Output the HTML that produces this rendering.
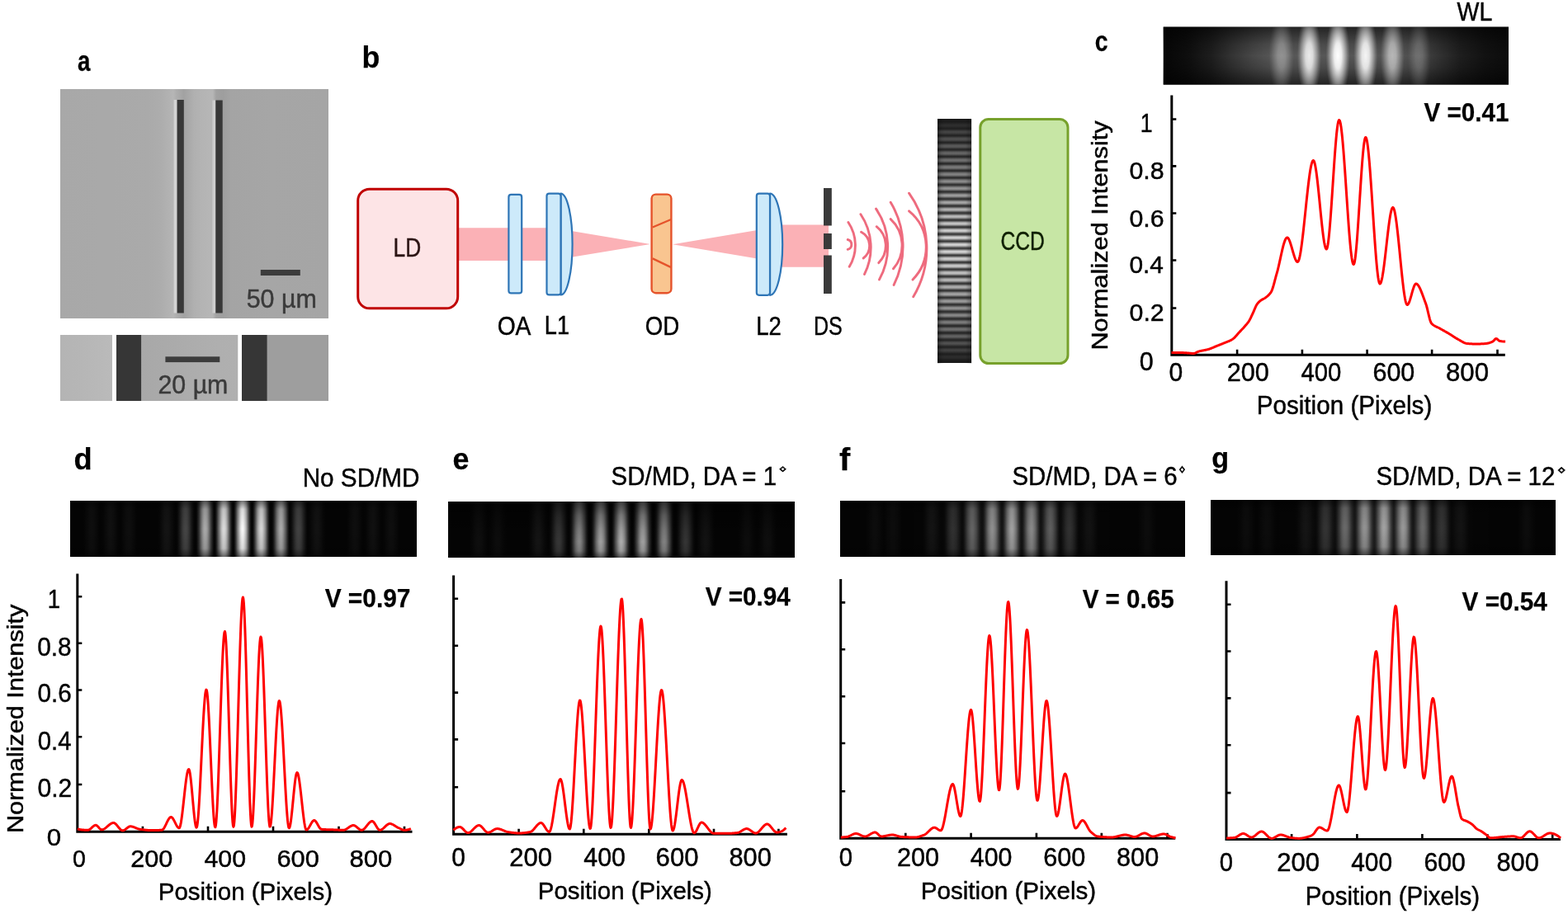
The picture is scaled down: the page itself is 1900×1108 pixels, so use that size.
<!DOCTYPE html><html><head><meta charset="utf-8"><title>Figure</title><style>html,body{margin:0;padding:0;background:#fff;overflow:hidden}svg{display:block}</style></head><body><svg width="1900" height="1108" viewBox="0 0 1900 1108" font-family="&quot;Liberation Sans&quot;, &quot;DejaVu Sans&quot;, sans-serif"><defs><linearGradient id="sg1_0" gradientUnits="userSpaceOnUse" x1="73" y1="0" x2="137" y2="0"><stop offset="0" stop-color="#a8a8a8"/><stop offset="0.73" stop-color="#a9a9a9"/><stop offset="1" stop-color="#a9a9a9"/></linearGradient><linearGradient id="sg1_1" gradientUnits="userSpaceOnUse" x1="137" y1="0" x2="201" y2="0"><stop offset="0" stop-color="#a9a9a9"/><stop offset="0.67" stop-color="#aaaaaa"/><stop offset="0.91" stop-color="#adadad"/><stop offset="1" stop-color="#b0b0b0"/></linearGradient><linearGradient id="sg1_2" gradientUnits="userSpaceOnUse" x1="201" y1="0" x2="265" y2="0"><stop offset="0" stop-color="#b0b0b0"/><stop offset="0.06" stop-color="#b2b2b2"/><stop offset="0.14" stop-color="#b6b6b6"/><stop offset="0.2" stop-color="#aeaeae"/><stop offset="0.34" stop-color="#a2a2a2"/><stop offset="0.42" stop-color="#a8a8a8"/><stop offset="0.53" stop-color="#b0b0b0"/><stop offset="0.69" stop-color="#b4b4b4"/><stop offset="0.84" stop-color="#b6b6b6"/><stop offset="0.89" stop-color="#b6b6b6"/><stop offset="0.95" stop-color="#a2a2a2"/><stop offset="1" stop-color="#a0a0a0"/></linearGradient><linearGradient id="sg1_3" gradientUnits="userSpaceOnUse" x1="265" y1="0" x2="329" y2="0"><stop offset="0" stop-color="#a0a0a0"/><stop offset="0.08" stop-color="#9e9e9e"/><stop offset="0.23" stop-color="#a4a4a4"/><stop offset="1" stop-color="#a6a6a6"/></linearGradient><linearGradient id="sg1_4" gradientUnits="userSpaceOnUse" x1="329" y1="0" x2="393" y2="0"><stop offset="0" stop-color="#a6a6a6"/><stop offset="0.02" stop-color="#a6a6a6"/><stop offset="1" stop-color="#a5a5a5"/></linearGradient><linearGradient id="sg1_5" gradientUnits="userSpaceOnUse" x1="393" y1="0" x2="398" y2="0"><stop offset="0" stop-color="#a5a5a5"/><stop offset="0.9" stop-color="#a5a5a5"/><stop offset="1" stop-color="#a5a5a5"/></linearGradient><linearGradient id="sg2_0" gradientUnits="userSpaceOnUse" x1="73" y1="0" x2="137" y2="0"><stop offset="0" stop-color="#b4b4b4"/><stop offset="0.42" stop-color="#b6b6b6"/><stop offset="0.98" stop-color="#bababa"/><stop offset="0.99" stop-color="#ffffff"/><stop offset="1" stop-color="#ffffff"/></linearGradient><linearGradient id="sg2_1" gradientUnits="userSpaceOnUse" x1="137" y1="0" x2="201" y2="0"><stop offset="0" stop-color="#ffffff"/><stop offset="0.06" stop-color="#ffffff"/><stop offset="0.07" stop-color="#363636"/><stop offset="0.53" stop-color="#363636"/><stop offset="0.54" stop-color="#a8a8a8"/><stop offset="0.98" stop-color="#aaaaaa"/><stop offset="1" stop-color="#aaaaaa"/></linearGradient><linearGradient id="sg2_2" gradientUnits="userSpaceOnUse" x1="201" y1="0" x2="265" y2="0"><stop offset="0" stop-color="#aaaaaa"/><stop offset="0.77" stop-color="#aeaeae"/><stop offset="1" stop-color="#afafaf"/></linearGradient><linearGradient id="sg2_3" gradientUnits="userSpaceOnUse" x1="265" y1="0" x2="329" y2="0"><stop offset="0" stop-color="#afafaf"/><stop offset="0.36" stop-color="#b0b0b0"/><stop offset="0.37" stop-color="#ffffff"/><stop offset="0.43" stop-color="#ffffff"/><stop offset="0.44" stop-color="#363636"/><stop offset="0.91" stop-color="#363636"/><stop offset="0.92" stop-color="#9e9e9e"/><stop offset="1" stop-color="#9e9e9e"/></linearGradient><linearGradient id="sg2_4" gradientUnits="userSpaceOnUse" x1="329" y1="0" x2="393" y2="0"><stop offset="0" stop-color="#9e9e9e"/><stop offset="1" stop-color="#9e9e9e"/></linearGradient><linearGradient id="sg2_5" gradientUnits="userSpaceOnUse" x1="393" y1="0" x2="398" y2="0"><stop offset="0" stop-color="#9e9e9e"/><stop offset="0.9" stop-color="#9e9e9e"/><stop offset="1" stop-color="#9e9e9e"/></linearGradient><linearGradient id="sg3_0" gradientUnits="userSpaceOnUse" x1="0" y1="144" x2="0" y2="176"><stop offset="0" stop-color="#1a1a1a"/><stop offset="0.01" stop-color="#1a1a1a"/><stop offset="0.03" stop-color="#1b1b1b"/><stop offset="0.04" stop-color="#1b1b1b"/><stop offset="0.06" stop-color="#1c1c1c"/><stop offset="0.08" stop-color="#1c1c1c"/><stop offset="0.09" stop-color="#1b1b1b"/><stop offset="0.11" stop-color="#1c1c1c"/><stop offset="0.12" stop-color="#1d1d1d"/><stop offset="0.14" stop-color="#1f1f1f"/><stop offset="0.15" stop-color="#212121"/><stop offset="0.17" stop-color="#242424"/><stop offset="0.18" stop-color="#262626"/><stop offset="0.2" stop-color="#292929"/><stop offset="0.22" stop-color="#2b2b2b"/><stop offset="0.23" stop-color="#2d2d2d"/><stop offset="0.25" stop-color="#2e2e2e"/><stop offset="0.26" stop-color="#2e2e2e"/><stop offset="0.28" stop-color="#2d2d2d"/><stop offset="0.29" stop-color="#2b2b2b"/><stop offset="0.31" stop-color="#282828"/><stop offset="0.33" stop-color="#252525"/><stop offset="0.34" stop-color="#222222"/><stop offset="0.36" stop-color="#202020"/><stop offset="0.37" stop-color="#202020"/><stop offset="0.39" stop-color="#232323"/><stop offset="0.4" stop-color="#282828"/><stop offset="0.42" stop-color="#2d2d2d"/><stop offset="0.43" stop-color="#333333"/><stop offset="0.45" stop-color="#393939"/><stop offset="0.47" stop-color="#3e3e3e"/><stop offset="0.48" stop-color="#424242"/><stop offset="0.5" stop-color="#454545"/><stop offset="0.51" stop-color="#444444"/><stop offset="0.53" stop-color="#424242"/><stop offset="0.54" stop-color="#3e3e3e"/><stop offset="0.56" stop-color="#393939"/><stop offset="0.58" stop-color="#333333"/><stop offset="0.59" stop-color="#2d2d2d"/><stop offset="0.61" stop-color="#272727"/><stop offset="0.62" stop-color="#232323"/><stop offset="0.64" stop-color="#232323"/><stop offset="0.65" stop-color="#272727"/><stop offset="0.67" stop-color="#2d2d2d"/><stop offset="0.68" stop-color="#343434"/><stop offset="0.7" stop-color="#3c3c3c"/><stop offset="0.72" stop-color="#434343"/><stop offset="0.73" stop-color="#494949"/><stop offset="0.75" stop-color="#4d4d4d"/><stop offset="0.76" stop-color="#4f4f4f"/><stop offset="0.78" stop-color="#4f4f4f"/><stop offset="0.79" stop-color="#4c4c4c"/><stop offset="0.81" stop-color="#474747"/><stop offset="0.83" stop-color="#414141"/><stop offset="0.84" stop-color="#393939"/><stop offset="0.86" stop-color="#323232"/><stop offset="0.87" stop-color="#2b2b2b"/><stop offset="0.89" stop-color="#252525"/><stop offset="0.9" stop-color="#242424"/><stop offset="0.92" stop-color="#292929"/><stop offset="0.93" stop-color="#303030"/><stop offset="0.95" stop-color="#393939"/><stop offset="0.97" stop-color="#424242"/><stop offset="0.98" stop-color="#4b4b4b"/><stop offset="1" stop-color="#525252"/><stop offset="1" stop-color="#535353"/></linearGradient><linearGradient id="sg3_1" gradientUnits="userSpaceOnUse" x1="0" y1="176" x2="0" y2="208"><stop offset="0" stop-color="#535353"/><stop offset="0.01" stop-color="#575757"/><stop offset="0.03" stop-color="#5a5a5a"/><stop offset="0.04" stop-color="#595959"/><stop offset="0.06" stop-color="#565656"/><stop offset="0.08" stop-color="#515151"/><stop offset="0.09" stop-color="#494949"/><stop offset="0.11" stop-color="#404040"/><stop offset="0.12" stop-color="#373737"/><stop offset="0.14" stop-color="#2e2e2e"/><stop offset="0.15" stop-color="#282828"/><stop offset="0.17" stop-color="#262626"/><stop offset="0.18" stop-color="#2b2b2b"/><stop offset="0.2" stop-color="#333333"/><stop offset="0.22" stop-color="#3d3d3d"/><stop offset="0.23" stop-color="#484848"/><stop offset="0.25" stop-color="#525252"/><stop offset="0.26" stop-color="#5b5b5b"/><stop offset="0.28" stop-color="#616161"/><stop offset="0.29" stop-color="#646464"/><stop offset="0.31" stop-color="#646464"/><stop offset="0.33" stop-color="#616161"/><stop offset="0.34" stop-color="#5a5a5a"/><stop offset="0.36" stop-color="#515151"/><stop offset="0.37" stop-color="#474747"/><stop offset="0.39" stop-color="#3c3c3c"/><stop offset="0.4" stop-color="#323232"/><stop offset="0.42" stop-color="#2a2a2a"/><stop offset="0.43" stop-color="#272727"/><stop offset="0.45" stop-color="#2d2d2d"/><stop offset="0.47" stop-color="#363636"/><stop offset="0.48" stop-color="#414141"/><stop offset="0.5" stop-color="#4e4e4e"/><stop offset="0.51" stop-color="#595959"/><stop offset="0.53" stop-color="#636363"/><stop offset="0.54" stop-color="#6a6a6a"/><stop offset="0.56" stop-color="#6e6e6e"/><stop offset="0.58" stop-color="#6f6f6f"/><stop offset="0.59" stop-color="#6b6b6b"/><stop offset="0.61" stop-color="#646464"/><stop offset="0.62" stop-color="#5a5a5a"/><stop offset="0.64" stop-color="#4f4f4f"/><stop offset="0.65" stop-color="#424242"/><stop offset="0.67" stop-color="#373737"/><stop offset="0.68" stop-color="#2d2d2d"/><stop offset="0.7" stop-color="#292929"/><stop offset="0.72" stop-color="#2e2e2e"/><stop offset="0.73" stop-color="#393939"/><stop offset="0.75" stop-color="#454545"/><stop offset="0.76" stop-color="#535353"/><stop offset="0.78" stop-color="#606060"/><stop offset="0.79" stop-color="#6b6b6b"/><stop offset="0.81" stop-color="#747474"/><stop offset="0.83" stop-color="#787878"/><stop offset="0.84" stop-color="#797979"/><stop offset="0.86" stop-color="#757575"/><stop offset="0.87" stop-color="#6e6e6e"/><stop offset="0.89" stop-color="#636363"/><stop offset="0.9" stop-color="#565656"/><stop offset="0.92" stop-color="#484848"/><stop offset="0.93" stop-color="#3b3b3b"/><stop offset="0.95" stop-color="#303030"/><stop offset="0.97" stop-color="#2b2b2b"/><stop offset="0.98" stop-color="#303030"/><stop offset="1" stop-color="#3a3a3a"/><stop offset="1" stop-color="#3d3d3d"/></linearGradient><linearGradient id="sg3_2" gradientUnits="userSpaceOnUse" x1="0" y1="208" x2="0" y2="240"><stop offset="0" stop-color="#3d3d3d"/><stop offset="0.01" stop-color="#484848"/><stop offset="0.03" stop-color="#575757"/><stop offset="0.04" stop-color="#656565"/><stop offset="0.06" stop-color="#727272"/><stop offset="0.08" stop-color="#7c7c7c"/><stop offset="0.09" stop-color="#818181"/><stop offset="0.11" stop-color="#828282"/><stop offset="0.12" stop-color="#7e7e7e"/><stop offset="0.14" stop-color="#767676"/><stop offset="0.15" stop-color="#6b6b6b"/><stop offset="0.17" stop-color="#5d5d5d"/><stop offset="0.18" stop-color="#4e4e4e"/><stop offset="0.2" stop-color="#3f3f3f"/><stop offset="0.22" stop-color="#333333"/><stop offset="0.23" stop-color="#2c2c2c"/><stop offset="0.25" stop-color="#313131"/><stop offset="0.26" stop-color="#3c3c3c"/><stop offset="0.28" stop-color="#4b4b4b"/><stop offset="0.29" stop-color="#5b5b5b"/><stop offset="0.31" stop-color="#6b6b6b"/><stop offset="0.33" stop-color="#797979"/><stop offset="0.34" stop-color="#838383"/><stop offset="0.36" stop-color="#8a8a8a"/><stop offset="0.37" stop-color="#8b8b8b"/><stop offset="0.39" stop-color="#888888"/><stop offset="0.4" stop-color="#808080"/><stop offset="0.42" stop-color="#737373"/><stop offset="0.43" stop-color="#646464"/><stop offset="0.45" stop-color="#545454"/><stop offset="0.47" stop-color="#444444"/><stop offset="0.48" stop-color="#373737"/><stop offset="0.5" stop-color="#2e2e2e"/><stop offset="0.51" stop-color="#323232"/><stop offset="0.53" stop-color="#3d3d3d"/><stop offset="0.54" stop-color="#4d4d4d"/><stop offset="0.56" stop-color="#5e5e5e"/><stop offset="0.58" stop-color="#707070"/><stop offset="0.59" stop-color="#7f7f7f"/><stop offset="0.61" stop-color="#8b8b8b"/><stop offset="0.62" stop-color="#929292"/><stop offset="0.64" stop-color="#959595"/><stop offset="0.65" stop-color="#919191"/><stop offset="0.67" stop-color="#898989"/><stop offset="0.68" stop-color="#7c7c7c"/><stop offset="0.7" stop-color="#6c6c6c"/><stop offset="0.72" stop-color="#5a5a5a"/><stop offset="0.73" stop-color="#494949"/><stop offset="0.75" stop-color="#3a3a3a"/><stop offset="0.76" stop-color="#303030"/><stop offset="0.78" stop-color="#333333"/><stop offset="0.79" stop-color="#3f3f3f"/><stop offset="0.81" stop-color="#4f4f4f"/><stop offset="0.83" stop-color="#626262"/><stop offset="0.84" stop-color="#747474"/><stop offset="0.86" stop-color="#858585"/><stop offset="0.87" stop-color="#929292"/><stop offset="0.89" stop-color="#9b9b9b"/><stop offset="0.9" stop-color="#9e9e9e"/><stop offset="0.92" stop-color="#9b9b9b"/><stop offset="0.93" stop-color="#929292"/><stop offset="0.95" stop-color="#858585"/><stop offset="0.97" stop-color="#747474"/><stop offset="0.98" stop-color="#616161"/><stop offset="1" stop-color="#4e4e4e"/><stop offset="1" stop-color="#4b4b4b"/></linearGradient><linearGradient id="sg3_3" gradientUnits="userSpaceOnUse" x1="0" y1="240" x2="0" y2="272"><stop offset="0" stop-color="#4b4b4b"/><stop offset="0.01" stop-color="#3e3e3e"/><stop offset="0.03" stop-color="#333333"/><stop offset="0.04" stop-color="#333333"/><stop offset="0.06" stop-color="#404040"/><stop offset="0.08" stop-color="#515151"/><stop offset="0.09" stop-color="#656565"/><stop offset="0.11" stop-color="#797979"/><stop offset="0.12" stop-color="#8b8b8b"/><stop offset="0.14" stop-color="#9a9a9a"/><stop offset="0.15" stop-color="#a4a4a4"/><stop offset="0.17" stop-color="#a8a8a8"/><stop offset="0.18" stop-color="#a5a5a5"/><stop offset="0.2" stop-color="#9c9c9c"/><stop offset="0.22" stop-color="#8e8e8e"/><stop offset="0.23" stop-color="#7c7c7c"/><stop offset="0.25" stop-color="#686868"/><stop offset="0.26" stop-color="#545454"/><stop offset="0.28" stop-color="#424242"/><stop offset="0.29" stop-color="#353535"/><stop offset="0.31" stop-color="#343434"/><stop offset="0.33" stop-color="#414141"/><stop offset="0.34" stop-color="#535353"/><stop offset="0.36" stop-color="#686868"/><stop offset="0.37" stop-color="#7e7e7e"/><stop offset="0.39" stop-color="#929292"/><stop offset="0.4" stop-color="#a2a2a2"/><stop offset="0.42" stop-color="#adadad"/><stop offset="0.43" stop-color="#b2b2b2"/><stop offset="0.45" stop-color="#b0b0b0"/><stop offset="0.47" stop-color="#a7a7a7"/><stop offset="0.48" stop-color="#989898"/><stop offset="0.5" stop-color="#858585"/><stop offset="0.51" stop-color="#707070"/><stop offset="0.53" stop-color="#5a5a5a"/><stop offset="0.54" stop-color="#464646"/><stop offset="0.56" stop-color="#383838"/><stop offset="0.57" stop-color="#353535"/><stop offset="0.59" stop-color="#424242"/><stop offset="0.61" stop-color="#555555"/><stop offset="0.62" stop-color="#6b6b6b"/><stop offset="0.64" stop-color="#828282"/><stop offset="0.65" stop-color="#989898"/><stop offset="0.67" stop-color="#aaaaaa"/><stop offset="0.68" stop-color="#b6b6b6"/><stop offset="0.7" stop-color="#bcbcbc"/><stop offset="0.72" stop-color="#bababa"/><stop offset="0.73" stop-color="#b1b1b1"/><stop offset="0.75" stop-color="#a2a2a2"/><stop offset="0.76" stop-color="#8e8e8e"/><stop offset="0.78" stop-color="#787878"/><stop offset="0.79" stop-color="#606060"/><stop offset="0.81" stop-color="#4b4b4b"/><stop offset="0.82" stop-color="#3b3b3b"/><stop offset="0.84" stop-color="#363636"/><stop offset="0.86" stop-color="#434343"/><stop offset="0.87" stop-color="#565656"/><stop offset="0.89" stop-color="#6e6e6e"/><stop offset="0.9" stop-color="#878787"/><stop offset="0.92" stop-color="#9e9e9e"/><stop offset="0.93" stop-color="#b1b1b1"/><stop offset="0.95" stop-color="#bfbfbf"/><stop offset="0.97" stop-color="#c5c5c5"/><stop offset="0.98" stop-color="#c4c4c4"/><stop offset="1" stop-color="#bcbcbc"/><stop offset="1" stop-color="#b9b9b9"/></linearGradient><linearGradient id="sg3_4" gradientUnits="userSpaceOnUse" x1="0" y1="272" x2="0" y2="304"><stop offset="0" stop-color="#b9b9b9"/><stop offset="0.01" stop-color="#adadad"/><stop offset="0.03" stop-color="#989898"/><stop offset="0.04" stop-color="#808080"/><stop offset="0.06" stop-color="#676767"/><stop offset="0.07" stop-color="#505050"/><stop offset="0.09" stop-color="#3e3e3e"/><stop offset="0.11" stop-color="#383838"/><stop offset="0.12" stop-color="#434343"/><stop offset="0.14" stop-color="#585858"/><stop offset="0.15" stop-color="#707070"/><stop offset="0.17" stop-color="#8a8a8a"/><stop offset="0.18" stop-color="#a3a3a3"/><stop offset="0.2" stop-color="#b8b8b8"/><stop offset="0.22" stop-color="#c7c7c7"/><stop offset="0.23" stop-color="#cfcfcf"/><stop offset="0.25" stop-color="#cfcfcf"/><stop offset="0.26" stop-color="#c6c6c6"/><stop offset="0.28" stop-color="#b6b6b6"/><stop offset="0.29" stop-color="#a1a1a1"/><stop offset="0.31" stop-color="#888888"/><stop offset="0.32" stop-color="#6d6d6d"/><stop offset="0.34" stop-color="#555555"/><stop offset="0.36" stop-color="#414141"/><stop offset="0.37" stop-color="#383838"/><stop offset="0.39" stop-color="#434343"/><stop offset="0.4" stop-color="#575757"/><stop offset="0.42" stop-color="#707070"/><stop offset="0.43" stop-color="#8b8b8b"/><stop offset="0.45" stop-color="#a4a4a4"/><stop offset="0.47" stop-color="#bababa"/><stop offset="0.48" stop-color="#cacaca"/><stop offset="0.5" stop-color="#d2d2d2"/><stop offset="0.51" stop-color="#d2d2d2"/><stop offset="0.53" stop-color="#cacaca"/><stop offset="0.54" stop-color="#bbbbbb"/><stop offset="0.56" stop-color="#a5a5a5"/><stop offset="0.57" stop-color="#8c8c8c"/><stop offset="0.59" stop-color="#717171"/><stop offset="0.61" stop-color="#585858"/><stop offset="0.62" stop-color="#444444"/><stop offset="0.64" stop-color="#393939"/><stop offset="0.65" stop-color="#424242"/><stop offset="0.67" stop-color="#565656"/><stop offset="0.68" stop-color="#6f6f6f"/><stop offset="0.7" stop-color="#8a8a8a"/><stop offset="0.72" stop-color="#a4a4a4"/><stop offset="0.73" stop-color="#bababa"/><stop offset="0.75" stop-color="#cbcbcb"/><stop offset="0.76" stop-color="#d4d4d4"/><stop offset="0.78" stop-color="#d5d5d5"/><stop offset="0.79" stop-color="#cecece"/><stop offset="0.81" stop-color="#bfbfbf"/><stop offset="0.82" stop-color="#aaaaaa"/><stop offset="0.84" stop-color="#909090"/><stop offset="0.86" stop-color="#757575"/><stop offset="0.87" stop-color="#5b5b5b"/><stop offset="0.89" stop-color="#464646"/><stop offset="0.9" stop-color="#393939"/><stop offset="0.92" stop-color="#414141"/><stop offset="0.93" stop-color="#545454"/><stop offset="0.95" stop-color="#6d6d6d"/><stop offset="0.97" stop-color="#878787"/><stop offset="0.98" stop-color="#a1a1a1"/><stop offset="1" stop-color="#b8b8b8"/><stop offset="1" stop-color="#bbbbbb"/></linearGradient><linearGradient id="sg3_5" gradientUnits="userSpaceOnUse" x1="0" y1="304" x2="0" y2="336"><stop offset="0" stop-color="#bbbbbb"/><stop offset="0.01" stop-color="#c9c9c9"/><stop offset="0.03" stop-color="#d2d2d2"/><stop offset="0.04" stop-color="#d4d4d4"/><stop offset="0.06" stop-color="#cdcdcd"/><stop offset="0.07" stop-color="#bebebe"/><stop offset="0.09" stop-color="#aaaaaa"/><stop offset="0.11" stop-color="#919191"/><stop offset="0.12" stop-color="#767676"/><stop offset="0.14" stop-color="#5c5c5c"/><stop offset="0.15" stop-color="#474747"/><stop offset="0.17" stop-color="#393939"/><stop offset="0.18" stop-color="#3f3f3f"/><stop offset="0.2" stop-color="#505050"/><stop offset="0.22" stop-color="#686868"/><stop offset="0.23" stop-color="#828282"/><stop offset="0.25" stop-color="#9c9c9c"/><stop offset="0.26" stop-color="#b2b2b2"/><stop offset="0.28" stop-color="#c3c3c3"/><stop offset="0.29" stop-color="#cdcdcd"/><stop offset="0.31" stop-color="#cfcfcf"/><stop offset="0.32" stop-color="#c9c9c9"/><stop offset="0.34" stop-color="#bcbcbc"/><stop offset="0.36" stop-color="#a8a8a8"/><stop offset="0.37" stop-color="#909090"/><stop offset="0.39" stop-color="#767676"/><stop offset="0.4" stop-color="#5d5d5d"/><stop offset="0.42" stop-color="#474747"/><stop offset="0.43" stop-color="#393939"/><stop offset="0.45" stop-color="#3c3c3c"/><stop offset="0.47" stop-color="#4d4d4d"/><stop offset="0.48" stop-color="#646464"/><stop offset="0.5" stop-color="#7d7d7d"/><stop offset="0.51" stop-color="#969696"/><stop offset="0.53" stop-color="#acacac"/><stop offset="0.54" stop-color="#bdbdbd"/><stop offset="0.56" stop-color="#c7c7c7"/><stop offset="0.57" stop-color="#cacaca"/><stop offset="0.59" stop-color="#c4c4c4"/><stop offset="0.61" stop-color="#b8b8b8"/><stop offset="0.62" stop-color="#a5a5a5"/><stop offset="0.64" stop-color="#8e8e8e"/><stop offset="0.65" stop-color="#757575"/><stop offset="0.67" stop-color="#5c5c5c"/><stop offset="0.68" stop-color="#474747"/><stop offset="0.7" stop-color="#393939"/><stop offset="0.72" stop-color="#3a3a3a"/><stop offset="0.73" stop-color="#494949"/><stop offset="0.75" stop-color="#5e5e5e"/><stop offset="0.76" stop-color="#757575"/><stop offset="0.78" stop-color="#8d8d8d"/><stop offset="0.79" stop-color="#a2a2a2"/><stop offset="0.81" stop-color="#b3b3b3"/><stop offset="0.82" stop-color="#bdbdbd"/><stop offset="0.84" stop-color="#c1c1c1"/><stop offset="0.86" stop-color="#bcbcbc"/><stop offset="0.87" stop-color="#b1b1b1"/><stop offset="0.89" stop-color="#a0a0a0"/><stop offset="0.9" stop-color="#8a8a8a"/><stop offset="0.92" stop-color="#737373"/><stop offset="0.93" stop-color="#5b5b5b"/><stop offset="0.95" stop-color="#474747"/><stop offset="0.97" stop-color="#383838"/><stop offset="0.98" stop-color="#373737"/><stop offset="1" stop-color="#444444"/><stop offset="1" stop-color="#484848"/></linearGradient><linearGradient id="sg3_6" gradientUnits="userSpaceOnUse" x1="0" y1="336" x2="0" y2="368"><stop offset="0" stop-color="#484848"/><stop offset="0.01" stop-color="#585858"/><stop offset="0.03" stop-color="#6e6e6e"/><stop offset="0.04" stop-color="#858585"/><stop offset="0.06" stop-color="#999999"/><stop offset="0.07" stop-color="#a9a9a9"/><stop offset="0.09" stop-color="#b4b4b4"/><stop offset="0.11" stop-color="#b7b7b7"/><stop offset="0.12" stop-color="#b4b4b4"/><stop offset="0.14" stop-color="#aaaaaa"/><stop offset="0.15" stop-color="#9a9a9a"/><stop offset="0.17" stop-color="#868686"/><stop offset="0.18" stop-color="#707070"/><stop offset="0.2" stop-color="#5a5a5a"/><stop offset="0.22" stop-color="#464646"/><stop offset="0.23" stop-color="#373737"/><stop offset="0.25" stop-color="#353535"/><stop offset="0.26" stop-color="#404040"/><stop offset="0.28" stop-color="#525252"/><stop offset="0.29" stop-color="#676767"/><stop offset="0.31" stop-color="#7c7c7c"/><stop offset="0.32" stop-color="#909090"/><stop offset="0.34" stop-color="#a0a0a0"/><stop offset="0.36" stop-color="#aaaaaa"/><stop offset="0.37" stop-color="#aeaeae"/><stop offset="0.39" stop-color="#acacac"/><stop offset="0.4" stop-color="#a3a3a3"/><stop offset="0.42" stop-color="#949494"/><stop offset="0.43" stop-color="#828282"/><stop offset="0.45" stop-color="#6d6d6d"/><stop offset="0.47" stop-color="#585858"/><stop offset="0.48" stop-color="#454545"/><stop offset="0.5" stop-color="#373737"/><stop offset="0.51" stop-color="#323232"/><stop offset="0.53" stop-color="#3d3d3d"/><stop offset="0.54" stop-color="#4d4d4d"/><stop offset="0.56" stop-color="#606060"/><stop offset="0.57" stop-color="#757575"/><stop offset="0.59" stop-color="#878787"/><stop offset="0.61" stop-color="#969696"/><stop offset="0.62" stop-color="#a0a0a0"/><stop offset="0.64" stop-color="#a5a5a5"/><stop offset="0.65" stop-color="#a3a3a3"/><stop offset="0.67" stop-color="#9b9b9b"/><stop offset="0.68" stop-color="#8e8e8e"/><stop offset="0.7" stop-color="#7d7d7d"/><stop offset="0.72" stop-color="#6a6a6a"/><stop offset="0.73" stop-color="#565656"/><stop offset="0.75" stop-color="#444444"/><stop offset="0.76" stop-color="#363636"/><stop offset="0.78" stop-color="#303030"/><stop offset="0.79" stop-color="#393939"/><stop offset="0.81" stop-color="#484848"/><stop offset="0.82" stop-color="#5a5a5a"/><stop offset="0.84" stop-color="#6d6d6d"/><stop offset="0.86" stop-color="#7e7e7e"/><stop offset="0.87" stop-color="#8d8d8d"/><stop offset="0.89" stop-color="#979797"/><stop offset="0.9" stop-color="#9c9c9c"/><stop offset="0.92" stop-color="#9a9a9a"/><stop offset="0.93" stop-color="#949494"/><stop offset="0.95" stop-color="#888888"/><stop offset="0.97" stop-color="#787878"/><stop offset="0.98" stop-color="#666666"/><stop offset="1" stop-color="#545454"/><stop offset="1" stop-color="#505050"/></linearGradient><linearGradient id="sg3_7" gradientUnits="userSpaceOnUse" x1="0" y1="368" x2="0" y2="400"><stop offset="0" stop-color="#505050"/><stop offset="0.01" stop-color="#424242"/><stop offset="0.03" stop-color="#353535"/><stop offset="0.04" stop-color="#2f2f2f"/><stop offset="0.06" stop-color="#363636"/><stop offset="0.07" stop-color="#434343"/><stop offset="0.09" stop-color="#545454"/><stop offset="0.11" stop-color="#656565"/><stop offset="0.12" stop-color="#767676"/><stop offset="0.14" stop-color="#848484"/><stop offset="0.15" stop-color="#8d8d8d"/><stop offset="0.17" stop-color="#929292"/><stop offset="0.18" stop-color="#929292"/><stop offset="0.2" stop-color="#8c8c8c"/><stop offset="0.22" stop-color="#818181"/><stop offset="0.23" stop-color="#737373"/><stop offset="0.25" stop-color="#626262"/><stop offset="0.26" stop-color="#515151"/><stop offset="0.28" stop-color="#414141"/><stop offset="0.29" stop-color="#343434"/><stop offset="0.31" stop-color="#2d2d2d"/><stop offset="0.32" stop-color="#333333"/><stop offset="0.34" stop-color="#3f3f3f"/><stop offset="0.36" stop-color="#4e4e4e"/><stop offset="0.37" stop-color="#5e5e5e"/><stop offset="0.39" stop-color="#6d6d6d"/><stop offset="0.4" stop-color="#7a7a7a"/><stop offset="0.42" stop-color="#838383"/><stop offset="0.43" stop-color="#888888"/><stop offset="0.45" stop-color="#888888"/><stop offset="0.47" stop-color="#838383"/><stop offset="0.48" stop-color="#797979"/><stop offset="0.5" stop-color="#6c6c6c"/><stop offset="0.51" stop-color="#5d5d5d"/><stop offset="0.53" stop-color="#4d4d4d"/><stop offset="0.54" stop-color="#3f3f3f"/><stop offset="0.56" stop-color="#333333"/><stop offset="0.57" stop-color="#2c2c2c"/><stop offset="0.59" stop-color="#303030"/><stop offset="0.61" stop-color="#3a3a3a"/><stop offset="0.62" stop-color="#474747"/><stop offset="0.64" stop-color="#555555"/><stop offset="0.65" stop-color="#636363"/><stop offset="0.67" stop-color="#6e6e6e"/><stop offset="0.68" stop-color="#777777"/><stop offset="0.7" stop-color="#7b7b7b"/><stop offset="0.72" stop-color="#7c7c7c"/><stop offset="0.73" stop-color="#777777"/><stop offset="0.75" stop-color="#6f6f6f"/><stop offset="0.76" stop-color="#646464"/><stop offset="0.78" stop-color="#575757"/><stop offset="0.79" stop-color="#494949"/><stop offset="0.81" stop-color="#3c3c3c"/><stop offset="0.82" stop-color="#313131"/><stop offset="0.84" stop-color="#2a2a2a"/><stop offset="0.86" stop-color="#2c2c2c"/><stop offset="0.87" stop-color="#353535"/><stop offset="0.89" stop-color="#404040"/><stop offset="0.9" stop-color="#4d4d4d"/><stop offset="0.92" stop-color="#595959"/><stop offset="0.93" stop-color="#636363"/><stop offset="0.95" stop-color="#6b6b6b"/><stop offset="0.97" stop-color="#6f6f6f"/><stop offset="0.98" stop-color="#6f6f6f"/><stop offset="1" stop-color="#6c6c6c"/><stop offset="1" stop-color="#6b6b6b"/></linearGradient><linearGradient id="sg3_8" gradientUnits="userSpaceOnUse" x1="0" y1="400" x2="0" y2="432"><stop offset="0" stop-color="#6b6b6b"/><stop offset="0.01" stop-color="#656565"/><stop offset="0.03" stop-color="#5c5c5c"/><stop offset="0.04" stop-color="#505050"/><stop offset="0.06" stop-color="#444444"/><stop offset="0.07" stop-color="#383838"/><stop offset="0.09" stop-color="#2e2e2e"/><stop offset="0.11" stop-color="#282828"/><stop offset="0.12" stop-color="#292929"/><stop offset="0.14" stop-color="#303030"/><stop offset="0.15" stop-color="#3a3a3a"/><stop offset="0.17" stop-color="#444444"/><stop offset="0.18" stop-color="#4f4f4f"/><stop offset="0.2" stop-color="#575757"/><stop offset="0.22" stop-color="#5e5e5e"/><stop offset="0.23" stop-color="#616161"/><stop offset="0.25" stop-color="#626262"/><stop offset="0.26" stop-color="#5f5f5f"/><stop offset="0.28" stop-color="#595959"/><stop offset="0.29" stop-color="#515151"/><stop offset="0.31" stop-color="#474747"/><stop offset="0.32" stop-color="#3d3d3d"/><stop offset="0.34" stop-color="#333333"/><stop offset="0.36" stop-color="#2b2b2b"/><stop offset="0.37" stop-color="#262626"/><stop offset="0.39" stop-color="#262626"/><stop offset="0.4" stop-color="#2b2b2b"/><stop offset="0.42" stop-color="#323232"/><stop offset="0.43" stop-color="#3a3a3a"/><stop offset="0.45" stop-color="#424242"/><stop offset="0.47" stop-color="#494949"/><stop offset="0.48" stop-color="#4e4e4e"/><stop offset="0.5" stop-color="#515151"/><stop offset="0.51" stop-color="#515151"/><stop offset="0.53" stop-color="#4f4f4f"/><stop offset="0.54" stop-color="#4b4b4b"/><stop offset="0.56" stop-color="#444444"/><stop offset="0.57" stop-color="#3d3d3d"/><stop offset="0.59" stop-color="#353535"/><stop offset="0.61" stop-color="#2e2e2e"/><stop offset="0.62" stop-color="#272727"/><stop offset="0.64" stop-color="#232323"/><stop offset="0.65" stop-color="#232323"/><stop offset="0.67" stop-color="#262626"/><stop offset="0.68" stop-color="#2b2b2b"/><stop offset="0.7" stop-color="#313131"/><stop offset="0.72" stop-color="#373737"/><stop offset="0.73" stop-color="#3b3b3b"/><stop offset="0.75" stop-color="#3f3f3f"/><stop offset="0.76" stop-color="#414141"/><stop offset="0.78" stop-color="#414141"/><stop offset="0.79" stop-color="#3f3f3f"/><stop offset="0.81" stop-color="#3b3b3b"/><stop offset="0.82" stop-color="#373737"/><stop offset="0.84" stop-color="#323232"/><stop offset="0.86" stop-color="#2c2c2c"/><stop offset="0.87" stop-color="#272727"/><stop offset="0.89" stop-color="#232323"/><stop offset="0.9" stop-color="#202020"/><stop offset="0.92" stop-color="#1f1f1f"/><stop offset="0.93" stop-color="#212121"/><stop offset="0.95" stop-color="#232323"/><stop offset="0.97" stop-color="#262626"/><stop offset="0.98" stop-color="#292929"/><stop offset="1" stop-color="#2b2b2b"/><stop offset="1" stop-color="#2b2b2b"/></linearGradient><linearGradient id="sg3_9" gradientUnits="userSpaceOnUse" x1="0" y1="432" x2="0" y2="440"><stop offset="0" stop-color="#2b2b2b"/><stop offset="0.05" stop-color="#2c2c2c"/><stop offset="0.11" stop-color="#2c2c2c"/><stop offset="0.17" stop-color="#2b2b2b"/><stop offset="0.24" stop-color="#2a2a2a"/><stop offset="0.3" stop-color="#282828"/><stop offset="0.36" stop-color="#252525"/><stop offset="0.42" stop-color="#232323"/><stop offset="0.49" stop-color="#202020"/><stop offset="0.55" stop-color="#1e1e1e"/><stop offset="0.61" stop-color="#1d1d1d"/><stop offset="0.67" stop-color="#1c1c1c"/><stop offset="0.74" stop-color="#1b1b1b"/><stop offset="0.8" stop-color="#1b1b1b"/><stop offset="0.86" stop-color="#1b1b1b"/><stop offset="0.92" stop-color="#1b1b1b"/><stop offset="0.99" stop-color="#1b1b1b"/><stop offset="1" stop-color="#1b1b1b"/></linearGradient><linearGradient id="ccdfr2" x1="0" y1="0" x2="1" y2="0"><stop offset="0" stop-color="#000" stop-opacity="0.45"/><stop offset="0.1" stop-color="#000" stop-opacity="0.1"/><stop offset="0.2" stop-color="#000" stop-opacity="0"/><stop offset="0.82" stop-color="#000" stop-opacity="0"/><stop offset="1" stop-color="#000" stop-opacity="0.3"/></linearGradient><linearGradient id="wlglow" x1="0" y1="0" x2="1" y2="0"><stop offset="0" stop-color="#060606"/><stop offset="0.07" stop-color="#0e0e0e"/><stop offset="0.14" stop-color="#1e1e1e"/><stop offset="0.2" stop-color="#343434"/><stop offset="0.26" stop-color="#484848"/><stop offset="0.31" stop-color="#565656"/><stop offset="0.36" stop-color="#585858"/><stop offset="0.69" stop-color="#545454"/><stop offset="0.74" stop-color="#484848"/><stop offset="0.8" stop-color="#323232"/><stop offset="0.86" stop-color="#1e1e1e"/><stop offset="0.93" stop-color="#121212"/><stop offset="1" stop-color="#0c0c0c"/></linearGradient><linearGradient id="wlfade" x1="0" y1="0" x2="0" y2="1"><stop offset="0" stop-color="#000" stop-opacity="0.6"/><stop offset="0.3" stop-color="#000" stop-opacity="0.15"/><stop offset="0.5" stop-color="#000" stop-opacity="0"/><stop offset="0.7" stop-color="#000" stop-opacity="0.15"/><stop offset="1" stop-color="#000" stop-opacity="0.6"/></linearGradient><radialGradient id="wlb"><stop offset="0" stop-color="#fff" stop-opacity="1"/><stop offset="0.3" stop-color="#fff" stop-opacity="0.9"/><stop offset="0.6" stop-color="#fff" stop-opacity="0.5"/><stop offset="0.85" stop-color="#fff" stop-opacity="0.15"/><stop offset="1" stop-color="#fff" stop-opacity="0"/></radialGradient><clipPath id="wlclip"><rect x="1409.7" y="32.6" width="418.3" height="70"/></clipPath><linearGradient id="fadev" x1="0" y1="0" x2="0" y2="1"><stop offset="0" stop-color="#000" stop-opacity="0.55"/><stop offset="0.15" stop-color="#000" stop-opacity="0.12"/><stop offset="0.5" stop-color="#000" stop-opacity="0"/><stop offset="0.85" stop-color="#000" stop-opacity="0.12"/><stop offset="1" stop-color="#000" stop-opacity="0.55"/></linearGradient><linearGradient id="fadevb" x1="0" y1="0" x2="0" y2="1"><stop offset="0" stop-color="#000" stop-opacity="0.65"/><stop offset="0.25" stop-color="#000" stop-opacity="0.3"/><stop offset="0.5" stop-color="#000" stop-opacity="0.1"/><stop offset="0.72" stop-color="#000" stop-opacity="0"/><stop offset="0.88" stop-color="#000" stop-opacity="0.1"/><stop offset="1" stop-color="#000" stop-opacity="0.55"/></linearGradient><linearGradient id="sg4_0" gradientUnits="userSpaceOnUse" x1="85" y1="0" x2="117" y2="0"><stop offset="0" stop-color="#040404"/><stop offset="0.03" stop-color="#040404"/><stop offset="0.06" stop-color="#040404"/><stop offset="0.09" stop-color="#040404"/><stop offset="0.12" stop-color="#040404"/><stop offset="0.16" stop-color="#040404"/><stop offset="0.19" stop-color="#040404"/><stop offset="0.22" stop-color="#040404"/><stop offset="0.25" stop-color="#040404"/><stop offset="0.28" stop-color="#040404"/><stop offset="0.31" stop-color="#040404"/><stop offset="0.34" stop-color="#040404"/><stop offset="0.38" stop-color="#040404"/><stop offset="0.41" stop-color="#040404"/><stop offset="0.44" stop-color="#040404"/><stop offset="0.47" stop-color="#040404"/><stop offset="0.5" stop-color="#040404"/><stop offset="0.53" stop-color="#050505"/><stop offset="0.56" stop-color="#060606"/><stop offset="0.59" stop-color="#080808"/><stop offset="0.62" stop-color="#090909"/><stop offset="0.66" stop-color="#0a0a0a"/><stop offset="0.69" stop-color="#0b0b0b"/><stop offset="0.72" stop-color="#0d0d0d"/><stop offset="0.75" stop-color="#0d0d0d"/><stop offset="0.78" stop-color="#0e0e0e"/><stop offset="0.81" stop-color="#0e0e0e"/><stop offset="0.84" stop-color="#0e0e0e"/><stop offset="0.88" stop-color="#0d0d0d"/><stop offset="0.91" stop-color="#0d0d0d"/><stop offset="0.94" stop-color="#0b0b0b"/><stop offset="0.97" stop-color="#0a0a0a"/><stop offset="1" stop-color="#090909"/></linearGradient><linearGradient id="sg4_1" gradientUnits="userSpaceOnUse" x1="117" y1="0" x2="149" y2="0"><stop offset="0" stop-color="#090909"/><stop offset="0.03" stop-color="#080808"/><stop offset="0.06" stop-color="#060606"/><stop offset="0.09" stop-color="#050505"/><stop offset="0.12" stop-color="#040404"/><stop offset="0.16" stop-color="#040404"/><stop offset="0.19" stop-color="#040404"/><stop offset="0.22" stop-color="#050505"/><stop offset="0.25" stop-color="#050505"/><stop offset="0.28" stop-color="#070707"/><stop offset="0.31" stop-color="#080808"/><stop offset="0.34" stop-color="#0a0a0a"/><stop offset="0.38" stop-color="#0b0b0b"/><stop offset="0.41" stop-color="#0d0d0d"/><stop offset="0.44" stop-color="#0e0e0e"/><stop offset="0.47" stop-color="#0f0f0f"/><stop offset="0.5" stop-color="#101010"/><stop offset="0.53" stop-color="#101010"/><stop offset="0.56" stop-color="#101010"/><stop offset="0.59" stop-color="#0f0f0f"/><stop offset="0.62" stop-color="#0e0e0e"/><stop offset="0.66" stop-color="#0d0d0d"/><stop offset="0.69" stop-color="#0b0b0b"/><stop offset="0.72" stop-color="#0a0a0a"/><stop offset="0.75" stop-color="#080808"/><stop offset="0.78" stop-color="#070707"/><stop offset="0.81" stop-color="#050505"/><stop offset="0.84" stop-color="#050505"/><stop offset="0.88" stop-color="#040404"/><stop offset="0.91" stop-color="#040404"/><stop offset="0.94" stop-color="#050505"/><stop offset="0.97" stop-color="#060606"/><stop offset="1" stop-color="#080808"/></linearGradient><linearGradient id="sg4_2" gradientUnits="userSpaceOnUse" x1="149" y1="0" x2="181" y2="0"><stop offset="0" stop-color="#080808"/><stop offset="0.03" stop-color="#090909"/><stop offset="0.06" stop-color="#0a0a0a"/><stop offset="0.09" stop-color="#0b0b0b"/><stop offset="0.12" stop-color="#0d0d0d"/><stop offset="0.16" stop-color="#0d0d0d"/><stop offset="0.19" stop-color="#0e0e0e"/><stop offset="0.22" stop-color="#0e0e0e"/><stop offset="0.25" stop-color="#0e0e0e"/><stop offset="0.28" stop-color="#0d0d0d"/><stop offset="0.31" stop-color="#0d0d0d"/><stop offset="0.34" stop-color="#0b0b0b"/><stop offset="0.38" stop-color="#0a0a0a"/><stop offset="0.41" stop-color="#090909"/><stop offset="0.44" stop-color="#080808"/><stop offset="0.47" stop-color="#060606"/><stop offset="0.5" stop-color="#050505"/><stop offset="0.53" stop-color="#040404"/><stop offset="0.56" stop-color="#040404"/><stop offset="0.59" stop-color="#040404"/><stop offset="0.62" stop-color="#040404"/><stop offset="0.66" stop-color="#040404"/><stop offset="0.69" stop-color="#040404"/><stop offset="0.72" stop-color="#040404"/><stop offset="0.75" stop-color="#040404"/><stop offset="0.78" stop-color="#040404"/><stop offset="0.81" stop-color="#040404"/><stop offset="0.84" stop-color="#040404"/><stop offset="0.88" stop-color="#040404"/><stop offset="0.91" stop-color="#040404"/><stop offset="0.94" stop-color="#040404"/><stop offset="0.97" stop-color="#040404"/><stop offset="1" stop-color="#040404"/></linearGradient><linearGradient id="sg4_3" gradientUnits="userSpaceOnUse" x1="181" y1="0" x2="213" y2="0"><stop offset="0" stop-color="#040404"/><stop offset="0.03" stop-color="#040404"/><stop offset="0.06" stop-color="#040404"/><stop offset="0.09" stop-color="#040404"/><stop offset="0.12" stop-color="#040404"/><stop offset="0.16" stop-color="#040404"/><stop offset="0.19" stop-color="#040404"/><stop offset="0.22" stop-color="#040404"/><stop offset="0.25" stop-color="#040404"/><stop offset="0.28" stop-color="#040404"/><stop offset="0.31" stop-color="#040404"/><stop offset="0.34" stop-color="#050505"/><stop offset="0.38" stop-color="#060606"/><stop offset="0.41" stop-color="#080808"/><stop offset="0.44" stop-color="#0a0a0a"/><stop offset="0.47" stop-color="#0c0c0c"/><stop offset="0.5" stop-color="#0e0e0e"/><stop offset="0.53" stop-color="#101010"/><stop offset="0.56" stop-color="#121212"/><stop offset="0.59" stop-color="#131313"/><stop offset="0.62" stop-color="#141414"/><stop offset="0.66" stop-color="#141414"/><stop offset="0.69" stop-color="#141414"/><stop offset="0.72" stop-color="#131313"/><stop offset="0.75" stop-color="#121212"/><stop offset="0.78" stop-color="#101010"/><stop offset="0.81" stop-color="#0e0e0e"/><stop offset="0.84" stop-color="#0c0c0c"/><stop offset="0.88" stop-color="#0a0a0a"/><stop offset="0.91" stop-color="#080808"/><stop offset="0.94" stop-color="#060606"/><stop offset="0.97" stop-color="#050505"/><stop offset="1" stop-color="#040404"/></linearGradient><linearGradient id="sg4_4" gradientUnits="userSpaceOnUse" x1="213" y1="0" x2="245" y2="0"><stop offset="0" stop-color="#040404"/><stop offset="0.03" stop-color="#050505"/><stop offset="0.06" stop-color="#080808"/><stop offset="0.09" stop-color="#0d0d0d"/><stop offset="0.12" stop-color="#151515"/><stop offset="0.16" stop-color="#1d1d1d"/><stop offset="0.19" stop-color="#262626"/><stop offset="0.22" stop-color="#2e2e2e"/><stop offset="0.25" stop-color="#363636"/><stop offset="0.28" stop-color="#3d3d3d"/><stop offset="0.31" stop-color="#414141"/><stop offset="0.34" stop-color="#444444"/><stop offset="0.38" stop-color="#454545"/><stop offset="0.41" stop-color="#434343"/><stop offset="0.44" stop-color="#404040"/><stop offset="0.47" stop-color="#3a3a3a"/><stop offset="0.5" stop-color="#333333"/><stop offset="0.53" stop-color="#2b2b2b"/><stop offset="0.56" stop-color="#222222"/><stop offset="0.59" stop-color="#191919"/><stop offset="0.62" stop-color="#121212"/><stop offset="0.66" stop-color="#0b0b0b"/><stop offset="0.69" stop-color="#060606"/><stop offset="0.72" stop-color="#040404"/><stop offset="0.75" stop-color="#040404"/><stop offset="0.78" stop-color="#060606"/><stop offset="0.81" stop-color="#101010"/><stop offset="0.84" stop-color="#1f1f1f"/><stop offset="0.88" stop-color="#323232"/><stop offset="0.91" stop-color="#474747"/><stop offset="0.94" stop-color="#5e5e5e"/><stop offset="0.97" stop-color="#737373"/><stop offset="1" stop-color="#868686"/></linearGradient><linearGradient id="sg4_5" gradientUnits="userSpaceOnUse" x1="245" y1="0" x2="277" y2="0"><stop offset="0" stop-color="#868686"/><stop offset="0.03" stop-color="#969696"/><stop offset="0.06" stop-color="#a2a2a2"/><stop offset="0.09" stop-color="#a8a8a8"/><stop offset="0.12" stop-color="#a9a9a9"/><stop offset="0.16" stop-color="#a3a3a3"/><stop offset="0.19" stop-color="#999999"/><stop offset="0.22" stop-color="#8a8a8a"/><stop offset="0.25" stop-color="#777777"/><stop offset="0.28" stop-color="#626262"/><stop offset="0.31" stop-color="#4c4c4c"/><stop offset="0.34" stop-color="#363636"/><stop offset="0.38" stop-color="#232323"/><stop offset="0.41" stop-color="#131313"/><stop offset="0.44" stop-color="#080808"/><stop offset="0.47" stop-color="#040404"/><stop offset="0.5" stop-color="#0b0b0b"/><stop offset="0.53" stop-color="#1b1b1b"/><stop offset="0.56" stop-color="#313131"/><stop offset="0.59" stop-color="#4b4b4b"/><stop offset="0.62" stop-color="#676767"/><stop offset="0.66" stop-color="#848484"/><stop offset="0.69" stop-color="#9f9f9f"/><stop offset="0.72" stop-color="#b7b7b7"/><stop offset="0.75" stop-color="#c9c9c9"/><stop offset="0.78" stop-color="#d6d6d6"/><stop offset="0.81" stop-color="#dbdbdb"/><stop offset="0.84" stop-color="#d9d9d9"/><stop offset="0.88" stop-color="#cfcfcf"/><stop offset="0.91" stop-color="#bfbfbf"/><stop offset="0.94" stop-color="#a9a9a9"/><stop offset="0.97" stop-color="#8f8f8f"/><stop offset="1" stop-color="#737373"/></linearGradient><linearGradient id="sg4_6" gradientUnits="userSpaceOnUse" x1="277" y1="0" x2="309" y2="0"><stop offset="0" stop-color="#737373"/><stop offset="0.03" stop-color="#565656"/><stop offset="0.06" stop-color="#3b3b3b"/><stop offset="0.09" stop-color="#232323"/><stop offset="0.12" stop-color="#111111"/><stop offset="0.16" stop-color="#060606"/><stop offset="0.19" stop-color="#050505"/><stop offset="0.22" stop-color="#111111"/><stop offset="0.25" stop-color="#252525"/><stop offset="0.28" stop-color="#3f3f3f"/><stop offset="0.31" stop-color="#5e5e5e"/><stop offset="0.34" stop-color="#7f7f7f"/><stop offset="0.38" stop-color="#a0a0a0"/><stop offset="0.41" stop-color="#bdbdbd"/><stop offset="0.44" stop-color="#d7d7d7"/><stop offset="0.47" stop-color="#eaeaea"/><stop offset="0.5" stop-color="#f6f6f6"/><stop offset="0.53" stop-color="#f9f9f9"/><stop offset="0.56" stop-color="#f4f4f4"/><stop offset="0.59" stop-color="#e7e7e7"/><stop offset="0.62" stop-color="#d2d2d2"/><stop offset="0.66" stop-color="#b8b8b8"/><stop offset="0.69" stop-color="#999999"/><stop offset="0.72" stop-color="#787878"/><stop offset="0.75" stop-color="#585858"/><stop offset="0.78" stop-color="#3a3a3a"/><stop offset="0.81" stop-color="#202020"/><stop offset="0.84" stop-color="#0e0e0e"/><stop offset="0.88" stop-color="#040404"/><stop offset="0.91" stop-color="#080808"/><stop offset="0.94" stop-color="#151515"/><stop offset="0.97" stop-color="#292929"/><stop offset="1" stop-color="#414141"/></linearGradient><linearGradient id="sg4_7" gradientUnits="userSpaceOnUse" x1="309" y1="0" x2="341" y2="0"><stop offset="0" stop-color="#414141"/><stop offset="0.03" stop-color="#5d5d5d"/><stop offset="0.06" stop-color="#797979"/><stop offset="0.09" stop-color="#949494"/><stop offset="0.12" stop-color="#acacac"/><stop offset="0.16" stop-color="#c0c0c0"/><stop offset="0.19" stop-color="#cecece"/><stop offset="0.22" stop-color="#d5d5d5"/><stop offset="0.25" stop-color="#d5d5d5"/><stop offset="0.28" stop-color="#cecece"/><stop offset="0.31" stop-color="#c0c0c0"/><stop offset="0.34" stop-color="#acacac"/><stop offset="0.38" stop-color="#949494"/><stop offset="0.41" stop-color="#797979"/><stop offset="0.44" stop-color="#5d5d5d"/><stop offset="0.47" stop-color="#414141"/><stop offset="0.5" stop-color="#292929"/><stop offset="0.53" stop-color="#151515"/><stop offset="0.56" stop-color="#080808"/><stop offset="0.59" stop-color="#040404"/><stop offset="0.62" stop-color="#040404"/><stop offset="0.66" stop-color="#090909"/><stop offset="0.69" stop-color="#141414"/><stop offset="0.72" stop-color="#242424"/><stop offset="0.75" stop-color="#383838"/><stop offset="0.78" stop-color="#4e4e4e"/><stop offset="0.81" stop-color="#646464"/><stop offset="0.84" stop-color="#797979"/><stop offset="0.88" stop-color="#8c8c8c"/><stop offset="0.91" stop-color="#9a9a9a"/><stop offset="0.94" stop-color="#a4a4a4"/><stop offset="0.97" stop-color="#a9a9a9"/><stop offset="1" stop-color="#a8a8a8"/></linearGradient><linearGradient id="sg4_8" gradientUnits="userSpaceOnUse" x1="341" y1="0" x2="373" y2="0"><stop offset="0" stop-color="#a8a8a8"/><stop offset="0.03" stop-color="#a1a1a1"/><stop offset="0.06" stop-color="#959595"/><stop offset="0.09" stop-color="#858585"/><stop offset="0.12" stop-color="#717171"/><stop offset="0.16" stop-color="#5b5b5b"/><stop offset="0.19" stop-color="#454545"/><stop offset="0.22" stop-color="#303030"/><stop offset="0.25" stop-color="#1d1d1d"/><stop offset="0.28" stop-color="#0f0f0f"/><stop offset="0.31" stop-color="#060606"/><stop offset="0.34" stop-color="#080808"/><stop offset="0.38" stop-color="#0d0d0d"/><stop offset="0.41" stop-color="#141414"/><stop offset="0.44" stop-color="#1c1c1c"/><stop offset="0.47" stop-color="#242424"/><stop offset="0.5" stop-color="#2c2c2c"/><stop offset="0.53" stop-color="#343434"/><stop offset="0.56" stop-color="#3a3a3a"/><stop offset="0.59" stop-color="#3f3f3f"/><stop offset="0.62" stop-color="#414141"/><stop offset="0.66" stop-color="#424242"/><stop offset="0.69" stop-color="#404040"/><stop offset="0.72" stop-color="#3d3d3d"/><stop offset="0.75" stop-color="#383838"/><stop offset="0.78" stop-color="#313131"/><stop offset="0.81" stop-color="#292929"/><stop offset="0.84" stop-color="#212121"/><stop offset="0.88" stop-color="#181818"/><stop offset="0.91" stop-color="#111111"/><stop offset="0.94" stop-color="#0b0b0b"/><stop offset="0.97" stop-color="#060606"/><stop offset="1" stop-color="#040404"/></linearGradient><linearGradient id="sg4_9" gradientUnits="userSpaceOnUse" x1="373" y1="0" x2="405" y2="0"><stop offset="0" stop-color="#040404"/><stop offset="0.03" stop-color="#050505"/><stop offset="0.06" stop-color="#060606"/><stop offset="0.09" stop-color="#070707"/><stop offset="0.12" stop-color="#090909"/><stop offset="0.16" stop-color="#0b0b0b"/><stop offset="0.19" stop-color="#0d0d0d"/><stop offset="0.22" stop-color="#0e0e0e"/><stop offset="0.25" stop-color="#101010"/><stop offset="0.28" stop-color="#111111"/><stop offset="0.31" stop-color="#121212"/><stop offset="0.34" stop-color="#121212"/><stop offset="0.38" stop-color="#121212"/><stop offset="0.41" stop-color="#111111"/><stop offset="0.44" stop-color="#101010"/><stop offset="0.47" stop-color="#0e0e0e"/><stop offset="0.5" stop-color="#0d0d0d"/><stop offset="0.53" stop-color="#0b0b0b"/><stop offset="0.56" stop-color="#090909"/><stop offset="0.59" stop-color="#070707"/><stop offset="0.62" stop-color="#060606"/><stop offset="0.66" stop-color="#050505"/><stop offset="0.69" stop-color="#040404"/><stop offset="0.72" stop-color="#040404"/><stop offset="0.75" stop-color="#040404"/><stop offset="0.78" stop-color="#040404"/><stop offset="0.81" stop-color="#040404"/><stop offset="0.84" stop-color="#040404"/><stop offset="0.88" stop-color="#040404"/><stop offset="0.91" stop-color="#040404"/><stop offset="0.94" stop-color="#040404"/><stop offset="0.97" stop-color="#040404"/><stop offset="1" stop-color="#040404"/></linearGradient><linearGradient id="sg4_10" gradientUnits="userSpaceOnUse" x1="405" y1="0" x2="437" y2="0"><stop offset="0" stop-color="#040404"/><stop offset="0.03" stop-color="#040404"/><stop offset="0.06" stop-color="#040404"/><stop offset="0.09" stop-color="#040404"/><stop offset="0.12" stop-color="#040404"/><stop offset="0.16" stop-color="#040404"/><stop offset="0.19" stop-color="#040404"/><stop offset="0.22" stop-color="#040404"/><stop offset="0.25" stop-color="#040404"/><stop offset="0.28" stop-color="#040404"/><stop offset="0.31" stop-color="#040404"/><stop offset="0.34" stop-color="#040404"/><stop offset="0.38" stop-color="#040404"/><stop offset="0.41" stop-color="#040404"/><stop offset="0.44" stop-color="#040404"/><stop offset="0.47" stop-color="#040404"/><stop offset="0.5" stop-color="#050505"/><stop offset="0.53" stop-color="#060606"/><stop offset="0.56" stop-color="#080808"/><stop offset="0.59" stop-color="#090909"/><stop offset="0.62" stop-color="#0a0a0a"/><stop offset="0.66" stop-color="#0b0b0b"/><stop offset="0.69" stop-color="#0d0d0d"/><stop offset="0.72" stop-color="#0d0d0d"/><stop offset="0.75" stop-color="#0e0e0e"/><stop offset="0.78" stop-color="#0e0e0e"/><stop offset="0.81" stop-color="#0e0e0e"/><stop offset="0.84" stop-color="#0d0d0d"/><stop offset="0.88" stop-color="#0d0d0d"/><stop offset="0.91" stop-color="#0b0b0b"/><stop offset="0.94" stop-color="#0a0a0a"/><stop offset="0.97" stop-color="#090909"/><stop offset="1" stop-color="#080808"/></linearGradient><linearGradient id="sg4_11" gradientUnits="userSpaceOnUse" x1="437" y1="0" x2="469" y2="0"><stop offset="0" stop-color="#080808"/><stop offset="0.03" stop-color="#060606"/><stop offset="0.06" stop-color="#050505"/><stop offset="0.09" stop-color="#040404"/><stop offset="0.12" stop-color="#040404"/><stop offset="0.16" stop-color="#050505"/><stop offset="0.19" stop-color="#050505"/><stop offset="0.22" stop-color="#070707"/><stop offset="0.25" stop-color="#080808"/><stop offset="0.28" stop-color="#0a0a0a"/><stop offset="0.31" stop-color="#0b0b0b"/><stop offset="0.34" stop-color="#0d0d0d"/><stop offset="0.38" stop-color="#0e0e0e"/><stop offset="0.41" stop-color="#0f0f0f"/><stop offset="0.44" stop-color="#101010"/><stop offset="0.47" stop-color="#101010"/><stop offset="0.5" stop-color="#101010"/><stop offset="0.53" stop-color="#0f0f0f"/><stop offset="0.56" stop-color="#0e0e0e"/><stop offset="0.59" stop-color="#0d0d0d"/><stop offset="0.62" stop-color="#0b0b0b"/><stop offset="0.66" stop-color="#0a0a0a"/><stop offset="0.69" stop-color="#080808"/><stop offset="0.72" stop-color="#070707"/><stop offset="0.75" stop-color="#050505"/><stop offset="0.78" stop-color="#050505"/><stop offset="0.81" stop-color="#040404"/><stop offset="0.84" stop-color="#040404"/><stop offset="0.88" stop-color="#050505"/><stop offset="0.91" stop-color="#060606"/><stop offset="0.94" stop-color="#080808"/><stop offset="0.97" stop-color="#090909"/><stop offset="1" stop-color="#0a0a0a"/></linearGradient><linearGradient id="sg4_12" gradientUnits="userSpaceOnUse" x1="469" y1="0" x2="501" y2="0"><stop offset="0" stop-color="#0a0a0a"/><stop offset="0.03" stop-color="#0b0b0b"/><stop offset="0.06" stop-color="#0d0d0d"/><stop offset="0.09" stop-color="#0d0d0d"/><stop offset="0.12" stop-color="#0e0e0e"/><stop offset="0.16" stop-color="#0e0e0e"/><stop offset="0.19" stop-color="#0e0e0e"/><stop offset="0.22" stop-color="#0d0d0d"/><stop offset="0.25" stop-color="#0d0d0d"/><stop offset="0.28" stop-color="#0b0b0b"/><stop offset="0.31" stop-color="#0a0a0a"/><stop offset="0.34" stop-color="#090909"/><stop offset="0.38" stop-color="#080808"/><stop offset="0.41" stop-color="#060606"/><stop offset="0.44" stop-color="#050505"/><stop offset="0.47" stop-color="#040404"/><stop offset="0.5" stop-color="#040404"/><stop offset="0.53" stop-color="#040404"/><stop offset="0.56" stop-color="#040404"/><stop offset="0.59" stop-color="#040404"/><stop offset="0.62" stop-color="#040404"/><stop offset="0.66" stop-color="#040404"/><stop offset="0.69" stop-color="#040404"/><stop offset="0.72" stop-color="#040404"/><stop offset="0.75" stop-color="#040404"/><stop offset="0.78" stop-color="#040404"/><stop offset="0.81" stop-color="#040404"/><stop offset="0.84" stop-color="#040404"/><stop offset="0.88" stop-color="#040404"/><stop offset="0.91" stop-color="#040404"/><stop offset="0.94" stop-color="#040404"/><stop offset="0.97" stop-color="#040404"/><stop offset="1" stop-color="#040404"/></linearGradient><linearGradient id="sg4_13" gradientUnits="userSpaceOnUse" x1="501" y1="0" x2="505" y2="0"><stop offset="0" stop-color="#040404"/><stop offset="0.25" stop-color="#040404"/><stop offset="0.5" stop-color="#040404"/><stop offset="0.75" stop-color="#040404"/><stop offset="1" stop-color="#040404"/></linearGradient><linearGradient id="sg5_0" gradientUnits="userSpaceOnUse" x1="543" y1="0" x2="575" y2="0"><stop offset="0" stop-color="#040404"/><stop offset="0.03" stop-color="#040404"/><stop offset="0.06" stop-color="#040404"/><stop offset="0.09" stop-color="#040404"/><stop offset="0.12" stop-color="#040404"/><stop offset="0.16" stop-color="#040404"/><stop offset="0.19" stop-color="#040404"/><stop offset="0.22" stop-color="#040404"/><stop offset="0.25" stop-color="#040404"/><stop offset="0.28" stop-color="#040404"/><stop offset="0.31" stop-color="#040404"/><stop offset="0.34" stop-color="#040404"/><stop offset="0.38" stop-color="#040404"/><stop offset="0.41" stop-color="#040404"/><stop offset="0.44" stop-color="#040404"/><stop offset="0.47" stop-color="#040404"/><stop offset="0.5" stop-color="#040404"/><stop offset="0.53" stop-color="#040404"/><stop offset="0.56" stop-color="#040404"/><stop offset="0.59" stop-color="#040404"/><stop offset="0.62" stop-color="#040404"/><stop offset="0.66" stop-color="#040404"/><stop offset="0.69" stop-color="#040404"/><stop offset="0.72" stop-color="#040404"/><stop offset="0.75" stop-color="#040404"/><stop offset="0.78" stop-color="#040404"/><stop offset="0.81" stop-color="#040404"/><stop offset="0.84" stop-color="#050505"/><stop offset="0.88" stop-color="#060606"/><stop offset="0.91" stop-color="#070707"/><stop offset="0.94" stop-color="#080808"/><stop offset="0.97" stop-color="#090909"/><stop offset="1" stop-color="#0b0b0b"/></linearGradient><linearGradient id="sg5_1" gradientUnits="userSpaceOnUse" x1="575" y1="0" x2="607" y2="0"><stop offset="0" stop-color="#0b0b0b"/><stop offset="0.03" stop-color="#0c0c0c"/><stop offset="0.06" stop-color="#0d0d0d"/><stop offset="0.09" stop-color="#0d0d0d"/><stop offset="0.12" stop-color="#0e0e0e"/><stop offset="0.16" stop-color="#0e0e0e"/><stop offset="0.19" stop-color="#0e0e0e"/><stop offset="0.22" stop-color="#0d0d0d"/><stop offset="0.25" stop-color="#0d0d0d"/><stop offset="0.28" stop-color="#0c0c0c"/><stop offset="0.31" stop-color="#0b0b0b"/><stop offset="0.34" stop-color="#090909"/><stop offset="0.38" stop-color="#080808"/><stop offset="0.41" stop-color="#070707"/><stop offset="0.44" stop-color="#060606"/><stop offset="0.47" stop-color="#050505"/><stop offset="0.5" stop-color="#040404"/><stop offset="0.53" stop-color="#040404"/><stop offset="0.56" stop-color="#050505"/><stop offset="0.59" stop-color="#050505"/><stop offset="0.62" stop-color="#060606"/><stop offset="0.66" stop-color="#070707"/><stop offset="0.69" stop-color="#080808"/><stop offset="0.72" stop-color="#090909"/><stop offset="0.75" stop-color="#0a0a0a"/><stop offset="0.78" stop-color="#0b0b0b"/><stop offset="0.81" stop-color="#0c0c0c"/><stop offset="0.84" stop-color="#0c0c0c"/><stop offset="0.88" stop-color="#0c0c0c"/><stop offset="0.91" stop-color="#0c0c0c"/><stop offset="0.94" stop-color="#0c0c0c"/><stop offset="0.97" stop-color="#0b0b0b"/><stop offset="1" stop-color="#0a0a0a"/></linearGradient><linearGradient id="sg5_2" gradientUnits="userSpaceOnUse" x1="607" y1="0" x2="639" y2="0"><stop offset="0" stop-color="#0a0a0a"/><stop offset="0.03" stop-color="#090909"/><stop offset="0.06" stop-color="#080808"/><stop offset="0.09" stop-color="#070707"/><stop offset="0.12" stop-color="#060606"/><stop offset="0.16" stop-color="#050505"/><stop offset="0.19" stop-color="#050505"/><stop offset="0.22" stop-color="#040404"/><stop offset="0.25" stop-color="#040404"/><stop offset="0.28" stop-color="#040404"/><stop offset="0.31" stop-color="#040404"/><stop offset="0.34" stop-color="#040404"/><stop offset="0.38" stop-color="#040404"/><stop offset="0.41" stop-color="#040404"/><stop offset="0.44" stop-color="#040404"/><stop offset="0.47" stop-color="#040404"/><stop offset="0.5" stop-color="#040404"/><stop offset="0.53" stop-color="#040404"/><stop offset="0.56" stop-color="#040404"/><stop offset="0.59" stop-color="#040404"/><stop offset="0.62" stop-color="#040404"/><stop offset="0.66" stop-color="#040404"/><stop offset="0.69" stop-color="#040404"/><stop offset="0.72" stop-color="#040404"/><stop offset="0.75" stop-color="#040404"/><stop offset="0.78" stop-color="#040404"/><stop offset="0.81" stop-color="#040404"/><stop offset="0.84" stop-color="#040404"/><stop offset="0.88" stop-color="#040404"/><stop offset="0.91" stop-color="#040404"/><stop offset="0.94" stop-color="#040404"/><stop offset="0.97" stop-color="#040404"/><stop offset="1" stop-color="#040404"/></linearGradient><linearGradient id="sg5_3" gradientUnits="userSpaceOnUse" x1="639" y1="0" x2="671" y2="0"><stop offset="0" stop-color="#040404"/><stop offset="0.03" stop-color="#040404"/><stop offset="0.06" stop-color="#050505"/><stop offset="0.09" stop-color="#060606"/><stop offset="0.12" stop-color="#070707"/><stop offset="0.16" stop-color="#090909"/><stop offset="0.19" stop-color="#0b0b0b"/><stop offset="0.22" stop-color="#0d0d0d"/><stop offset="0.25" stop-color="#0e0e0e"/><stop offset="0.28" stop-color="#101010"/><stop offset="0.31" stop-color="#121212"/><stop offset="0.34" stop-color="#131313"/><stop offset="0.38" stop-color="#141414"/><stop offset="0.41" stop-color="#141414"/><stop offset="0.44" stop-color="#141414"/><stop offset="0.47" stop-color="#131313"/><stop offset="0.5" stop-color="#121212"/><stop offset="0.53" stop-color="#101010"/><stop offset="0.56" stop-color="#0e0e0e"/><stop offset="0.59" stop-color="#0d0d0d"/><stop offset="0.62" stop-color="#0b0b0b"/><stop offset="0.66" stop-color="#090909"/><stop offset="0.69" stop-color="#070707"/><stop offset="0.72" stop-color="#060606"/><stop offset="0.75" stop-color="#050505"/><stop offset="0.78" stop-color="#040404"/><stop offset="0.81" stop-color="#040404"/><stop offset="0.84" stop-color="#060606"/><stop offset="0.88" stop-color="#090909"/><stop offset="0.91" stop-color="#0e0e0e"/><stop offset="0.94" stop-color="#131313"/><stop offset="0.97" stop-color="#191919"/><stop offset="1" stop-color="#1f1f1f"/></linearGradient><linearGradient id="sg5_4" gradientUnits="userSpaceOnUse" x1="671" y1="0" x2="703" y2="0"><stop offset="0" stop-color="#1f1f1f"/><stop offset="0.03" stop-color="#252525"/><stop offset="0.06" stop-color="#2b2b2b"/><stop offset="0.09" stop-color="#303030"/><stop offset="0.12" stop-color="#333333"/><stop offset="0.16" stop-color="#353535"/><stop offset="0.19" stop-color="#363636"/><stop offset="0.22" stop-color="#353535"/><stop offset="0.25" stop-color="#333333"/><stop offset="0.28" stop-color="#2f2f2f"/><stop offset="0.31" stop-color="#2a2a2a"/><stop offset="0.34" stop-color="#242424"/><stop offset="0.38" stop-color="#1e1e1e"/><stop offset="0.41" stop-color="#181818"/><stop offset="0.44" stop-color="#121212"/><stop offset="0.47" stop-color="#0d0d0d"/><stop offset="0.5" stop-color="#080808"/><stop offset="0.53" stop-color="#060606"/><stop offset="0.56" stop-color="#040404"/><stop offset="0.59" stop-color="#050505"/><stop offset="0.62" stop-color="#0a0a0a"/><stop offset="0.66" stop-color="#121212"/><stop offset="0.69" stop-color="#1e1e1e"/><stop offset="0.72" stop-color="#2c2c2c"/><stop offset="0.75" stop-color="#3c3c3c"/><stop offset="0.78" stop-color="#4c4c4c"/><stop offset="0.81" stop-color="#5c5c5c"/><stop offset="0.84" stop-color="#6b6b6b"/><stop offset="0.88" stop-color="#777777"/><stop offset="0.91" stop-color="#7f7f7f"/><stop offset="0.94" stop-color="#858585"/><stop offset="0.97" stop-color="#868686"/><stop offset="1" stop-color="#838383"/></linearGradient><linearGradient id="sg5_5" gradientUnits="userSpaceOnUse" x1="703" y1="0" x2="735" y2="0"><stop offset="0" stop-color="#838383"/><stop offset="0.03" stop-color="#7c7c7c"/><stop offset="0.06" stop-color="#727272"/><stop offset="0.09" stop-color="#656565"/><stop offset="0.12" stop-color="#565656"/><stop offset="0.16" stop-color="#464646"/><stop offset="0.19" stop-color="#363636"/><stop offset="0.22" stop-color="#262626"/><stop offset="0.25" stop-color="#191919"/><stop offset="0.28" stop-color="#0f0f0f"/><stop offset="0.31" stop-color="#070707"/><stop offset="0.34" stop-color="#040404"/><stop offset="0.38" stop-color="#040404"/><stop offset="0.41" stop-color="#050505"/><stop offset="0.44" stop-color="#0b0b0b"/><stop offset="0.47" stop-color="#151515"/><stop offset="0.5" stop-color="#232323"/><stop offset="0.53" stop-color="#343434"/><stop offset="0.56" stop-color="#474747"/><stop offset="0.59" stop-color="#5a5a5a"/><stop offset="0.62" stop-color="#6d6d6d"/><stop offset="0.66" stop-color="#7e7e7e"/><stop offset="0.69" stop-color="#8d8d8d"/><stop offset="0.72" stop-color="#979797"/><stop offset="0.75" stop-color="#9d9d9d"/><stop offset="0.78" stop-color="#9f9f9f"/><stop offset="0.81" stop-color="#9c9c9c"/><stop offset="0.84" stop-color="#939393"/><stop offset="0.88" stop-color="#878787"/><stop offset="0.91" stop-color="#787878"/><stop offset="0.94" stop-color="#666666"/><stop offset="0.97" stop-color="#525252"/><stop offset="1" stop-color="#3f3f3f"/></linearGradient><linearGradient id="sg5_6" gradientUnits="userSpaceOnUse" x1="735" y1="0" x2="767" y2="0"><stop offset="0" stop-color="#3f3f3f"/><stop offset="0.03" stop-color="#2d2d2d"/><stop offset="0.06" stop-color="#1d1d1d"/><stop offset="0.09" stop-color="#111111"/><stop offset="0.12" stop-color="#080808"/><stop offset="0.16" stop-color="#040404"/><stop offset="0.19" stop-color="#060606"/><stop offset="0.22" stop-color="#0c0c0c"/><stop offset="0.25" stop-color="#181818"/><stop offset="0.28" stop-color="#272727"/><stop offset="0.31" stop-color="#3a3a3a"/><stop offset="0.34" stop-color="#4f4f4f"/><stop offset="0.38" stop-color="#646464"/><stop offset="0.41" stop-color="#787878"/><stop offset="0.44" stop-color="#8a8a8a"/><stop offset="0.47" stop-color="#999999"/><stop offset="0.5" stop-color="#a4a4a4"/><stop offset="0.53" stop-color="#ababab"/><stop offset="0.56" stop-color="#acacac"/><stop offset="0.59" stop-color="#a8a8a8"/><stop offset="0.62" stop-color="#9e9e9e"/><stop offset="0.66" stop-color="#919191"/><stop offset="0.69" stop-color="#808080"/><stop offset="0.72" stop-color="#6c6c6c"/><stop offset="0.75" stop-color="#575757"/><stop offset="0.78" stop-color="#424242"/><stop offset="0.81" stop-color="#2f2f2f"/><stop offset="0.84" stop-color="#1e1e1e"/><stop offset="0.88" stop-color="#111111"/><stop offset="0.91" stop-color="#080808"/><stop offset="0.94" stop-color="#040404"/><stop offset="0.97" stop-color="#040404"/><stop offset="1" stop-color="#050505"/></linearGradient><linearGradient id="sg5_7" gradientUnits="userSpaceOnUse" x1="767" y1="0" x2="799" y2="0"><stop offset="0" stop-color="#050505"/><stop offset="0.03" stop-color="#0b0b0b"/><stop offset="0.06" stop-color="#151515"/><stop offset="0.09" stop-color="#232323"/><stop offset="0.12" stop-color="#343434"/><stop offset="0.16" stop-color="#474747"/><stop offset="0.19" stop-color="#5a5a5a"/><stop offset="0.22" stop-color="#6d6d6d"/><stop offset="0.25" stop-color="#7e7e7e"/><stop offset="0.28" stop-color="#8d8d8d"/><stop offset="0.31" stop-color="#979797"/><stop offset="0.34" stop-color="#9d9d9d"/><stop offset="0.38" stop-color="#9f9f9f"/><stop offset="0.41" stop-color="#9c9c9c"/><stop offset="0.44" stop-color="#939393"/><stop offset="0.47" stop-color="#878787"/><stop offset="0.5" stop-color="#787878"/><stop offset="0.53" stop-color="#666666"/><stop offset="0.56" stop-color="#525252"/><stop offset="0.59" stop-color="#3f3f3f"/><stop offset="0.62" stop-color="#2d2d2d"/><stop offset="0.66" stop-color="#1d1d1d"/><stop offset="0.69" stop-color="#111111"/><stop offset="0.72" stop-color="#080808"/><stop offset="0.75" stop-color="#040404"/><stop offset="0.78" stop-color="#040404"/><stop offset="0.81" stop-color="#050505"/><stop offset="0.84" stop-color="#0a0a0a"/><stop offset="0.88" stop-color="#121212"/><stop offset="0.91" stop-color="#1d1d1d"/><stop offset="0.94" stop-color="#2b2b2b"/><stop offset="0.97" stop-color="#3a3a3a"/><stop offset="1" stop-color="#4a4a4a"/></linearGradient><linearGradient id="sg5_8" gradientUnits="userSpaceOnUse" x1="799" y1="0" x2="831" y2="0"><stop offset="0" stop-color="#4a4a4a"/><stop offset="0.03" stop-color="#595959"/><stop offset="0.06" stop-color="#676767"/><stop offset="0.09" stop-color="#727272"/><stop offset="0.12" stop-color="#7b7b7b"/><stop offset="0.16" stop-color="#808080"/><stop offset="0.19" stop-color="#818181"/><stop offset="0.22" stop-color="#7e7e7e"/><stop offset="0.25" stop-color="#787878"/><stop offset="0.28" stop-color="#6e6e6e"/><stop offset="0.31" stop-color="#616161"/><stop offset="0.34" stop-color="#535353"/><stop offset="0.38" stop-color="#434343"/><stop offset="0.41" stop-color="#343434"/><stop offset="0.44" stop-color="#252525"/><stop offset="0.47" stop-color="#181818"/><stop offset="0.5" stop-color="#0e0e0e"/><stop offset="0.53" stop-color="#070707"/><stop offset="0.56" stop-color="#040404"/><stop offset="0.59" stop-color="#040404"/><stop offset="0.62" stop-color="#040404"/><stop offset="0.66" stop-color="#060606"/><stop offset="0.69" stop-color="#090909"/><stop offset="0.72" stop-color="#0e0e0e"/><stop offset="0.75" stop-color="#131313"/><stop offset="0.78" stop-color="#191919"/><stop offset="0.81" stop-color="#1f1f1f"/><stop offset="0.84" stop-color="#252525"/><stop offset="0.88" stop-color="#2a2a2a"/><stop offset="0.91" stop-color="#2e2e2e"/><stop offset="0.94" stop-color="#323232"/><stop offset="0.97" stop-color="#343434"/><stop offset="1" stop-color="#343434"/></linearGradient><linearGradient id="sg5_9" gradientUnits="userSpaceOnUse" x1="831" y1="0" x2="863" y2="0"><stop offset="0" stop-color="#343434"/><stop offset="0.03" stop-color="#333333"/><stop offset="0.06" stop-color="#303030"/><stop offset="0.09" stop-color="#2d2d2d"/><stop offset="0.12" stop-color="#282828"/><stop offset="0.16" stop-color="#222222"/><stop offset="0.19" stop-color="#1c1c1c"/><stop offset="0.22" stop-color="#161616"/><stop offset="0.25" stop-color="#111111"/><stop offset="0.28" stop-color="#0c0c0c"/><stop offset="0.31" stop-color="#080808"/><stop offset="0.34" stop-color="#050505"/><stop offset="0.38" stop-color="#040404"/><stop offset="0.41" stop-color="#040404"/><stop offset="0.44" stop-color="#050505"/><stop offset="0.47" stop-color="#070707"/><stop offset="0.5" stop-color="#080808"/><stop offset="0.53" stop-color="#0a0a0a"/><stop offset="0.56" stop-color="#0b0b0b"/><stop offset="0.59" stop-color="#0d0d0d"/><stop offset="0.62" stop-color="#0f0f0f"/><stop offset="0.66" stop-color="#101010"/><stop offset="0.69" stop-color="#111111"/><stop offset="0.72" stop-color="#121212"/><stop offset="0.75" stop-color="#121212"/><stop offset="0.78" stop-color="#121212"/><stop offset="0.81" stop-color="#111111"/><stop offset="0.84" stop-color="#101010"/><stop offset="0.88" stop-color="#0f0f0f"/><stop offset="0.91" stop-color="#0d0d0d"/><stop offset="0.94" stop-color="#0b0b0b"/><stop offset="0.97" stop-color="#0a0a0a"/><stop offset="1" stop-color="#080808"/></linearGradient><linearGradient id="sg5_10" gradientUnits="userSpaceOnUse" x1="863" y1="0" x2="895" y2="0"><stop offset="0" stop-color="#080808"/><stop offset="0.03" stop-color="#070707"/><stop offset="0.06" stop-color="#050505"/><stop offset="0.09" stop-color="#040404"/><stop offset="0.12" stop-color="#040404"/><stop offset="0.16" stop-color="#040404"/><stop offset="0.19" stop-color="#040404"/><stop offset="0.22" stop-color="#040404"/><stop offset="0.25" stop-color="#040404"/><stop offset="0.28" stop-color="#040404"/><stop offset="0.31" stop-color="#040404"/><stop offset="0.34" stop-color="#040404"/><stop offset="0.38" stop-color="#040404"/><stop offset="0.41" stop-color="#040404"/><stop offset="0.44" stop-color="#040404"/><stop offset="0.47" stop-color="#040404"/><stop offset="0.5" stop-color="#040404"/><stop offset="0.53" stop-color="#040404"/><stop offset="0.56" stop-color="#040404"/><stop offset="0.59" stop-color="#040404"/><stop offset="0.62" stop-color="#040404"/><stop offset="0.66" stop-color="#040404"/><stop offset="0.69" stop-color="#040404"/><stop offset="0.72" stop-color="#040404"/><stop offset="0.75" stop-color="#040404"/><stop offset="0.78" stop-color="#040404"/><stop offset="0.81" stop-color="#040404"/><stop offset="0.84" stop-color="#040404"/><stop offset="0.88" stop-color="#040404"/><stop offset="0.91" stop-color="#040404"/><stop offset="0.94" stop-color="#040404"/><stop offset="0.97" stop-color="#040404"/><stop offset="1" stop-color="#050505"/></linearGradient><linearGradient id="sg5_11" gradientUnits="userSpaceOnUse" x1="895" y1="0" x2="927" y2="0"><stop offset="0" stop-color="#050505"/><stop offset="0.03" stop-color="#050505"/><stop offset="0.06" stop-color="#060606"/><stop offset="0.09" stop-color="#070707"/><stop offset="0.12" stop-color="#080808"/><stop offset="0.16" stop-color="#090909"/><stop offset="0.19" stop-color="#0a0a0a"/><stop offset="0.22" stop-color="#0b0b0b"/><stop offset="0.25" stop-color="#0c0c0c"/><stop offset="0.28" stop-color="#0c0c0c"/><stop offset="0.31" stop-color="#0c0c0c"/><stop offset="0.34" stop-color="#0c0c0c"/><stop offset="0.38" stop-color="#0c0c0c"/><stop offset="0.41" stop-color="#0b0b0b"/><stop offset="0.44" stop-color="#0a0a0a"/><stop offset="0.47" stop-color="#090909"/><stop offset="0.5" stop-color="#080808"/><stop offset="0.53" stop-color="#070707"/><stop offset="0.56" stop-color="#060606"/><stop offset="0.59" stop-color="#050505"/><stop offset="0.62" stop-color="#050505"/><stop offset="0.66" stop-color="#040404"/><stop offset="0.69" stop-color="#040404"/><stop offset="0.72" stop-color="#040404"/><stop offset="0.75" stop-color="#040404"/><stop offset="0.78" stop-color="#050505"/><stop offset="0.81" stop-color="#060606"/><stop offset="0.84" stop-color="#070707"/><stop offset="0.88" stop-color="#080808"/><stop offset="0.91" stop-color="#090909"/><stop offset="0.94" stop-color="#0b0b0b"/><stop offset="0.97" stop-color="#0c0c0c"/><stop offset="1" stop-color="#0d0d0d"/></linearGradient><linearGradient id="sg5_12" gradientUnits="userSpaceOnUse" x1="927" y1="0" x2="959" y2="0"><stop offset="0" stop-color="#0d0d0d"/><stop offset="0.03" stop-color="#0d0d0d"/><stop offset="0.06" stop-color="#0e0e0e"/><stop offset="0.09" stop-color="#0e0e0e"/><stop offset="0.12" stop-color="#0e0e0e"/><stop offset="0.16" stop-color="#0d0d0d"/><stop offset="0.19" stop-color="#0d0d0d"/><stop offset="0.22" stop-color="#0c0c0c"/><stop offset="0.25" stop-color="#0b0b0b"/><stop offset="0.28" stop-color="#090909"/><stop offset="0.31" stop-color="#080808"/><stop offset="0.34" stop-color="#070707"/><stop offset="0.38" stop-color="#060606"/><stop offset="0.41" stop-color="#050505"/><stop offset="0.44" stop-color="#040404"/><stop offset="0.47" stop-color="#040404"/><stop offset="0.5" stop-color="#040404"/><stop offset="0.53" stop-color="#040404"/><stop offset="0.56" stop-color="#040404"/><stop offset="0.59" stop-color="#040404"/><stop offset="0.62" stop-color="#040404"/><stop offset="0.66" stop-color="#040404"/><stop offset="0.69" stop-color="#040404"/><stop offset="0.72" stop-color="#040404"/><stop offset="0.75" stop-color="#040404"/><stop offset="0.78" stop-color="#040404"/><stop offset="0.81" stop-color="#040404"/><stop offset="0.84" stop-color="#040404"/><stop offset="0.88" stop-color="#040404"/><stop offset="0.91" stop-color="#040404"/><stop offset="0.94" stop-color="#040404"/><stop offset="0.97" stop-color="#040404"/><stop offset="1" stop-color="#040404"/></linearGradient><linearGradient id="sg5_13" gradientUnits="userSpaceOnUse" x1="959" y1="0" x2="963" y2="0"><stop offset="0" stop-color="#040404"/><stop offset="0.25" stop-color="#040404"/><stop offset="0.5" stop-color="#040404"/><stop offset="0.75" stop-color="#040404"/><stop offset="1" stop-color="#040404"/></linearGradient><linearGradient id="sg6_0" gradientUnits="userSpaceOnUse" x1="1018" y1="0" x2="1050" y2="0"><stop offset="0" stop-color="#040404"/><stop offset="0.03" stop-color="#040404"/><stop offset="0.06" stop-color="#040404"/><stop offset="0.09" stop-color="#040404"/><stop offset="0.12" stop-color="#040404"/><stop offset="0.16" stop-color="#040404"/><stop offset="0.19" stop-color="#040404"/><stop offset="0.22" stop-color="#040404"/><stop offset="0.25" stop-color="#040404"/><stop offset="0.28" stop-color="#040404"/><stop offset="0.31" stop-color="#040404"/><stop offset="0.34" stop-color="#040404"/><stop offset="0.38" stop-color="#040404"/><stop offset="0.41" stop-color="#040404"/><stop offset="0.44" stop-color="#040404"/><stop offset="0.47" stop-color="#040404"/><stop offset="0.5" stop-color="#040404"/><stop offset="0.53" stop-color="#040404"/><stop offset="0.56" stop-color="#040404"/><stop offset="0.59" stop-color="#040404"/><stop offset="0.62" stop-color="#040404"/><stop offset="0.66" stop-color="#040404"/><stop offset="0.69" stop-color="#040404"/><stop offset="0.72" stop-color="#040404"/><stop offset="0.75" stop-color="#040404"/><stop offset="0.78" stop-color="#040404"/><stop offset="0.81" stop-color="#040404"/><stop offset="0.84" stop-color="#040404"/><stop offset="0.88" stop-color="#040404"/><stop offset="0.91" stop-color="#040404"/><stop offset="0.94" stop-color="#040404"/><stop offset="0.97" stop-color="#040404"/><stop offset="1" stop-color="#050505"/></linearGradient><linearGradient id="sg6_1" gradientUnits="userSpaceOnUse" x1="1050" y1="0" x2="1082" y2="0"><stop offset="0" stop-color="#050505"/><stop offset="0.03" stop-color="#060606"/><stop offset="0.06" stop-color="#060606"/><stop offset="0.09" stop-color="#070707"/><stop offset="0.12" stop-color="#080808"/><stop offset="0.16" stop-color="#090909"/><stop offset="0.19" stop-color="#0a0a0a"/><stop offset="0.22" stop-color="#0b0b0b"/><stop offset="0.25" stop-color="#0c0c0c"/><stop offset="0.28" stop-color="#0c0c0c"/><stop offset="0.31" stop-color="#0c0c0c"/><stop offset="0.34" stop-color="#0c0c0c"/><stop offset="0.38" stop-color="#0c0c0c"/><stop offset="0.41" stop-color="#0b0b0b"/><stop offset="0.44" stop-color="#0a0a0a"/><stop offset="0.47" stop-color="#090909"/><stop offset="0.5" stop-color="#090909"/><stop offset="0.53" stop-color="#070707"/><stop offset="0.56" stop-color="#070707"/><stop offset="0.59" stop-color="#060606"/><stop offset="0.62" stop-color="#050505"/><stop offset="0.66" stop-color="#040404"/><stop offset="0.69" stop-color="#050505"/><stop offset="0.72" stop-color="#060606"/><stop offset="0.75" stop-color="#070707"/><stop offset="0.78" stop-color="#080808"/><stop offset="0.81" stop-color="#090909"/><stop offset="0.84" stop-color="#090909"/><stop offset="0.88" stop-color="#0a0a0a"/><stop offset="0.91" stop-color="#0b0b0b"/><stop offset="0.94" stop-color="#0c0c0c"/><stop offset="0.97" stop-color="#0c0c0c"/><stop offset="1" stop-color="#0c0c0c"/></linearGradient><linearGradient id="sg6_2" gradientUnits="userSpaceOnUse" x1="1082" y1="0" x2="1114" y2="0"><stop offset="0" stop-color="#0c0c0c"/><stop offset="0.03" stop-color="#0c0c0c"/><stop offset="0.06" stop-color="#0c0c0c"/><stop offset="0.09" stop-color="#0b0b0b"/><stop offset="0.12" stop-color="#0a0a0a"/><stop offset="0.16" stop-color="#0a0a0a"/><stop offset="0.19" stop-color="#090909"/><stop offset="0.22" stop-color="#080808"/><stop offset="0.25" stop-color="#070707"/><stop offset="0.28" stop-color="#060606"/><stop offset="0.31" stop-color="#050505"/><stop offset="0.34" stop-color="#040404"/><stop offset="0.38" stop-color="#040404"/><stop offset="0.41" stop-color="#040404"/><stop offset="0.44" stop-color="#040404"/><stop offset="0.47" stop-color="#040404"/><stop offset="0.5" stop-color="#040404"/><stop offset="0.53" stop-color="#040404"/><stop offset="0.56" stop-color="#040404"/><stop offset="0.59" stop-color="#040404"/><stop offset="0.62" stop-color="#040404"/><stop offset="0.66" stop-color="#040404"/><stop offset="0.69" stop-color="#040404"/><stop offset="0.72" stop-color="#040404"/><stop offset="0.75" stop-color="#040404"/><stop offset="0.78" stop-color="#040404"/><stop offset="0.81" stop-color="#050505"/><stop offset="0.84" stop-color="#050505"/><stop offset="0.88" stop-color="#050505"/><stop offset="0.91" stop-color="#050505"/><stop offset="0.94" stop-color="#050505"/><stop offset="0.97" stop-color="#050505"/><stop offset="1" stop-color="#050505"/></linearGradient><linearGradient id="sg6_3" gradientUnits="userSpaceOnUse" x1="1114" y1="0" x2="1146" y2="0"><stop offset="0" stop-color="#050505"/><stop offset="0.03" stop-color="#050505"/><stop offset="0.06" stop-color="#050505"/><stop offset="0.09" stop-color="#050505"/><stop offset="0.12" stop-color="#050505"/><stop offset="0.16" stop-color="#060606"/><stop offset="0.19" stop-color="#080808"/><stop offset="0.22" stop-color="#090909"/><stop offset="0.25" stop-color="#0b0b0b"/><stop offset="0.28" stop-color="#0d0d0d"/><stop offset="0.31" stop-color="#0f0f0f"/><stop offset="0.34" stop-color="#101010"/><stop offset="0.38" stop-color="#121212"/><stop offset="0.41" stop-color="#131313"/><stop offset="0.44" stop-color="#131313"/><stop offset="0.47" stop-color="#141414"/><stop offset="0.5" stop-color="#131313"/><stop offset="0.53" stop-color="#131313"/><stop offset="0.56" stop-color="#121212"/><stop offset="0.59" stop-color="#111111"/><stop offset="0.62" stop-color="#0f0f0f"/><stop offset="0.66" stop-color="#0e0e0e"/><stop offset="0.69" stop-color="#0c0c0c"/><stop offset="0.72" stop-color="#0b0b0b"/><stop offset="0.75" stop-color="#090909"/><stop offset="0.78" stop-color="#080808"/><stop offset="0.81" stop-color="#070707"/><stop offset="0.84" stop-color="#070707"/><stop offset="0.88" stop-color="#070707"/><stop offset="0.91" stop-color="#070707"/><stop offset="0.94" stop-color="#090909"/><stop offset="0.97" stop-color="#0c0c0c"/><stop offset="1" stop-color="#101010"/></linearGradient><linearGradient id="sg6_4" gradientUnits="userSpaceOnUse" x1="1146" y1="0" x2="1178" y2="0"><stop offset="0" stop-color="#101010"/><stop offset="0.03" stop-color="#151515"/><stop offset="0.06" stop-color="#1a1a1a"/><stop offset="0.09" stop-color="#202020"/><stop offset="0.12" stop-color="#242424"/><stop offset="0.16" stop-color="#292929"/><stop offset="0.19" stop-color="#2c2c2c"/><stop offset="0.22" stop-color="#2f2f2f"/><stop offset="0.25" stop-color="#303030"/><stop offset="0.28" stop-color="#313131"/><stop offset="0.31" stop-color="#303030"/><stop offset="0.34" stop-color="#2e2e2e"/><stop offset="0.38" stop-color="#2b2b2b"/><stop offset="0.41" stop-color="#282828"/><stop offset="0.44" stop-color="#232323"/><stop offset="0.47" stop-color="#1f1f1f"/><stop offset="0.5" stop-color="#1a1a1a"/><stop offset="0.53" stop-color="#151515"/><stop offset="0.56" stop-color="#111111"/><stop offset="0.59" stop-color="#0d0d0d"/><stop offset="0.62" stop-color="#0b0b0b"/><stop offset="0.66" stop-color="#0d0d0d"/><stop offset="0.69" stop-color="#141414"/><stop offset="0.72" stop-color="#1d1d1d"/><stop offset="0.75" stop-color="#272727"/><stop offset="0.78" stop-color="#323232"/><stop offset="0.81" stop-color="#3d3d3d"/><stop offset="0.84" stop-color="#474747"/><stop offset="0.88" stop-color="#515151"/><stop offset="0.91" stop-color="#585858"/><stop offset="0.94" stop-color="#5e5e5e"/><stop offset="0.97" stop-color="#626262"/><stop offset="1" stop-color="#636363"/></linearGradient><linearGradient id="sg6_5" gradientUnits="userSpaceOnUse" x1="1178" y1="0" x2="1210" y2="0"><stop offset="0" stop-color="#636363"/><stop offset="0.03" stop-color="#626262"/><stop offset="0.06" stop-color="#5e5e5e"/><stop offset="0.09" stop-color="#585858"/><stop offset="0.12" stop-color="#515151"/><stop offset="0.16" stop-color="#484848"/><stop offset="0.19" stop-color="#3d3d3d"/><stop offset="0.22" stop-color="#333333"/><stop offset="0.25" stop-color="#282828"/><stop offset="0.28" stop-color="#1f1f1f"/><stop offset="0.31" stop-color="#171717"/><stop offset="0.34" stop-color="#111111"/><stop offset="0.38" stop-color="#101010"/><stop offset="0.41" stop-color="#121212"/><stop offset="0.44" stop-color="#1a1a1a"/><stop offset="0.47" stop-color="#262626"/><stop offset="0.5" stop-color="#343434"/><stop offset="0.53" stop-color="#444444"/><stop offset="0.56" stop-color="#545454"/><stop offset="0.59" stop-color="#636363"/><stop offset="0.62" stop-color="#717171"/><stop offset="0.66" stop-color="#7d7d7d"/><stop offset="0.69" stop-color="#868686"/><stop offset="0.72" stop-color="#8c8c8c"/><stop offset="0.75" stop-color="#8f8f8f"/><stop offset="0.78" stop-color="#8e8e8e"/><stop offset="0.81" stop-color="#898989"/><stop offset="0.84" stop-color="#828282"/><stop offset="0.88" stop-color="#777777"/><stop offset="0.91" stop-color="#6a6a6a"/><stop offset="0.94" stop-color="#5c5c5c"/><stop offset="0.97" stop-color="#4c4c4c"/><stop offset="1" stop-color="#3d3d3d"/></linearGradient><linearGradient id="sg6_6" gradientUnits="userSpaceOnUse" x1="1210" y1="0" x2="1242" y2="0"><stop offset="0" stop-color="#3d3d3d"/><stop offset="0.03" stop-color="#2e2e2e"/><stop offset="0.06" stop-color="#222222"/><stop offset="0.09" stop-color="#181818"/><stop offset="0.12" stop-color="#131313"/><stop offset="0.16" stop-color="#171717"/><stop offset="0.19" stop-color="#212121"/><stop offset="0.22" stop-color="#2f2f2f"/><stop offset="0.25" stop-color="#3f3f3f"/><stop offset="0.28" stop-color="#515151"/><stop offset="0.31" stop-color="#626262"/><stop offset="0.34" stop-color="#737373"/><stop offset="0.38" stop-color="#828282"/><stop offset="0.41" stop-color="#8f8f8f"/><stop offset="0.44" stop-color="#989898"/><stop offset="0.47" stop-color="#9e9e9e"/><stop offset="0.5" stop-color="#a0a0a0"/><stop offset="0.53" stop-color="#9e9e9e"/><stop offset="0.56" stop-color="#989898"/><stop offset="0.59" stop-color="#8f8f8f"/><stop offset="0.62" stop-color="#828282"/><stop offset="0.66" stop-color="#737373"/><stop offset="0.69" stop-color="#626262"/><stop offset="0.72" stop-color="#515151"/><stop offset="0.75" stop-color="#3f3f3f"/><stop offset="0.78" stop-color="#2f2f2f"/><stop offset="0.81" stop-color="#212121"/><stop offset="0.84" stop-color="#171717"/><stop offset="0.88" stop-color="#131313"/><stop offset="0.91" stop-color="#181818"/><stop offset="0.94" stop-color="#222222"/><stop offset="0.97" stop-color="#2e2e2e"/><stop offset="1" stop-color="#3c3c3c"/></linearGradient><linearGradient id="sg6_7" gradientUnits="userSpaceOnUse" x1="1242" y1="0" x2="1274" y2="0"><stop offset="0" stop-color="#3c3c3c"/><stop offset="0.03" stop-color="#4b4b4b"/><stop offset="0.06" stop-color="#595959"/><stop offset="0.09" stop-color="#676767"/><stop offset="0.12" stop-color="#737373"/><stop offset="0.16" stop-color="#7c7c7c"/><stop offset="0.19" stop-color="#838383"/><stop offset="0.22" stop-color="#878787"/><stop offset="0.25" stop-color="#888888"/><stop offset="0.28" stop-color="#858585"/><stop offset="0.31" stop-color="#7f7f7f"/><stop offset="0.34" stop-color="#767676"/><stop offset="0.38" stop-color="#6a6a6a"/><stop offset="0.41" stop-color="#5d5d5d"/><stop offset="0.44" stop-color="#4e4e4e"/><stop offset="0.47" stop-color="#3f3f3f"/><stop offset="0.5" stop-color="#313131"/><stop offset="0.53" stop-color="#232323"/><stop offset="0.56" stop-color="#181818"/><stop offset="0.59" stop-color="#111111"/><stop offset="0.62" stop-color="#131313"/><stop offset="0.66" stop-color="#191919"/><stop offset="0.69" stop-color="#212121"/><stop offset="0.72" stop-color="#2a2a2a"/><stop offset="0.75" stop-color="#333333"/><stop offset="0.78" stop-color="#3d3d3d"/><stop offset="0.81" stop-color="#464646"/><stop offset="0.84" stop-color="#4f4f4f"/><stop offset="0.88" stop-color="#555555"/><stop offset="0.91" stop-color="#5a5a5a"/><stop offset="0.94" stop-color="#5d5d5d"/><stop offset="0.97" stop-color="#5d5d5d"/><stop offset="1" stop-color="#5b5b5b"/></linearGradient><linearGradient id="sg6_8" gradientUnits="userSpaceOnUse" x1="1274" y1="0" x2="1306" y2="0"><stop offset="0" stop-color="#5b5b5b"/><stop offset="0.03" stop-color="#575757"/><stop offset="0.06" stop-color="#515151"/><stop offset="0.09" stop-color="#4a4a4a"/><stop offset="0.12" stop-color="#414141"/><stop offset="0.16" stop-color="#373737"/><stop offset="0.19" stop-color="#2c2c2c"/><stop offset="0.22" stop-color="#222222"/><stop offset="0.25" stop-color="#191919"/><stop offset="0.28" stop-color="#121212"/><stop offset="0.31" stop-color="#0c0c0c"/><stop offset="0.34" stop-color="#0c0c0c"/><stop offset="0.38" stop-color="#0e0e0e"/><stop offset="0.41" stop-color="#121212"/><stop offset="0.44" stop-color="#171717"/><stop offset="0.47" stop-color="#1b1b1b"/><stop offset="0.5" stop-color="#202020"/><stop offset="0.53" stop-color="#252525"/><stop offset="0.56" stop-color="#292929"/><stop offset="0.59" stop-color="#2c2c2c"/><stop offset="0.62" stop-color="#2f2f2f"/><stop offset="0.66" stop-color="#303030"/><stop offset="0.69" stop-color="#313131"/><stop offset="0.72" stop-color="#303030"/><stop offset="0.75" stop-color="#2e2e2e"/><stop offset="0.78" stop-color="#2b2b2b"/><stop offset="0.81" stop-color="#282828"/><stop offset="0.84" stop-color="#232323"/><stop offset="0.88" stop-color="#1e1e1e"/><stop offset="0.91" stop-color="#191919"/><stop offset="0.94" stop-color="#141414"/><stop offset="0.97" stop-color="#0f0f0f"/><stop offset="1" stop-color="#0b0b0b"/></linearGradient><linearGradient id="sg6_9" gradientUnits="userSpaceOnUse" x1="1306" y1="0" x2="1338" y2="0"><stop offset="0" stop-color="#0b0b0b"/><stop offset="0.03" stop-color="#080808"/><stop offset="0.06" stop-color="#070707"/><stop offset="0.09" stop-color="#070707"/><stop offset="0.12" stop-color="#080808"/><stop offset="0.16" stop-color="#090909"/><stop offset="0.19" stop-color="#0a0a0a"/><stop offset="0.22" stop-color="#0c0c0c"/><stop offset="0.25" stop-color="#0d0d0d"/><stop offset="0.28" stop-color="#0e0e0e"/><stop offset="0.31" stop-color="#101010"/><stop offset="0.34" stop-color="#111111"/><stop offset="0.38" stop-color="#111111"/><stop offset="0.41" stop-color="#121212"/><stop offset="0.44" stop-color="#121212"/><stop offset="0.47" stop-color="#121212"/><stop offset="0.5" stop-color="#111111"/><stop offset="0.53" stop-color="#101010"/><stop offset="0.56" stop-color="#0f0f0f"/><stop offset="0.59" stop-color="#0e0e0e"/><stop offset="0.62" stop-color="#0c0c0c"/><stop offset="0.66" stop-color="#0a0a0a"/><stop offset="0.69" stop-color="#090909"/><stop offset="0.72" stop-color="#070707"/><stop offset="0.75" stop-color="#060606"/><stop offset="0.78" stop-color="#050505"/><stop offset="0.81" stop-color="#050505"/><stop offset="0.84" stop-color="#050505"/><stop offset="0.88" stop-color="#050505"/><stop offset="0.91" stop-color="#050505"/><stop offset="0.94" stop-color="#050505"/><stop offset="0.97" stop-color="#050505"/><stop offset="1" stop-color="#050505"/></linearGradient><linearGradient id="sg6_10" gradientUnits="userSpaceOnUse" x1="1338" y1="0" x2="1370" y2="0"><stop offset="0" stop-color="#050505"/><stop offset="0.03" stop-color="#050505"/><stop offset="0.06" stop-color="#050505"/><stop offset="0.09" stop-color="#050505"/><stop offset="0.12" stop-color="#050505"/><stop offset="0.16" stop-color="#050505"/><stop offset="0.19" stop-color="#050505"/><stop offset="0.22" stop-color="#040404"/><stop offset="0.25" stop-color="#040404"/><stop offset="0.28" stop-color="#040404"/><stop offset="0.31" stop-color="#040404"/><stop offset="0.34" stop-color="#040404"/><stop offset="0.38" stop-color="#040404"/><stop offset="0.41" stop-color="#040404"/><stop offset="0.44" stop-color="#040404"/><stop offset="0.47" stop-color="#040404"/><stop offset="0.5" stop-color="#040404"/><stop offset="0.53" stop-color="#040404"/><stop offset="0.56" stop-color="#040404"/><stop offset="0.59" stop-color="#040404"/><stop offset="0.62" stop-color="#040404"/><stop offset="0.66" stop-color="#040404"/><stop offset="0.69" stop-color="#040404"/><stop offset="0.72" stop-color="#040404"/><stop offset="0.75" stop-color="#040404"/><stop offset="0.78" stop-color="#040404"/><stop offset="0.81" stop-color="#040404"/><stop offset="0.84" stop-color="#040404"/><stop offset="0.88" stop-color="#040404"/><stop offset="0.91" stop-color="#040404"/><stop offset="0.94" stop-color="#040404"/><stop offset="0.97" stop-color="#040404"/><stop offset="1" stop-color="#040404"/></linearGradient><linearGradient id="sg6_11" gradientUnits="userSpaceOnUse" x1="1370" y1="0" x2="1402" y2="0"><stop offset="0" stop-color="#040404"/><stop offset="0.03" stop-color="#040404"/><stop offset="0.06" stop-color="#040404"/><stop offset="0.09" stop-color="#040404"/><stop offset="0.12" stop-color="#040404"/><stop offset="0.16" stop-color="#040404"/><stop offset="0.19" stop-color="#040404"/><stop offset="0.22" stop-color="#040404"/><stop offset="0.25" stop-color="#040404"/><stop offset="0.28" stop-color="#040404"/><stop offset="0.31" stop-color="#050505"/><stop offset="0.34" stop-color="#060606"/><stop offset="0.38" stop-color="#070707"/><stop offset="0.41" stop-color="#080808"/><stop offset="0.44" stop-color="#090909"/><stop offset="0.47" stop-color="#090909"/><stop offset="0.5" stop-color="#0a0a0a"/><stop offset="0.53" stop-color="#0b0b0b"/><stop offset="0.56" stop-color="#0c0c0c"/><stop offset="0.59" stop-color="#0c0c0c"/><stop offset="0.62" stop-color="#0c0c0c"/><stop offset="0.66" stop-color="#0c0c0c"/><stop offset="0.69" stop-color="#0c0c0c"/><stop offset="0.72" stop-color="#0b0b0b"/><stop offset="0.75" stop-color="#0a0a0a"/><stop offset="0.78" stop-color="#090909"/><stop offset="0.81" stop-color="#080808"/><stop offset="0.84" stop-color="#070707"/><stop offset="0.88" stop-color="#060606"/><stop offset="0.91" stop-color="#060606"/><stop offset="0.94" stop-color="#050505"/><stop offset="0.97" stop-color="#040404"/><stop offset="1" stop-color="#040404"/></linearGradient><linearGradient id="sg6_12" gradientUnits="userSpaceOnUse" x1="1402" y1="0" x2="1434" y2="0"><stop offset="0" stop-color="#040404"/><stop offset="0.03" stop-color="#040404"/><stop offset="0.06" stop-color="#040404"/><stop offset="0.09" stop-color="#040404"/><stop offset="0.12" stop-color="#040404"/><stop offset="0.16" stop-color="#040404"/><stop offset="0.19" stop-color="#040404"/><stop offset="0.22" stop-color="#040404"/><stop offset="0.25" stop-color="#040404"/><stop offset="0.28" stop-color="#040404"/><stop offset="0.31" stop-color="#040404"/><stop offset="0.34" stop-color="#040404"/><stop offset="0.38" stop-color="#040404"/><stop offset="0.41" stop-color="#040404"/><stop offset="0.44" stop-color="#040404"/><stop offset="0.47" stop-color="#040404"/><stop offset="0.5" stop-color="#040404"/><stop offset="0.53" stop-color="#040404"/><stop offset="0.56" stop-color="#040404"/><stop offset="0.59" stop-color="#040404"/><stop offset="0.62" stop-color="#040404"/><stop offset="0.66" stop-color="#040404"/><stop offset="0.69" stop-color="#040404"/><stop offset="0.72" stop-color="#040404"/><stop offset="0.75" stop-color="#040404"/><stop offset="0.78" stop-color="#040404"/><stop offset="0.81" stop-color="#040404"/><stop offset="0.84" stop-color="#040404"/><stop offset="0.88" stop-color="#040404"/><stop offset="0.91" stop-color="#040404"/><stop offset="0.94" stop-color="#040404"/><stop offset="0.97" stop-color="#040404"/><stop offset="1" stop-color="#040404"/></linearGradient><linearGradient id="sg6_13" gradientUnits="userSpaceOnUse" x1="1434" y1="0" x2="1436" y2="0"><stop offset="0" stop-color="#040404"/><stop offset="0.5" stop-color="#040404"/><stop offset="1" stop-color="#040404"/></linearGradient><linearGradient id="sg7_0" gradientUnits="userSpaceOnUse" x1="1467" y1="0" x2="1499" y2="0"><stop offset="0" stop-color="#040404"/><stop offset="0.03" stop-color="#040404"/><stop offset="0.06" stop-color="#040404"/><stop offset="0.09" stop-color="#040404"/><stop offset="0.12" stop-color="#040404"/><stop offset="0.16" stop-color="#040404"/><stop offset="0.19" stop-color="#040404"/><stop offset="0.22" stop-color="#040404"/><stop offset="0.25" stop-color="#040404"/><stop offset="0.28" stop-color="#040404"/><stop offset="0.31" stop-color="#040404"/><stop offset="0.34" stop-color="#040404"/><stop offset="0.38" stop-color="#040404"/><stop offset="0.41" stop-color="#040404"/><stop offset="0.44" stop-color="#040404"/><stop offset="0.47" stop-color="#040404"/><stop offset="0.5" stop-color="#040404"/><stop offset="0.53" stop-color="#040404"/><stop offset="0.56" stop-color="#040404"/><stop offset="0.59" stop-color="#040404"/><stop offset="0.62" stop-color="#040404"/><stop offset="0.66" stop-color="#040404"/><stop offset="0.69" stop-color="#040404"/><stop offset="0.72" stop-color="#040404"/><stop offset="0.75" stop-color="#040404"/><stop offset="0.78" stop-color="#040404"/><stop offset="0.81" stop-color="#040404"/><stop offset="0.84" stop-color="#040404"/><stop offset="0.88" stop-color="#040404"/><stop offset="0.91" stop-color="#040404"/><stop offset="0.94" stop-color="#040404"/><stop offset="0.97" stop-color="#040404"/><stop offset="1" stop-color="#040404"/></linearGradient><linearGradient id="sg7_1" gradientUnits="userSpaceOnUse" x1="1499" y1="0" x2="1531" y2="0"><stop offset="0" stop-color="#040404"/><stop offset="0.03" stop-color="#050505"/><stop offset="0.06" stop-color="#060606"/><stop offset="0.09" stop-color="#060606"/><stop offset="0.12" stop-color="#070707"/><stop offset="0.16" stop-color="#080808"/><stop offset="0.19" stop-color="#090909"/><stop offset="0.22" stop-color="#0a0a0a"/><stop offset="0.25" stop-color="#0b0b0b"/><stop offset="0.28" stop-color="#0c0c0c"/><stop offset="0.31" stop-color="#0c0c0c"/><stop offset="0.34" stop-color="#0c0c0c"/><stop offset="0.38" stop-color="#0c0c0c"/><stop offset="0.41" stop-color="#0c0c0c"/><stop offset="0.44" stop-color="#0b0b0b"/><stop offset="0.47" stop-color="#0a0a0a"/><stop offset="0.5" stop-color="#090909"/><stop offset="0.53" stop-color="#090909"/><stop offset="0.56" stop-color="#080808"/><stop offset="0.59" stop-color="#070707"/><stop offset="0.62" stop-color="#060606"/><stop offset="0.66" stop-color="#050505"/><stop offset="0.69" stop-color="#040404"/><stop offset="0.72" stop-color="#040404"/><stop offset="0.75" stop-color="#040404"/><stop offset="0.78" stop-color="#040404"/><stop offset="0.81" stop-color="#050505"/><stop offset="0.84" stop-color="#060606"/><stop offset="0.88" stop-color="#070707"/><stop offset="0.91" stop-color="#080808"/><stop offset="0.94" stop-color="#090909"/><stop offset="0.97" stop-color="#0a0a0a"/><stop offset="1" stop-color="#0a0a0a"/></linearGradient><linearGradient id="sg7_2" gradientUnits="userSpaceOnUse" x1="1531" y1="0" x2="1563" y2="0"><stop offset="0" stop-color="#0a0a0a"/><stop offset="0.03" stop-color="#0b0b0b"/><stop offset="0.06" stop-color="#0c0c0c"/><stop offset="0.09" stop-color="#0c0c0c"/><stop offset="0.12" stop-color="#0c0c0c"/><stop offset="0.16" stop-color="#0c0c0c"/><stop offset="0.19" stop-color="#0c0c0c"/><stop offset="0.22" stop-color="#0b0b0b"/><stop offset="0.25" stop-color="#0b0b0b"/><stop offset="0.28" stop-color="#0a0a0a"/><stop offset="0.31" stop-color="#090909"/><stop offset="0.34" stop-color="#080808"/><stop offset="0.38" stop-color="#070707"/><stop offset="0.41" stop-color="#060606"/><stop offset="0.44" stop-color="#050505"/><stop offset="0.47" stop-color="#050505"/><stop offset="0.5" stop-color="#040404"/><stop offset="0.53" stop-color="#040404"/><stop offset="0.56" stop-color="#040404"/><stop offset="0.59" stop-color="#040404"/><stop offset="0.62" stop-color="#050505"/><stop offset="0.66" stop-color="#050505"/><stop offset="0.69" stop-color="#050505"/><stop offset="0.72" stop-color="#050505"/><stop offset="0.75" stop-color="#050505"/><stop offset="0.78" stop-color="#050505"/><stop offset="0.81" stop-color="#050505"/><stop offset="0.84" stop-color="#050505"/><stop offset="0.88" stop-color="#050505"/><stop offset="0.91" stop-color="#050505"/><stop offset="0.94" stop-color="#050505"/><stop offset="0.97" stop-color="#050505"/><stop offset="1" stop-color="#050505"/></linearGradient><linearGradient id="sg7_3" gradientUnits="userSpaceOnUse" x1="1563" y1="0" x2="1595" y2="0"><stop offset="0" stop-color="#050505"/><stop offset="0.03" stop-color="#050505"/><stop offset="0.06" stop-color="#050505"/><stop offset="0.09" stop-color="#050505"/><stop offset="0.12" stop-color="#050505"/><stop offset="0.16" stop-color="#050505"/><stop offset="0.19" stop-color="#050505"/><stop offset="0.22" stop-color="#060606"/><stop offset="0.25" stop-color="#060606"/><stop offset="0.28" stop-color="#070707"/><stop offset="0.31" stop-color="#090909"/><stop offset="0.34" stop-color="#0a0a0a"/><stop offset="0.38" stop-color="#0c0c0c"/><stop offset="0.41" stop-color="#0e0e0e"/><stop offset="0.44" stop-color="#101010"/><stop offset="0.47" stop-color="#111111"/><stop offset="0.5" stop-color="#131313"/><stop offset="0.53" stop-color="#141414"/><stop offset="0.56" stop-color="#141414"/><stop offset="0.59" stop-color="#151515"/><stop offset="0.62" stop-color="#151515"/><stop offset="0.66" stop-color="#141414"/><stop offset="0.69" stop-color="#131313"/><stop offset="0.72" stop-color="#121212"/><stop offset="0.75" stop-color="#111111"/><stop offset="0.78" stop-color="#101010"/><stop offset="0.81" stop-color="#0e0e0e"/><stop offset="0.84" stop-color="#0c0c0c"/><stop offset="0.88" stop-color="#0b0b0b"/><stop offset="0.91" stop-color="#0a0a0a"/><stop offset="0.94" stop-color="#090909"/><stop offset="0.97" stop-color="#090909"/><stop offset="1" stop-color="#0a0a0a"/></linearGradient><linearGradient id="sg7_4" gradientUnits="userSpaceOnUse" x1="1595" y1="0" x2="1627" y2="0"><stop offset="0" stop-color="#0a0a0a"/><stop offset="0.03" stop-color="#0d0d0d"/><stop offset="0.06" stop-color="#121212"/><stop offset="0.09" stop-color="#161616"/><stop offset="0.12" stop-color="#1c1c1c"/><stop offset="0.16" stop-color="#212121"/><stop offset="0.19" stop-color="#262626"/><stop offset="0.22" stop-color="#2a2a2a"/><stop offset="0.25" stop-color="#2e2e2e"/><stop offset="0.28" stop-color="#313131"/><stop offset="0.31" stop-color="#333333"/><stop offset="0.34" stop-color="#333333"/><stop offset="0.38" stop-color="#333333"/><stop offset="0.41" stop-color="#323232"/><stop offset="0.44" stop-color="#2f2f2f"/><stop offset="0.47" stop-color="#2c2c2c"/><stop offset="0.5" stop-color="#282828"/><stop offset="0.53" stop-color="#232323"/><stop offset="0.56" stop-color="#1e1e1e"/><stop offset="0.59" stop-color="#1a1a1a"/><stop offset="0.62" stop-color="#151515"/><stop offset="0.66" stop-color="#121212"/><stop offset="0.69" stop-color="#0f0f0f"/><stop offset="0.72" stop-color="#0f0f0f"/><stop offset="0.75" stop-color="#141414"/><stop offset="0.78" stop-color="#1b1b1b"/><stop offset="0.81" stop-color="#252525"/><stop offset="0.84" stop-color="#2f2f2f"/><stop offset="0.88" stop-color="#3a3a3a"/><stop offset="0.91" stop-color="#454545"/><stop offset="0.94" stop-color="#505050"/><stop offset="0.97" stop-color="#595959"/><stop offset="1" stop-color="#606060"/></linearGradient><linearGradient id="sg7_5" gradientUnits="userSpaceOnUse" x1="1627" y1="0" x2="1659" y2="0"><stop offset="0" stop-color="#606060"/><stop offset="0.03" stop-color="#656565"/><stop offset="0.06" stop-color="#686868"/><stop offset="0.09" stop-color="#696969"/><stop offset="0.12" stop-color="#676767"/><stop offset="0.16" stop-color="#636363"/><stop offset="0.19" stop-color="#5d5d5d"/><stop offset="0.22" stop-color="#555555"/><stop offset="0.25" stop-color="#4b4b4b"/><stop offset="0.28" stop-color="#414141"/><stop offset="0.31" stop-color="#363636"/><stop offset="0.34" stop-color="#2c2c2c"/><stop offset="0.38" stop-color="#232323"/><stop offset="0.41" stop-color="#1c1c1c"/><stop offset="0.44" stop-color="#181818"/><stop offset="0.47" stop-color="#181818"/><stop offset="0.5" stop-color="#1f1f1f"/><stop offset="0.53" stop-color="#2a2a2a"/><stop offset="0.56" stop-color="#383838"/><stop offset="0.59" stop-color="#474747"/><stop offset="0.62" stop-color="#565656"/><stop offset="0.66" stop-color="#656565"/><stop offset="0.69" stop-color="#737373"/><stop offset="0.72" stop-color="#7f7f7f"/><stop offset="0.75" stop-color="#888888"/><stop offset="0.78" stop-color="#8f8f8f"/><stop offset="0.81" stop-color="#929292"/><stop offset="0.84" stop-color="#929292"/><stop offset="0.88" stop-color="#8f8f8f"/><stop offset="0.91" stop-color="#888888"/><stop offset="0.94" stop-color="#7f7f7f"/><stop offset="0.97" stop-color="#737373"/><stop offset="1" stop-color="#656565"/></linearGradient><linearGradient id="sg7_6" gradientUnits="userSpaceOnUse" x1="1659" y1="0" x2="1691" y2="0"><stop offset="0" stop-color="#656565"/><stop offset="0.03" stop-color="#565656"/><stop offset="0.06" stop-color="#474747"/><stop offset="0.09" stop-color="#393939"/><stop offset="0.12" stop-color="#2d2d2d"/><stop offset="0.16" stop-color="#232323"/><stop offset="0.19" stop-color="#1d1d1d"/><stop offset="0.22" stop-color="#202020"/><stop offset="0.25" stop-color="#292929"/><stop offset="0.28" stop-color="#363636"/><stop offset="0.31" stop-color="#454545"/><stop offset="0.34" stop-color="#555555"/><stop offset="0.38" stop-color="#666666"/><stop offset="0.41" stop-color="#767676"/><stop offset="0.44" stop-color="#848484"/><stop offset="0.47" stop-color="#919191"/><stop offset="0.5" stop-color="#9a9a9a"/><stop offset="0.53" stop-color="#a0a0a0"/><stop offset="0.56" stop-color="#a2a2a2"/><stop offset="0.59" stop-color="#a0a0a0"/><stop offset="0.62" stop-color="#9b9b9b"/><stop offset="0.66" stop-color="#939393"/><stop offset="0.69" stop-color="#878787"/><stop offset="0.72" stop-color="#797979"/><stop offset="0.75" stop-color="#696969"/><stop offset="0.78" stop-color="#595959"/><stop offset="0.81" stop-color="#484848"/><stop offset="0.84" stop-color="#393939"/><stop offset="0.88" stop-color="#2b2b2b"/><stop offset="0.91" stop-color="#212121"/><stop offset="0.94" stop-color="#1e1e1e"/><stop offset="0.97" stop-color="#262626"/><stop offset="1" stop-color="#313131"/></linearGradient><linearGradient id="sg7_7" gradientUnits="userSpaceOnUse" x1="1691" y1="0" x2="1723" y2="0"><stop offset="0" stop-color="#313131"/><stop offset="0.03" stop-color="#3f3f3f"/><stop offset="0.06" stop-color="#4e4e4e"/><stop offset="0.09" stop-color="#5d5d5d"/><stop offset="0.12" stop-color="#6c6c6c"/><stop offset="0.16" stop-color="#7a7a7a"/><stop offset="0.19" stop-color="#868686"/><stop offset="0.22" stop-color="#8f8f8f"/><stop offset="0.25" stop-color="#959595"/><stop offset="0.28" stop-color="#989898"/><stop offset="0.31" stop-color="#979797"/><stop offset="0.34" stop-color="#929292"/><stop offset="0.38" stop-color="#8a8a8a"/><stop offset="0.41" stop-color="#808080"/><stop offset="0.44" stop-color="#727272"/><stop offset="0.47" stop-color="#646464"/><stop offset="0.5" stop-color="#545454"/><stop offset="0.53" stop-color="#444444"/><stop offset="0.56" stop-color="#353535"/><stop offset="0.59" stop-color="#272727"/><stop offset="0.62" stop-color="#1d1d1d"/><stop offset="0.66" stop-color="#171717"/><stop offset="0.69" stop-color="#191919"/><stop offset="0.72" stop-color="#1f1f1f"/><stop offset="0.75" stop-color="#272727"/><stop offset="0.78" stop-color="#303030"/><stop offset="0.81" stop-color="#3b3b3b"/><stop offset="0.84" stop-color="#454545"/><stop offset="0.88" stop-color="#4f4f4f"/><stop offset="0.91" stop-color="#585858"/><stop offset="0.94" stop-color="#5f5f5f"/><stop offset="0.97" stop-color="#656565"/><stop offset="1" stop-color="#686868"/></linearGradient><linearGradient id="sg7_8" gradientUnits="userSpaceOnUse" x1="1723" y1="0" x2="1755" y2="0"><stop offset="0" stop-color="#686868"/><stop offset="0.03" stop-color="#696969"/><stop offset="0.06" stop-color="#676767"/><stop offset="0.09" stop-color="#646464"/><stop offset="0.12" stop-color="#5d5d5d"/><stop offset="0.16" stop-color="#555555"/><stop offset="0.19" stop-color="#4c4c4c"/><stop offset="0.22" stop-color="#414141"/><stop offset="0.25" stop-color="#363636"/><stop offset="0.28" stop-color="#2b2b2b"/><stop offset="0.31" stop-color="#212121"/><stop offset="0.34" stop-color="#181818"/><stop offset="0.38" stop-color="#111111"/><stop offset="0.41" stop-color="#101010"/><stop offset="0.44" stop-color="#121212"/><stop offset="0.47" stop-color="#151515"/><stop offset="0.5" stop-color="#191919"/><stop offset="0.53" stop-color="#1e1e1e"/><stop offset="0.56" stop-color="#232323"/><stop offset="0.59" stop-color="#272727"/><stop offset="0.62" stop-color="#2c2c2c"/><stop offset="0.66" stop-color="#2f2f2f"/><stop offset="0.69" stop-color="#323232"/><stop offset="0.72" stop-color="#333333"/><stop offset="0.75" stop-color="#343434"/><stop offset="0.78" stop-color="#333333"/><stop offset="0.81" stop-color="#313131"/><stop offset="0.84" stop-color="#2f2f2f"/><stop offset="0.88" stop-color="#2b2b2b"/><stop offset="0.91" stop-color="#272727"/><stop offset="0.94" stop-color="#222222"/><stop offset="0.97" stop-color="#1c1c1c"/><stop offset="1" stop-color="#171717"/></linearGradient><linearGradient id="sg7_9" gradientUnits="userSpaceOnUse" x1="1755" y1="0" x2="1787" y2="0"><stop offset="0" stop-color="#171717"/><stop offset="0.03" stop-color="#121212"/><stop offset="0.06" stop-color="#0e0e0e"/><stop offset="0.09" stop-color="#0b0b0b"/><stop offset="0.12" stop-color="#090909"/><stop offset="0.16" stop-color="#0a0a0a"/><stop offset="0.19" stop-color="#0b0b0b"/><stop offset="0.22" stop-color="#0c0c0c"/><stop offset="0.25" stop-color="#0d0d0d"/><stop offset="0.28" stop-color="#0f0f0f"/><stop offset="0.31" stop-color="#101010"/><stop offset="0.34" stop-color="#111111"/><stop offset="0.38" stop-color="#121212"/><stop offset="0.41" stop-color="#131313"/><stop offset="0.44" stop-color="#131313"/><stop offset="0.47" stop-color="#131313"/><stop offset="0.5" stop-color="#131313"/><stop offset="0.53" stop-color="#121212"/><stop offset="0.56" stop-color="#111111"/><stop offset="0.59" stop-color="#101010"/><stop offset="0.62" stop-color="#0f0f0f"/><stop offset="0.66" stop-color="#0d0d0d"/><stop offset="0.69" stop-color="#0b0b0b"/><stop offset="0.72" stop-color="#0a0a0a"/><stop offset="0.75" stop-color="#080808"/><stop offset="0.78" stop-color="#070707"/><stop offset="0.81" stop-color="#060606"/><stop offset="0.84" stop-color="#060606"/><stop offset="0.88" stop-color="#060606"/><stop offset="0.91" stop-color="#060606"/><stop offset="0.94" stop-color="#050505"/><stop offset="0.97" stop-color="#050505"/><stop offset="1" stop-color="#050505"/></linearGradient><linearGradient id="sg7_10" gradientUnits="userSpaceOnUse" x1="1787" y1="0" x2="1819" y2="0"><stop offset="0" stop-color="#050505"/><stop offset="0.03" stop-color="#050505"/><stop offset="0.06" stop-color="#050505"/><stop offset="0.09" stop-color="#050505"/><stop offset="0.12" stop-color="#050505"/><stop offset="0.16" stop-color="#050505"/><stop offset="0.19" stop-color="#050505"/><stop offset="0.22" stop-color="#050505"/><stop offset="0.25" stop-color="#050505"/><stop offset="0.28" stop-color="#050505"/><stop offset="0.31" stop-color="#050505"/><stop offset="0.34" stop-color="#050505"/><stop offset="0.38" stop-color="#050505"/><stop offset="0.41" stop-color="#050505"/><stop offset="0.44" stop-color="#050505"/><stop offset="0.47" stop-color="#050505"/><stop offset="0.5" stop-color="#050505"/><stop offset="0.53" stop-color="#040404"/><stop offset="0.56" stop-color="#040404"/><stop offset="0.59" stop-color="#040404"/><stop offset="0.62" stop-color="#040404"/><stop offset="0.66" stop-color="#040404"/><stop offset="0.69" stop-color="#040404"/><stop offset="0.72" stop-color="#040404"/><stop offset="0.75" stop-color="#040404"/><stop offset="0.78" stop-color="#040404"/><stop offset="0.81" stop-color="#040404"/><stop offset="0.84" stop-color="#040404"/><stop offset="0.88" stop-color="#040404"/><stop offset="0.91" stop-color="#040404"/><stop offset="0.94" stop-color="#040404"/><stop offset="0.97" stop-color="#040404"/><stop offset="1" stop-color="#040404"/></linearGradient><linearGradient id="sg7_11" gradientUnits="userSpaceOnUse" x1="1819" y1="0" x2="1851" y2="0"><stop offset="0" stop-color="#040404"/><stop offset="0.03" stop-color="#040404"/><stop offset="0.06" stop-color="#040404"/><stop offset="0.09" stop-color="#040404"/><stop offset="0.12" stop-color="#040404"/><stop offset="0.16" stop-color="#040404"/><stop offset="0.19" stop-color="#040404"/><stop offset="0.22" stop-color="#040404"/><stop offset="0.25" stop-color="#040404"/><stop offset="0.28" stop-color="#040404"/><stop offset="0.31" stop-color="#040404"/><stop offset="0.34" stop-color="#040404"/><stop offset="0.38" stop-color="#040404"/><stop offset="0.41" stop-color="#040404"/><stop offset="0.44" stop-color="#040404"/><stop offset="0.47" stop-color="#040404"/><stop offset="0.5" stop-color="#040404"/><stop offset="0.53" stop-color="#040404"/><stop offset="0.56" stop-color="#040404"/><stop offset="0.59" stop-color="#040404"/><stop offset="0.62" stop-color="#040404"/><stop offset="0.66" stop-color="#050505"/><stop offset="0.69" stop-color="#060606"/><stop offset="0.72" stop-color="#070707"/><stop offset="0.75" stop-color="#070707"/><stop offset="0.78" stop-color="#080808"/><stop offset="0.81" stop-color="#090909"/><stop offset="0.84" stop-color="#0a0a0a"/><stop offset="0.88" stop-color="#0b0b0b"/><stop offset="0.91" stop-color="#0c0c0c"/><stop offset="0.94" stop-color="#0c0c0c"/><stop offset="0.97" stop-color="#0c0c0c"/><stop offset="1" stop-color="#0c0c0c"/></linearGradient><linearGradient id="sg7_12" gradientUnits="userSpaceOnUse" x1="1851" y1="0" x2="1883" y2="0"><stop offset="0" stop-color="#0c0c0c"/><stop offset="0.03" stop-color="#0c0c0c"/><stop offset="0.06" stop-color="#0b0b0b"/><stop offset="0.09" stop-color="#0a0a0a"/><stop offset="0.12" stop-color="#090909"/><stop offset="0.16" stop-color="#080808"/><stop offset="0.19" stop-color="#070707"/><stop offset="0.22" stop-color="#060606"/><stop offset="0.25" stop-color="#060606"/><stop offset="0.28" stop-color="#050505"/><stop offset="0.31" stop-color="#040404"/><stop offset="0.34" stop-color="#040404"/><stop offset="0.38" stop-color="#040404"/><stop offset="0.41" stop-color="#040404"/><stop offset="0.44" stop-color="#040404"/><stop offset="0.47" stop-color="#040404"/><stop offset="0.5" stop-color="#040404"/><stop offset="0.53" stop-color="#040404"/><stop offset="0.56" stop-color="#040404"/><stop offset="0.59" stop-color="#040404"/><stop offset="0.62" stop-color="#040404"/><stop offset="0.66" stop-color="#040404"/><stop offset="0.69" stop-color="#040404"/><stop offset="0.72" stop-color="#040404"/><stop offset="0.75" stop-color="#040404"/><stop offset="0.78" stop-color="#040404"/><stop offset="0.81" stop-color="#040404"/><stop offset="0.84" stop-color="#040404"/><stop offset="0.88" stop-color="#040404"/><stop offset="0.91" stop-color="#040404"/><stop offset="0.94" stop-color="#040404"/><stop offset="0.97" stop-color="#040404"/><stop offset="1" stop-color="#040404"/></linearGradient><linearGradient id="sg7_13" gradientUnits="userSpaceOnUse" x1="1883" y1="0" x2="1885" y2="0"><stop offset="0" stop-color="#040404"/><stop offset="0.5" stop-color="#040404"/><stop offset="1" stop-color="#040404"/></linearGradient></defs><rect width="1900" height="1108" fill="#fff"/><rect x="73" y="108" width="64" height="278" fill="url(#sg1_0)" shape-rendering="crispEdges"/>
<rect x="137" y="108" width="64" height="278" fill="url(#sg1_1)" shape-rendering="crispEdges"/>
<rect x="201" y="108" width="64" height="278" fill="url(#sg1_2)" shape-rendering="crispEdges"/>
<rect x="265" y="108" width="64" height="278" fill="url(#sg1_3)" shape-rendering="crispEdges"/>
<rect x="329" y="108" width="64" height="278" fill="url(#sg1_4)" shape-rendering="crispEdges"/>
<rect x="393" y="108" width="5" height="278" fill="url(#sg1_5)" shape-rendering="crispEdges"/>
<rect x="210.6" y="121" width="4" height="258.5" fill="#d4d4d4"/>
<rect x="257.5" y="121.5" width="3.8" height="258" fill="#cdcdcd"/>
<rect x="214.6" y="121" width="8.2" height="258.5" fill="#383838"/>
<rect x="261.3" y="121.5" width="8.4" height="258" fill="#383838"/>
<rect x="315.8" y="327" width="48" height="7" fill="#3c3c3c"/>
<rect x="73" y="406" width="64" height="80" fill="url(#sg2_0)" shape-rendering="crispEdges"/>
<rect x="137" y="406" width="64" height="80" fill="url(#sg2_1)" shape-rendering="crispEdges"/>
<rect x="201" y="406" width="64" height="80" fill="url(#sg2_2)" shape-rendering="crispEdges"/>
<rect x="265" y="406" width="64" height="80" fill="url(#sg2_3)" shape-rendering="crispEdges"/>
<rect x="329" y="406" width="64" height="80" fill="url(#sg2_4)" shape-rendering="crispEdges"/>
<rect x="393" y="406" width="5" height="80" fill="url(#sg2_5)" shape-rendering="crispEdges"/>
<rect x="200.4" y="432.3" width="65.9" height="6.8" fill="#3c3c3c"/>
<path d="M556,276.2 L680,276.2 L694,280.2 L788,295.9 L694,311.6 L680,316.1 L556,316.1 Z" fill="#fbb1b6"/>
<path d="M815,296.2 L916,279.2 L948,272.6 L1004,272.6 L1004,323.7 L948,323.7 L916,313.3 Z" fill="#fbb1b6"/>
<rect x="433.7" y="229.2" width="121" height="144.6" rx="14" ry="14" fill="#fde4e6" stroke="#c00000" stroke-width="3"/>
<rect x="616.4" y="235.9" width="15.8" height="119.5" rx="3" fill="#cdeafa" stroke="#2e75b6" stroke-width="2.2"/>
<path d="M679.5,234.6 A14.1,61.4 0 0 1 679.5,357.4 Z" fill="#cdeafa" stroke="#2e75b6" stroke-width="2.2" stroke-linejoin="round"/>
<rect x="662.5" y="234.6" width="17" height="122.8" rx="3" fill="#cdeafa" stroke="#2e75b6" stroke-width="2.2"/>
<rect x="789.6" y="235.6" width="23.8" height="119.6" rx="5" fill="#f9c590" stroke="#e5532b" stroke-width="2.4"/>
<path d="M790.8,275.5 L813.2,266 M790.8,313.4 L813.2,324.2" stroke="#e5532b" stroke-width="2.4" fill="none"/>
<path d="M933,234.7 A15.2,61.55 0 0 1 933,357.8 Z" fill="#cdeafa" stroke="#2e75b6" stroke-width="2.2" stroke-linejoin="round"/>
<rect x="916.8" y="234.7" width="16.2" height="123.1" rx="3" fill="#cdeafa" stroke="#2e75b6" stroke-width="2.2"/>
<rect x="998" y="228" width="9.8" height="45.5" fill="#3a3a3a"/>
<rect x="998" y="283" width="9.8" height="19" fill="#3a3a3a"/>
<rect x="998" y="309.5" width="9.8" height="46.5" fill="#3a3a3a"/>
<path d="M1027.9,269.5 A50.09,50.09 0 0 1 1029.2,323.3 M1027.2,290.5 A6.08,6.08 0 0 1 1027.2,302.3 M1042.9,259.7 A72.1,72.1 0 0 1 1047.5,332.4 M1043.6,281.3 A18.92,18.92 0 0 1 1046.2,313 M1061.5,253.1 A82.09,82.09 0 0 1 1065.5,338.9 M1062.2,274.7 A29.63,29.63 0 0 1 1064.8,318.6 M1079.2,245.3 A103.81,103.81 0 0 1 1083.1,345.4 M1079.2,265.6 A43.42,43.42 0 0 1 1082.5,325.8 M1101.5,234.2 A114.73,114.73 0 0 1 1106.7,359.8 M1101.5,255.8 A56.24,56.24 0 0 1 1106,338.9" fill="none" stroke="#ee6b7e" stroke-width="2.9" stroke-linecap="round"/>
<rect x="1136" y="144" width="41" height="32" fill="url(#sg3_0)" shape-rendering="crispEdges"/>
<rect x="1136" y="176" width="41" height="32" fill="url(#sg3_1)" shape-rendering="crispEdges"/>
<rect x="1136" y="208" width="41" height="32" fill="url(#sg3_2)" shape-rendering="crispEdges"/>
<rect x="1136" y="240" width="41" height="32" fill="url(#sg3_3)" shape-rendering="crispEdges"/>
<rect x="1136" y="272" width="41" height="32" fill="url(#sg3_4)" shape-rendering="crispEdges"/>
<rect x="1136" y="304" width="41" height="32" fill="url(#sg3_5)" shape-rendering="crispEdges"/>
<rect x="1136" y="336" width="41" height="32" fill="url(#sg3_6)" shape-rendering="crispEdges"/>
<rect x="1136" y="368" width="41" height="32" fill="url(#sg3_7)" shape-rendering="crispEdges"/>
<rect x="1136" y="400" width="41" height="32" fill="url(#sg3_8)" shape-rendering="crispEdges"/>
<rect x="1136" y="432" width="41" height="8" fill="url(#sg3_9)" shape-rendering="crispEdges"/>
<rect x="1136.2" y="144.4" width="41.2" height="296" fill="url(#ccdfr2)"/>
<rect x="1187.8" y="144.4" width="106.2" height="296.1" rx="10" fill="#c7e6a5" stroke="#77a12c" stroke-width="3"/>
<rect x="1409.7" y="32.6" width="418.3" height="70" fill="url(#wlglow)"/>
<rect x="1409.7" y="32.6" width="418.3" height="70" fill="url(#wlfade)"/>
<g clip-path="url(#wlclip)">
<ellipse cx="1552.8" cy="67.5" rx="15" ry="52" fill="url(#wlb)" opacity="0.35"/>
<ellipse cx="1586.4" cy="67.5" rx="14.5" ry="52" fill="url(#wlb)" opacity="0.88"/>
<ellipse cx="1621.2" cy="67.5" rx="14.5" ry="52" fill="url(#wlb)" opacity="1"/>
<ellipse cx="1654.7" cy="67.5" rx="14.5" ry="52" fill="url(#wlb)" opacity="0.94"/>
<ellipse cx="1687.2" cy="67.5" rx="14.5" ry="52" fill="url(#wlb)" opacity="0.58"/>
<ellipse cx="1719.6" cy="67.5" rx="14" ry="52" fill="url(#wlb)" opacity="0.22"/>
</g>
<path d="M1419.8,115.5 L1419.8,430.2 L1823.8,430.2" fill="none" stroke="#000" stroke-width="3"/>
<path d="M1419.8,144.5 h5.5 M1419.8,201.4 h5.5 M1419.8,258.5 h5.5 M1419.8,315.5 h5.5 M1419.8,373.5 h5.5 M1499.1,430.2 v-6.5 M1577.9,430.2 v-6.5 M1656.6,430.2 v-6.5 M1735.1,430.2 v-6.5 M1814.5,430.2 v-6.5 " fill="none" stroke="#000" stroke-width="2.6"/>
<path d="M1419.5,427.5 1420,427.5 1420.5,427.5 1421,427.5 1421.5,427.5 1422,427.5 1422.5,427.5 1423,427.5 1423.5,427.5 1424,427.5 1424.5,427.5 1425,427.5 1425.5,427.5 1426,427.5 1426.5,427.5 1427,427.5 1427.5,427.5 1428,427.5 1428.5,427.5 1429,427.5 1429.5,427.5 1430,427.5 1430.5,427.5 1431,427.51 1431.5,427.52 1432,427.53 1432.5,427.55 1433,427.57 1433.5,427.59 1434,427.61 1434.5,427.64 1435,427.67 1435.5,427.7 1436,427.73 1436.5,427.76 1437,427.8 1437.5,427.83 1438,427.87 1438.5,427.9 1439,427.93 1439.5,427.97 1440,428 1440.5,428.04 1441,428.08 1441.5,428.13 1442,428.19 1442.5,428.24 1443,428.3 1443.5,428.35 1444,428.4 1444.5,428.44 1445,428.47 1445.5,428.49 1446,428.5 1446.5,428.47 1447,428.38 1447.5,428.24 1448,428.07 1448.5,427.86 1449,427.63 1449.5,427.38 1450,427.13 1450.5,426.88 1451,426.64 1451.5,426.42 1452,426.23 1452.5,426.07 1453,425.93 1453.5,425.8 1454,425.67 1454.5,425.55 1455,425.43 1455.5,425.32 1456,425.22 1456.5,425.11 1457,425.01 1457.5,424.91 1458,424.81 1458.5,424.71 1459,424.62 1459.5,424.52 1460,424.42 1460.5,424.32 1461,424.21 1461.5,424.11 1462,423.99 1462.5,423.88 1463,423.76 1463.5,423.63 1464,423.5 1464.5,423.36 1465,423.21 1465.5,423.05 1466,422.88 1466.5,422.71 1467,422.52 1467.5,422.33 1468,422.13 1468.5,421.93 1469,421.72 1469.5,421.5 1470,421.29 1470.5,421.07 1471,420.86 1471.5,420.64 1472,420.42 1472.5,420.21 1473,419.99 1473.5,419.79 1474,419.58 1474.5,419.38 1475,419.18 1475.5,418.98 1476,418.79 1476.5,418.59 1477,418.39 1477.5,418.2 1478,418 1478.5,417.81 1479,417.61 1479.5,417.41 1480,417.21 1480.5,417.01 1481,416.81 1481.5,416.61 1482,416.41 1482.5,416.2 1483,415.99 1483.5,415.78 1484,415.57 1484.5,415.37 1485,415.17 1485.5,414.97 1486,414.77 1486.5,414.57 1487,414.38 1487.5,414.18 1488,413.98 1488.5,413.77 1489,413.56 1489.5,413.34 1490,413.12 1490.5,412.88 1491,412.64 1491.5,412.38 1492,412.11 1492.5,411.82 1493,411.52 1493.5,411.2 1494,410.85 1494.5,410.45 1495,410.03 1495.5,409.57 1496,409.09 1496.5,408.58 1497,408.06 1497.5,407.51 1498,406.96 1498.5,406.39 1499,405.82 1499.5,405.24 1500,404.67 1500.5,404.1 1501,403.53 1501.5,402.97 1502,402.42 1502.5,401.9 1503,401.37 1503.5,400.85 1504,400.33 1504.5,399.81 1505,399.29 1505.5,398.76 1506,398.23 1506.5,397.69 1507,397.14 1507.5,396.57 1508,396 1508.5,395.42 1509,394.85 1509.5,394.27 1510,393.69 1510.5,393.1 1511,392.49 1511.5,391.87 1512,391.21 1512.5,390.53 1513,389.81 1513.5,389.06 1514,388.24 1514.5,387.34 1515,386.38 1515.5,385.36 1516,384.3 1516.5,383.22 1517,382.13 1517.5,381.05 1518,380 1518.5,378.92 1519,377.79 1519.5,376.61 1520,375.41 1520.5,374.22 1521,373.05 1521.5,371.93 1522,370.88 1522.5,369.92 1523,369.08 1523.5,368.37 1524,367.74 1524.5,367.15 1525,366.61 1525.5,366.1 1526,365.63 1526.5,365.18 1527,364.77 1527.5,364.37 1528,364 1528.5,363.66 1529,363.35 1529.5,363.06 1530,362.8 1530.5,362.55 1531,362.29 1531.5,362.04 1532,361.76 1532.5,361.47 1533,361.14 1533.5,360.78 1534,360.42 1534.5,360.04 1535,359.66 1535.5,359.26 1536,358.84 1536.5,358.39 1537,357.92 1537.5,357.42 1538,356.88 1538.5,356.31 1539,355.69 1539.5,355.02 1540,354.3 1540.5,353.5 1541,352.48 1541.5,351.26 1542,349.86 1542.5,348.31 1543,346.63 1543.5,344.86 1544,343.01 1544.5,341.12 1545,339.2 1545.5,337.29 1546,335.41 1546.5,333.58 1547,331.84 1547.5,330.12 1548,328.27 1548.5,326.31 1549,324.25 1549.5,322.11 1550,319.9 1550.5,317.64 1551,315.36 1551.5,313.06 1552,310.76 1552.5,308.48 1553,306.24 1553.5,304.05 1554,301.93 1554.5,299.9 1555,297.97 1555.5,296.16 1556,294.48 1556.5,292.96 1557,291.62 1557.5,290.45 1558,289.5 1558.5,288.76 1559,288.27 1559.5,288.02 1560,288.05 1560.5,288.34 1561,288.88 1561.5,289.63 1562,290.59 1562.5,291.72 1563,293.01 1563.5,294.43 1564,295.96 1564.5,297.58 1565,299.27 1565.5,301 1566,302.75 1566.5,304.5 1567,306.23 1567.5,307.92 1568,309.54 1568.5,311.07 1569,312.49 1569.5,313.78 1570,314.91 1570.5,315.87 1571,316.62 1571.5,317.16 1572,317.45 1572.5,317.46 1573,317.02 1573.5,316.1 1574,314.75 1574.5,312.98 1575,310.82 1575.5,308.3 1576,305.44 1576.5,302.27 1577,298.82 1577.5,295.11 1578,291.18 1578.5,287.03 1579,282.71 1579.5,278.24 1580,273.65 1580.5,268.95 1581,264.19 1581.5,259.38 1582,254.55 1582.5,249.73 1583,244.95 1583.5,240.22 1584,235.58 1584.5,231.06 1585,226.68 1585.5,222.46 1586,218.44 1586.5,214.63 1587,211.07 1587.5,207.79 1588,204.81 1588.5,202.15 1589,199.84 1589.5,197.91 1590,196.39 1590.5,195.29 1591,194.66 1591.5,194.51 1592,194.95 1592.5,195.97 1593,197.55 1593.5,199.63 1594,202.18 1594.5,205.17 1595,208.54 1595.5,212.26 1596,216.29 1596.5,220.58 1597,225.11 1597.5,229.83 1598,234.69 1598.5,239.66 1599,244.7 1599.5,249.77 1600,254.83 1600.5,259.83 1601,264.74 1601.5,269.52 1602,274.13 1602.5,278.52 1603,282.67 1603.5,286.51 1604,290.03 1604.5,293.17 1605,295.9 1605.5,298.18 1606,299.96 1606.5,301.21 1607,301.89 1607.5,301.92 1608,301.06 1608.5,299.3 1609,296.7 1609.5,293.33 1610,289.25 1610.5,284.54 1611,279.24 1611.5,273.43 1612,267.17 1612.5,260.52 1613,253.55 1613.5,246.33 1614,238.91 1614.5,231.36 1615,223.75 1615.5,216.14 1616,208.59 1616.5,201.17 1617,193.95 1617.5,186.98 1618,180.33 1618.5,174.07 1619,168.26 1619.5,162.96 1620,158.25 1620.5,154.17 1621,150.8 1621.5,148.2 1622,146.44 1622.5,145.58 1623,145.65 1623.5,146.56 1624,148.25 1624.5,150.67 1625,153.77 1625.5,157.51 1626,161.82 1626.5,166.67 1627,172 1627.5,177.77 1628,183.93 1628.5,190.43 1629,197.21 1629.5,204.23 1630,211.45 1630.5,218.81 1631,226.26 1631.5,233.75 1632,241.24 1632.5,248.67 1633,256.01 1633.5,263.19 1634,270.17 1634.5,276.9 1635,283.33 1635.5,289.41 1636,295.1 1636.5,300.34 1637,305.09 1637.5,309.29 1638,312.9 1638.5,315.87 1639,318.14 1639.5,319.68 1640,320.43 1640.5,320.31 1641,319.16 1641.5,317.05 1642,314.05 1642.5,310.24 1643,305.68 1643.5,300.45 1644,294.63 1644.5,288.29 1645,281.51 1645.5,274.35 1646,266.9 1646.5,259.22 1647,251.4 1647.5,243.5 1648,235.6 1648.5,227.78 1649,220.1 1649.5,212.65 1650,205.49 1650.5,198.71 1651,192.37 1651.5,186.55 1652,181.32 1652.5,176.76 1653,172.95 1653.5,169.95 1654,167.84 1654.5,166.69 1655,166.57 1655.5,167.35 1656,168.94 1656.5,171.31 1657,174.38 1657.5,178.12 1658,182.47 1658.5,187.38 1659,192.81 1659.5,198.68 1660,204.97 1660.5,211.61 1661,218.55 1661.5,225.75 1662,233.14 1662.5,240.69 1663,248.33 1663.5,256.02 1664,263.7 1664.5,271.33 1665,278.85 1665.5,286.21 1666,293.36 1666.5,300.24 1667,306.82 1667.5,313.03 1668,318.82 1668.5,324.14 1669,328.94 1669.5,333.18 1670,336.79 1670.5,339.73 1671,341.94 1671.5,343.37 1672,343.98 1672.5,343.82 1673,343.12 1673.5,341.92 1674,340.26 1674.5,338.18 1675,335.7 1675.5,332.86 1676,329.71 1676.5,326.28 1677,322.59 1677.5,318.7 1678,314.63 1678.5,310.42 1679,306.1 1679.5,301.72 1680,297.31 1680.5,292.9 1681,288.53 1681.5,284.23 1682,280.04 1682.5,276.01 1683,272.15 1683.5,268.52 1684,265.13 1684.5,262.04 1685,259.28 1685.5,256.87 1686,254.87 1686.5,253.3 1687,252.2 1687.5,251.6 1688,251.55 1688.5,252.06 1689,253.11 1689.5,254.66 1690,256.68 1690.5,259.14 1691,262.01 1691.5,265.24 1692,268.81 1692.5,272.68 1693,276.82 1693.5,281.19 1694,285.77 1694.5,290.51 1695,295.39 1695.5,300.37 1696,305.42 1696.5,310.5 1697,315.58 1697.5,320.63 1698,325.61 1698.5,330.49 1699,335.23 1699.5,339.81 1700,344.18 1700.5,348.32 1701,352.19 1701.5,355.76 1702,358.99 1702.5,361.86 1703,364.32 1703.5,366.34 1704,367.89 1704.5,368.94 1705,369.45 1705.5,369.44 1706,369.09 1706.5,368.44 1707,367.54 1707.5,366.42 1708,365.1 1708.5,363.62 1709,362.02 1709.5,360.32 1710,358.55 1710.5,356.75 1711,354.95 1711.5,353.18 1712,351.48 1712.5,349.88 1713,348.4 1713.5,347.08 1714,345.96 1714.5,345.06 1715,344.41 1715.5,344.06 1716,344.01 1716.5,344.14 1717,344.41 1717.5,344.8 1718,345.31 1718.5,345.94 1719,346.67 1719.5,347.5 1720,348.42 1720.5,349.42 1721,350.49 1721.5,351.63 1722,352.83 1722.5,354.08 1723,355.37 1723.5,356.7 1724,358.05 1724.5,359.42 1725,360.81 1725.5,362.2 1726,363.58 1726.5,364.96 1727,366.31 1727.5,367.64 1728,369.03 1728.5,370.67 1729,372.5 1729.5,374.49 1730,376.57 1730.5,378.72 1731,380.86 1731.5,382.96 1732,384.97 1732.5,386.83 1733,388.5 1733.5,389.94 1734,391.08 1734.5,391.88 1735,392.42 1735.5,392.9 1736,393.34 1736.5,393.75 1737,394.12 1737.5,394.46 1738,394.78 1738.5,395.07 1739,395.35 1739.5,395.6 1740,395.85 1740.5,396.08 1741,396.31 1741.5,396.54 1742,396.77 1742.5,397 1743,397.25 1743.5,397.5 1744,397.77 1744.5,398.06 1745,398.35 1745.5,398.64 1746,398.93 1746.5,399.21 1747,399.5 1747.5,399.78 1748,400.06 1748.5,400.34 1749,400.61 1749.5,400.89 1750,401.17 1750.5,401.45 1751,401.73 1751.5,402.01 1752,402.29 1752.5,402.57 1753,402.85 1753.5,403.13 1754,403.42 1754.5,403.71 1755,404 1755.5,404.3 1756,404.6 1756.5,404.91 1757,405.22 1757.5,405.54 1758,405.86 1758.5,406.18 1759,406.51 1759.5,406.84 1760,407.17 1760.5,407.5 1761,407.82 1761.5,408.15 1762,408.48 1762.5,408.8 1763,409.12 1763.5,409.44 1764,409.75 1764.5,410.05 1765,410.35 1765.5,410.64 1766,410.92 1766.5,411.19 1767,411.46 1767.5,411.74 1768,412.02 1768.5,412.31 1769,412.6 1769.5,412.9 1770,413.19 1770.5,413.49 1771,413.78 1771.5,414.06 1772,414.34 1772.5,414.61 1773,414.87 1773.5,415.12 1774,415.35 1774.5,415.57 1775,415.77 1775.5,415.95 1776,416.11 1776.5,416.25 1777,416.36 1777.5,416.44 1778,416.5 1778.5,416.54 1779,416.58 1779.5,416.62 1780,416.65 1780.5,416.69 1781,416.72 1781.5,416.75 1782,416.78 1782.5,416.81 1783,416.84 1783.5,416.86 1784,416.89 1784.5,416.91 1785,416.93 1785.5,416.94 1786,416.96 1786.5,416.97 1787,416.98 1787.5,416.99 1788,417 1788.5,417 1789,417 1789.5,417 1790,417 1790.5,416.99 1791,416.98 1791.5,416.97 1792,416.96 1792.5,416.95 1793,416.93 1793.5,416.91 1794,416.89 1794.5,416.87 1795,416.85 1795.5,416.82 1796,416.79 1796.5,416.76 1797,416.73 1797.5,416.7 1798,416.67 1798.5,416.64 1799,416.6 1799.5,416.56 1800,416.52 1800.5,416.48 1801,416.43 1801.5,416.36 1802,416.28 1802.5,416.19 1803,416.08 1803.5,415.96 1804,415.83 1804.5,415.69 1805,415.54 1805.5,415.37 1806,415.2 1806.5,415.01 1807,414.82 1807.5,414.62 1808,414.41 1808.5,414.19 1809,413.93 1809.5,413.53 1810,413.03 1810.5,412.46 1811,411.89 1811.5,411.36 1812,410.91 1812.5,410.61 1813,410.5 1813.5,410.6 1814,410.88 1814.5,411.28 1815,411.74 1815.5,412.23 1816,412.68 1816.5,413.05 1817,413.28 1817.5,413.38 1818,413.48 1818.5,413.57 1819,413.66 1819.5,413.73 1820,413.81 1820.5,413.87 1821,413.93 1821.5,413.98 1822,414.02 1822.5,414.05 1823,414.08 1823.5,414.09 1824,414.1 1824.1,414.1" fill="none" stroke="#ff0000" stroke-width="3" stroke-linejoin="round"/>
<rect x="85" y="607" width="32" height="68" fill="url(#sg4_0)" shape-rendering="crispEdges"/>
<rect x="117" y="607" width="32" height="68" fill="url(#sg4_1)" shape-rendering="crispEdges"/>
<rect x="149" y="607" width="32" height="68" fill="url(#sg4_2)" shape-rendering="crispEdges"/>
<rect x="181" y="607" width="32" height="68" fill="url(#sg4_3)" shape-rendering="crispEdges"/>
<rect x="213" y="607" width="32" height="68" fill="url(#sg4_4)" shape-rendering="crispEdges"/>
<rect x="245" y="607" width="32" height="68" fill="url(#sg4_5)" shape-rendering="crispEdges"/>
<rect x="277" y="607" width="32" height="68" fill="url(#sg4_6)" shape-rendering="crispEdges"/>
<rect x="309" y="607" width="32" height="68" fill="url(#sg4_7)" shape-rendering="crispEdges"/>
<rect x="341" y="607" width="32" height="68" fill="url(#sg4_8)" shape-rendering="crispEdges"/>
<rect x="373" y="607" width="32" height="68" fill="url(#sg4_9)" shape-rendering="crispEdges"/>
<rect x="405" y="607" width="32" height="68" fill="url(#sg4_10)" shape-rendering="crispEdges"/>
<rect x="437" y="607" width="32" height="68" fill="url(#sg4_11)" shape-rendering="crispEdges"/>
<rect x="469" y="607" width="32" height="68" fill="url(#sg4_12)" shape-rendering="crispEdges"/>
<rect x="501" y="607" width="4" height="68" fill="url(#sg4_13)" shape-rendering="crispEdges"/>
<rect x="85" y="607" width="420" height="68" fill="url(#fadev)"/>
<path d="M93.8,695.5 L93.8,1008.2 L499.5,1008.2" fill="none" stroke="#000" stroke-width="3"/>
<path d="M93.8,723.3 h5.5 M93.8,779.8 h5.5 M93.8,836.5 h5.5 M93.8,893.3 h5.5 M93.8,951 h5.5 M172.9,1008.2 v-6.5 M252,1008.2 v-6.5 M331,1008.2 v-6.5 M410.5,1008.2 v-6.5 M490,1008.2 v-6.5 " fill="none" stroke="#000" stroke-width="2.6"/>
<path d="M93.9,1004.8 94.4,1004.96 94.9,1005.11 95.4,1005.24 95.9,1005.36 96.4,1005.47 96.9,1005.58 97.4,1005.67 97.9,1005.75 98.4,1005.82 98.9,1005.89 99.4,1005.94 99.9,1005.99 100.4,1006.04 100.9,1006.07 101.4,1006.1 101.9,1006.13 102.4,1006.15 102.9,1006.17 103.4,1006.18 103.9,1006.19 104.4,1006.19 104.9,1006.2 105.4,1006.2 105.9,1006.2 106.4,1006.2 106.9,1006.18 107.4,1006.08 107.9,1005.89 108.4,1005.63 108.9,1005.31 109.4,1004.94 109.9,1004.53 110.4,1004.09 110.9,1003.63 111.4,1003.16 111.9,1002.69 112.4,1002.23 112.9,1001.8 113.4,1001.4 113.9,1001.05 114.4,1000.75 114.9,1000.52 115.4,1000.37 115.9,1000.3 116.4,1000.35 116.9,1000.54 117.4,1000.84 117.9,1001.25 118.4,1001.73 118.9,1002.26 119.4,1002.82 119.9,1003.39 120.4,1003.95 120.9,1004.47 121.4,1004.94 121.9,1005.33 122.4,1005.61 122.9,1005.77 123.4,1005.8 123.9,1005.74 124.4,1005.63 124.9,1005.48 125.4,1005.27 125.9,1005.02 126.4,1004.74 126.9,1004.42 127.4,1004.07 127.9,1003.7 128.4,1003.31 128.9,1002.9 129.4,1002.47 129.9,1002.04 130.4,1001.61 130.9,1001.17 131.4,1000.74 131.9,1000.32 132.4,999.91 132.9,999.52 133.4,999.16 133.9,998.81 134.4,998.5 134.9,998.22 135.4,997.98 135.9,997.79 136.4,997.64 136.9,997.54 137.4,997.5 137.9,997.54 138.4,997.67 138.9,997.91 139.4,998.22 139.9,998.62 140.4,999.07 140.9,999.58 141.4,1000.14 141.9,1000.73 142.4,1001.34 142.9,1001.96 143.4,1002.59 143.9,1003.21 144.4,1003.81 144.9,1004.39 145.4,1004.93 145.9,1005.42 146.4,1005.85 146.9,1006.21 147.4,1006.5 147.9,1006.69 148.4,1006.79 148.9,1006.79 149.4,1006.7 149.9,1006.54 150.4,1006.32 150.9,1006.05 151.4,1005.73 151.9,1005.38 152.4,1005.01 152.9,1004.62 153.4,1004.22 153.9,1003.82 154.4,1003.44 154.9,1003.07 155.4,1002.74 155.9,1002.44 156.4,1002.19 156.9,1001.99 157.4,1001.86 157.9,1001.8 158.4,1001.81 158.9,1001.85 159.4,1001.92 159.9,1002.01 160.4,1002.13 160.9,1002.27 161.4,1002.43 161.9,1002.6 162.4,1002.78 162.9,1002.98 163.4,1003.18 163.9,1003.39 164.4,1003.6 164.9,1003.81 165.4,1004.01 165.9,1004.22 166.4,1004.41 166.9,1004.59 167.4,1004.77 167.9,1004.92 168.4,1005.06 168.9,1005.18 169.4,1005.27 169.9,1005.34 170.4,1005.41 170.9,1005.48 171.4,1005.55 171.9,1005.62 172.4,1005.69 172.9,1005.75 173.4,1005.82 173.9,1005.88 174.4,1005.94 174.9,1006 175.4,1006.06 175.9,1006.11 176.4,1006.16 176.9,1006.22 177.4,1006.26 177.9,1006.31 178.4,1006.35 178.9,1006.39 179.4,1006.43 179.9,1006.46 180.4,1006.49 180.9,1006.52 181.4,1006.54 181.9,1006.56 182.4,1006.58 182.9,1006.59 183.4,1006.6 183.9,1006.6 184.4,1006.6 184.9,1006.6 185.4,1006.59 185.9,1006.59 186.4,1006.58 186.9,1006.58 187.4,1006.57 187.9,1006.56 188.4,1006.55 188.9,1006.53 189.4,1006.52 189.9,1006.5 190.4,1006.49 190.9,1006.47 191.4,1006.45 191.9,1006.43 192.4,1006.41 192.9,1006.38 193.4,1006.36 193.9,1006.33 194.4,1006.3 194.9,1006.27 195.4,1006.24 195.9,1006.21 196.4,1006.15 196.9,1005.92 197.4,1005.54 197.9,1005.01 198.4,1004.36 198.9,1003.6 199.4,1002.76 199.9,1001.83 200.4,1000.85 200.9,999.83 201.4,998.79 201.9,997.73 202.4,996.69 202.9,995.68 203.4,994.7 203.9,993.79 204.4,992.96 204.9,992.22 205.4,991.59 205.9,991.09 206.4,990.73 206.9,990.53 207.4,990.52 207.9,990.69 208.4,991.04 208.9,991.54 209.4,992.18 209.9,992.93 210.4,993.77 210.9,994.68 211.4,995.65 211.9,996.65 212.4,997.65 212.9,998.65 213.4,999.62 213.9,1000.53 214.4,1001.37 214.9,1002.12 215.4,1002.76 215.9,1003.26 216.4,1003.61 216.9,1003.78 217.4,1003.66 217.9,1002.83 218.4,1001.31 218.9,999.18 219.4,996.5 219.9,993.34 220.4,989.77 220.9,985.86 221.4,981.67 221.9,977.28 222.4,972.75 222.9,968.15 223.4,963.55 223.9,959.02 224.4,954.63 224.9,950.44 225.4,946.53 225.9,942.96 226.4,939.8 226.9,937.12 227.4,934.99 227.9,933.47 228.4,932.64 228.9,932.59 229.4,933.62 229.9,935.66 230.4,938.6 230.9,942.31 231.4,946.65 231.9,951.5 232.4,956.74 232.9,962.23 233.4,967.85 233.9,973.47 234.4,978.96 234.9,984.2 235.4,989.05 235.9,993.39 236.4,997.1 236.9,1000.04 237.4,1002.08 237.9,1003.11 238.4,1002.89 238.9,1001.03 239.4,997.65 239.9,992.88 240.4,986.88 240.9,979.79 241.4,971.76 241.9,962.94 242.4,953.48 242.9,943.54 243.4,933.24 243.9,922.76 244.4,912.23 244.9,901.81 245.4,891.64 245.9,881.87 246.4,872.65 246.9,864.13 247.4,856.46 247.9,849.78 248.4,844.26 248.9,840.02 249.4,837.23 249.9,836.04 250.4,836.67 250.9,839.28 251.4,843.68 251.9,849.67 252.4,857.05 252.9,865.62 253.4,875.19 253.9,885.54 254.4,896.5 254.9,907.85 255.4,919.4 255.9,930.95 256.4,942.3 256.9,953.26 257.4,963.61 257.9,973.18 258.4,981.75 258.9,989.13 259.4,995.12 259.9,999.52 260.4,1002.13 260.9,1002.75 261.4,1000.96 261.9,996.8 262.4,990.5 262.9,982.28 263.4,972.38 263.9,961.02 264.4,948.42 264.9,934.82 265.4,920.45 265.9,905.53 266.4,890.28 266.9,874.95 267.4,859.76 267.9,844.93 268.4,830.69 268.9,817.27 269.4,804.91 269.9,793.82 270.4,784.23 270.9,776.38 271.4,770.49 271.9,766.78 272.4,765.5 272.9,767.06 273.4,771.54 273.9,778.62 274.4,788.01 274.9,799.39 275.4,812.47 275.9,826.92 276.4,842.45 276.9,858.74 277.4,875.5 277.9,892.4 278.4,909.16 278.9,925.45 279.4,940.98 279.9,955.43 280.4,968.51 280.9,979.89 281.4,989.28 281.9,996.36 282.4,1000.84 282.9,1002.4 283.4,1000.87 283.9,996.45 284.4,989.43 284.9,980.07 285.4,968.65 285.9,955.45 286.4,940.73 286.9,924.79 287.4,907.88 287.9,890.28 288.4,872.27 288.9,854.13 289.4,836.12 289.9,818.52 290.4,801.61 290.9,785.67 291.4,770.95 291.9,757.75 292.4,746.33 292.9,736.97 293.4,729.95 293.9,725.53 294.4,724 294.9,725.8 295.4,730.96 295.9,739.14 296.4,749.98 296.9,763.14 297.4,778.26 297.9,794.99 298.4,812.98 298.9,831.88 299.4,851.35 299.9,871.02 300.4,890.56 300.9,909.6 301.4,927.8 301.9,944.81 302.4,960.28 302.9,973.86 303.4,985.19 303.9,993.93 304.4,999.73 304.9,1002.23 305.4,1001.41 305.9,997.93 306.4,992.06 306.9,984.06 307.4,974.19 307.9,962.72 308.4,949.89 308.9,935.98 309.4,921.23 309.9,905.92 310.4,890.29 310.9,874.61 311.4,859.14 311.9,844.13 312.4,829.85 312.9,816.56 313.4,804.52 313.9,793.98 314.4,785.2 314.9,778.45 315.4,773.98 315.9,772.06 316.4,772.88 316.9,776.3 317.4,782.07 317.9,789.93 318.4,799.64 318.9,810.95 319.4,823.59 319.9,837.31 320.4,851.87 320.9,867.01 321.4,882.48 321.9,898.03 322.4,913.4 322.9,928.34 323.4,942.59 323.9,955.92 324.4,968.05 324.9,978.75 325.4,987.75 325.9,994.81 326.4,999.67 326.9,1002.08 327.4,1001.98 327.9,1000.11 328.4,996.7 328.9,991.9 329.4,985.89 329.9,978.8 330.4,970.82 330.9,962.08 331.4,952.76 331.9,943.01 332.4,932.99 332.9,922.86 333.4,912.77 333.9,902.9 334.4,893.38 334.9,884.4 335.4,876.09 335.9,868.63 336.4,862.17 336.9,856.86 337.4,852.88 337.9,850.37 338.4,849.5 338.9,850.29 339.4,852.59 339.9,856.24 340.4,861.11 340.9,867.07 341.4,873.98 341.9,881.69 342.4,890.08 342.9,899.01 343.4,908.33 343.9,917.91 344.4,927.62 344.9,937.32 345.4,946.86 345.9,956.11 346.4,964.94 346.9,973.21 347.4,980.78 347.9,987.5 348.4,993.26 348.9,997.9 349.4,1001.29 349.9,1003.29 350.4,1003.78 350.9,1003.06 351.4,1001.4 351.9,998.91 352.4,995.7 352.9,991.89 353.4,987.57 353.9,982.87 354.4,977.89 354.9,972.75 355.4,967.55 355.9,962.41 356.4,957.43 356.9,952.73 357.4,948.41 357.9,944.6 358.4,941.39 358.9,938.9 359.4,937.24 359.9,936.52 360.4,936.76 360.9,937.75 361.4,939.44 361.9,941.73 362.4,944.57 362.9,947.88 363.4,951.59 363.9,955.62 364.4,959.91 364.9,964.37 365.4,968.95 365.9,973.55 366.4,978.13 366.9,982.59 367.4,986.88 367.9,990.91 368.4,994.62 368.9,997.93 369.4,1000.77 369.9,1003.06 370.4,1004.75 370.9,1005.74 371.4,1006 371.9,1005.87 372.4,1005.56 372.9,1005.11 373.4,1004.53 373.9,1003.85 374.4,1003.07 374.9,1002.23 375.4,1001.35 375.9,1000.43 376.4,999.52 376.9,998.62 377.4,997.76 377.9,996.95 378.4,996.23 378.9,995.6 379.4,995.1 379.9,994.74 380.4,994.53 380.9,994.52 381.4,994.69 381.9,995.04 382.4,995.53 382.9,996.15 383.4,996.88 383.9,997.68 384.4,998.55 384.9,999.45 385.4,1000.36 385.9,1001.25 386.4,1002.12 386.9,1002.92 387.4,1003.65 387.9,1004.27 388.4,1004.77 388.9,1005.11 389.4,1005.29 389.9,1005.33 390.4,1005.37 390.9,1005.4 391.4,1005.44 391.9,1005.47 392.4,1005.5 392.9,1005.52 393.4,1005.55 393.9,1005.57 394.4,1005.59 394.9,1005.61 395.4,1005.63 395.9,1005.65 396.4,1005.66 396.9,1005.68 397.4,1005.69 397.9,1005.7 398.4,1005.72 398.9,1005.73 399.4,1005.74 399.9,1005.75 400.4,1005.77 400.9,1005.78 401.4,1005.79 401.9,1005.8 402.4,1005.82 402.9,1005.83 403.4,1005.85 403.9,1005.86 404.4,1005.88 404.9,1005.9 405.4,1005.92 405.9,1005.94 406.4,1005.96 406.9,1005.98 407.4,1006 407.9,1006.03 408.4,1006.05 408.9,1006.08 409.4,1006.1 409.9,1006.12 410.4,1006.15 410.9,1006.17 411.4,1006.19 411.9,1006.21 412.4,1006.23 412.9,1006.25 413.4,1006.26 413.9,1006.27 414.4,1006.28 414.9,1006.29 415.4,1006.3 415.9,1006.3 416.4,1006.28 416.9,1006.21 417.4,1006.09 417.9,1005.92 418.4,1005.71 418.9,1005.47 419.4,1005.2 419.9,1004.9 420.4,1004.58 420.9,1004.24 421.4,1003.9 421.9,1003.54 422.4,1003.19 422.9,1002.83 423.4,1002.49 423.9,1002.15 424.4,1001.84 424.9,1001.54 425.4,1001.28 425.9,1001.04 426.4,1000.84 426.9,1000.68 427.4,1000.57 427.9,1000.51 428.4,1000.51 428.9,1000.58 429.4,1000.73 429.9,1000.95 430.4,1001.22 430.9,1001.54 431.4,1001.9 431.9,1002.29 432.4,1002.71 432.9,1003.14 433.4,1003.57 433.9,1004.01 434.4,1004.42 434.9,1004.82 435.4,1005.19 435.9,1005.52 436.4,1005.8 436.9,1006.03 437.4,1006.19 437.9,1006.28 438.4,1006.29 438.9,1006.21 439.4,1006.03 439.9,1005.77 440.4,1005.44 440.9,1005.04 441.4,1004.59 441.9,1004.08 442.4,1003.54 442.9,1002.96 443.4,1002.35 443.9,1001.73 444.4,1001.09 444.9,1000.45 445.4,999.82 445.9,999.2 446.4,998.61 446.9,998.04 447.4,997.51 447.9,997.02 448.4,996.59 448.9,996.22 449.4,995.92 449.9,995.69 450.4,995.55 450.9,995.5 451.4,995.59 451.9,995.84 452.4,996.24 452.9,996.76 453.4,997.39 453.9,998.1 454.4,998.88 454.9,999.7 455.4,1000.56 455.9,1001.42 456.4,1002.27 456.9,1003.08 457.4,1003.85 457.9,1004.55 458.4,1005.15 458.9,1005.65 459.4,1006.02 459.9,1006.24 460.4,1006.3 460.9,1006.24 461.4,1006.12 461.9,1005.93 462.4,1005.68 462.9,1005.37 463.4,1005.03 463.9,1004.64 464.4,1004.22 464.9,1003.78 465.4,1003.31 465.9,1002.83 466.4,1002.35 466.9,1001.87 467.4,1001.39 467.9,1000.93 468.4,1000.49 468.9,1000.08 469.4,999.7 469.9,999.36 470.4,999.07 470.9,998.83 471.4,998.65 471.9,998.54 472.4,998.5 472.9,998.52 473.4,998.6 473.9,998.71 474.4,998.86 474.9,999.05 475.4,999.27 475.9,999.51 476.4,999.78 476.9,1000.06 477.4,1000.36 477.9,1000.68 478.4,1000.99 478.9,1001.31 479.4,1001.63 479.9,1001.95 480.4,1002.25 480.9,1002.54 481.4,1002.82 481.9,1003.07 482.4,1003.3 482.9,1003.52 483.4,1003.76 483.9,1004.01 484.4,1004.27 484.9,1004.53 485.4,1004.79 485.9,1005.04 486.4,1005.28 486.9,1005.51 487.4,1005.72 487.9,1005.9 488.4,1006.05 488.9,1006.17 489.4,1006.25 489.9,1006.3 490.4,1006.3 490.9,1006.28 491.4,1006.26 491.9,1006.22 492.4,1006.16 492.9,1006.1 493.4,1006.01 493.9,1005.91 494.4,1005.78 494.9,1005.64 495.4,1005.48 495.9,1005.3 496.4,1005.1 496.9,1004.87 497.4,1004.62 497.8,1004.4" fill="none" stroke="#ff0000" stroke-width="3" stroke-linejoin="round"/>
<rect x="543" y="608" width="32" height="68" fill="url(#sg5_0)" shape-rendering="crispEdges"/>
<rect x="575" y="608" width="32" height="68" fill="url(#sg5_1)" shape-rendering="crispEdges"/>
<rect x="607" y="608" width="32" height="68" fill="url(#sg5_2)" shape-rendering="crispEdges"/>
<rect x="639" y="608" width="32" height="68" fill="url(#sg5_3)" shape-rendering="crispEdges"/>
<rect x="671" y="608" width="32" height="68" fill="url(#sg5_4)" shape-rendering="crispEdges"/>
<rect x="703" y="608" width="32" height="68" fill="url(#sg5_5)" shape-rendering="crispEdges"/>
<rect x="735" y="608" width="32" height="68" fill="url(#sg5_6)" shape-rendering="crispEdges"/>
<rect x="767" y="608" width="32" height="68" fill="url(#sg5_7)" shape-rendering="crispEdges"/>
<rect x="799" y="608" width="32" height="68" fill="url(#sg5_8)" shape-rendering="crispEdges"/>
<rect x="831" y="608" width="32" height="68" fill="url(#sg5_9)" shape-rendering="crispEdges"/>
<rect x="863" y="608" width="32" height="68" fill="url(#sg5_10)" shape-rendering="crispEdges"/>
<rect x="895" y="608" width="32" height="68" fill="url(#sg5_11)" shape-rendering="crispEdges"/>
<rect x="927" y="608" width="32" height="68" fill="url(#sg5_12)" shape-rendering="crispEdges"/>
<rect x="959" y="608" width="4" height="68" fill="url(#sg5_13)" shape-rendering="crispEdges"/>
<rect x="543" y="608" width="420" height="68" fill="url(#fadevb)"/>
<path d="M549.6,697.4 L549.6,1011.2 L953.9,1011.2" fill="none" stroke="#000" stroke-width="3"/>
<path d="M549.6,725.8 h5.5 M549.6,782.7 h5.5 M549.6,839.6 h5.5 M549.6,896.4 h5.5 M549.6,954.2 h5.5 M628.6,1011.2 v-6.5 M707.3,1011.2 v-6.5 M786.3,1011.2 v-6.5 M865,1011.2 v-6.5 M943.4,1011.2 v-6.5 " fill="none" stroke="#000" stroke-width="2.6"/>
<path d="M549.5,1006.4 550,1005.9 550.5,1005.43 551,1005 551.5,1004.61 552,1004.25 552.5,1003.92 553,1003.63 553.5,1003.37 554,1003.15 554.5,1002.96 555,1002.81 555.5,1002.68 556,1002.59 556.5,1002.53 557,1002.5 557.5,1002.52 558,1002.63 558.5,1002.84 559,1003.12 559.5,1003.47 560,1003.88 560.5,1004.34 561,1004.84 561.5,1005.35 562,1005.89 562.5,1006.43 563,1006.96 563.5,1007.47 564,1007.95 564.5,1008.39 565,1008.78 565.5,1009.1 566,1009.36 566.5,1009.52 567,1009.6 567.5,1009.58 568,1009.48 568.5,1009.32 569,1009.1 569.5,1008.82 570,1008.49 570.5,1008.12 571,1007.71 571.5,1007.27 572,1006.8 572.5,1006.32 573,1005.82 573.5,1005.31 574,1004.79 574.5,1004.28 575,1003.78 575.5,1003.3 576,1002.83 576.5,1002.39 577,1001.98 577.5,1001.61 578,1001.28 578.5,1001 579,1000.78 579.5,1000.62 580,1000.52 580.5,1000.5 581,1000.57 581.5,1000.74 582,1001 582.5,1001.33 583,1001.73 583.5,1002.18 584,1002.69 584.5,1003.22 585,1003.79 585.5,1004.38 586,1004.97 586.5,1005.56 587,1006.14 587.5,1006.69 588,1007.22 588.5,1007.7 589,1008.14 589.5,1008.51 590,1008.81 590.5,1009.03 591,1009.17 591.5,1009.2 592,1009.16 592.5,1009.07 593,1008.94 593.5,1008.77 594,1008.56 594.5,1008.32 595,1008.06 595.5,1007.78 596,1007.48 596.5,1007.18 597,1006.87 597.5,1006.56 598,1006.26 598.5,1005.96 599,1005.68 599.5,1005.43 600,1005.19 600.5,1004.99 601,1004.83 601.5,1004.71 602,1004.63 602.5,1004.6 603,1004.61 603.5,1004.65 604,1004.72 604.5,1004.81 605,1004.92 605.5,1005.04 606,1005.19 606.5,1005.35 607,1005.52 607.5,1005.7 608,1005.9 608.5,1006.1 609,1006.3 609.5,1006.51 610,1006.72 610.5,1006.93 611,1007.14 611.5,1007.34 612,1007.53 612.5,1007.72 613,1007.9 613.5,1008.06 614,1008.22 614.5,1008.35 615,1008.47 615.5,1008.57 616,1008.65 616.5,1008.73 617,1008.8 617.5,1008.88 618,1008.96 618.5,1009.03 619,1009.11 619.5,1009.18 620,1009.25 620.5,1009.32 621,1009.39 621.5,1009.45 622,1009.52 622.5,1009.58 623,1009.63 623.5,1009.69 624,1009.74 624.5,1009.79 625,1009.83 625.5,1009.87 626,1009.9 626.5,1009.93 627,1009.95 627.5,1009.97 628,1009.99 628.5,1010 629,1010 629.5,1010 630,1009.99 630.5,1009.98 631,1009.96 631.5,1009.94 632,1009.92 632.5,1009.89 633,1009.85 633.5,1009.82 634,1009.77 634.5,1009.73 635,1009.68 635.5,1009.63 636,1009.57 636.5,1009.51 637,1009.45 637.5,1009.38 638,1009.31 638.5,1009.24 639,1009.17 639.5,1009.09 640,1009.01 640.5,1008.92 641,1008.84 641.5,1008.75 642,1008.66 642.5,1008.56 643,1008.39 643.5,1008.16 644,1007.85 644.5,1007.49 645,1007.08 645.5,1006.62 646,1006.11 646.5,1005.58 647,1005.02 647.5,1004.43 648,1003.83 648.5,1003.23 649,1002.62 649.5,1002.02 650,1001.42 650.5,1000.85 651,1000.3 651.5,999.78 652,999.3 652.5,998.86 653,998.47 653.5,998.14 654,997.87 654.5,997.67 655,997.54 655.5,997.5 656,997.58 656.5,997.81 657,998.16 657.5,998.63 658,999.2 658.5,999.85 659,1000.57 659.5,1001.34 660,1002.14 660.5,1002.95 661,1003.76 661.5,1004.56 662,1005.33 662.5,1006.05 663,1006.7 663.5,1007.27 664,1007.74 664.5,1008.09 665,1008.32 665.5,1008.4 666,1008.14 666.5,1007.4 667,1006.21 667.5,1004.61 668,1002.64 668.5,1000.34 669,997.74 669.5,994.89 670,991.83 670.5,988.6 671,985.22 671.5,981.75 672,978.22 672.5,974.68 673,971.15 673.5,967.68 674,964.3 674.5,961.07 675,958.01 675.5,955.16 676,952.56 676.5,950.26 677,948.29 677.5,946.69 678,945.5 678.5,944.76 679,944.5 679.5,944.84 680,945.84 680.5,947.42 681,949.51 681.5,952.07 682,955.03 682.5,958.32 683,961.88 683.5,965.64 684,969.55 684.5,973.55 685,977.56 685.5,981.52 686,985.39 686.5,989.08 687,992.53 687.5,995.7 688,998.5 688.5,1000.88 689,1002.78 689.5,1004.13 690,1004.87 690.5,1004.88 691,1003.56 691.5,1000.9 692,997.01 692.5,992.01 693,986.03 693.5,979.19 694,971.62 694.5,963.43 695,954.75 695.5,945.71 696,936.42 696.5,927 697,917.58 697.5,908.29 698,899.25 698.5,890.57 699,882.38 699.5,874.81 700,867.97 700.5,861.99 701,856.99 701.5,853.1 702,850.44 702.5,849.12 703,849.26 703.5,850.83 704,853.7 704.5,857.74 705,862.86 705.5,868.91 706,875.79 706.5,883.37 707,891.54 707.5,900.18 708,909.16 708.5,918.37 709,927.68 709.5,936.99 710,946.16 710.5,955.08 711,963.63 711.5,971.69 712,979.15 712.5,985.87 713,991.75 713.5,996.65 714,1000.48 714.5,1003.09 715,1004.38 715.5,1004.1 716,1001.74 716.5,997.42 717,991.3 717.5,983.57 718,974.4 718.5,963.96 719,952.44 719.5,940 720,926.82 720.5,913.08 721,898.96 721.5,884.63 722,870.26 722.5,856.03 723,842.12 723.5,828.69 724,815.94 724.5,804.03 725,793.14 725.5,783.44 726,775.11 726.5,768.32 727,763.26 727.5,760.09 728,759 728.5,760.22 729,763.73 729.5,769.34 730,776.83 730.5,786 731,796.64 731.5,808.54 732,821.49 732.5,835.3 733,849.74 733.5,864.63 734,879.73 734.5,894.86 735,909.81 735.5,924.36 736,938.31 736.5,951.45 737,963.58 737.5,974.48 738,983.96 738.5,991.81 739,997.81 739.5,1001.76 740,1003.45 740.5,1002.75 741,999.8 741.5,994.79 742,987.9 742.5,979.3 743,969.18 743.5,957.72 744,945.1 744.5,931.5 745,917.11 745.5,902.1 746,886.66 746.5,870.96 747,855.19 747.5,839.53 748,824.16 748.5,809.26 749,795.01 749.5,781.59 750,769.19 750.5,757.98 751,748.16 751.5,739.88 752,733.35 752.5,728.74 753,726.22 753.5,726.07 754,728.97 754.5,734.83 755,743.35 755.5,754.2 756,767.1 756.5,781.73 757,797.8 757.5,814.99 758,833 758.5,851.53 759,870.28 759.5,888.93 760,907.19 760.5,924.75 761,941.3 761.5,956.54 762,970.17 762.5,981.88 763,991.36 763.5,998.32 764,1002.44 764.5,1003.45 765,1001.83 765.5,998.05 766,992.3 766.5,984.76 767,975.63 767.5,965.09 768,953.34 768.5,940.57 769,926.96 769.5,912.71 770,898 770.5,883.02 771,867.97 771.5,853.03 772,838.4 772.5,824.26 773,810.8 773.5,798.22 774,786.7 774.5,776.43 775,767.6 775.5,760.4 776,755.03 776.5,751.66 777,750.5 777.5,752 778,756.32 778.5,763.19 779,772.31 779.5,783.41 780,796.22 780.5,810.45 781,825.83 781.5,842.07 782,858.9 782.5,876.03 783,893.19 783.5,910.1 784,926.48 784.5,942.05 785,956.54 785.5,969.65 786,981.12 786.5,990.66 787,998 787.5,1002.85 788,1004.94 788.5,1004.56 789,1002.85 789.5,999.94 790,995.93 790.5,990.92 791,985.01 791.5,978.32 792,970.94 792.5,962.97 793,954.52 793.5,945.69 794,936.58 794.5,927.3 795,917.94 795.5,908.62 796,899.43 796.5,890.47 797,881.86 797.5,873.69 798,866.06 798.5,859.07 799,852.84 799.5,847.46 800,843.04 800.5,839.67 801,837.47 801.5,836.53 802,836.93 802.5,838.64 803,841.55 803.5,845.55 804,850.56 804.5,856.45 805,863.14 805.5,870.52 806,878.49 806.5,886.95 807,895.79 807.5,904.92 808,914.24 808.5,923.63 809,933 809.5,942.26 810,951.28 810.5,959.99 811,968.26 811.5,976.01 812,983.12 812.5,989.51 813,995.06 813.5,999.67 814,1003.25 814.5,1005.69 815,1006.89 815.5,1006.87 816,1006.07 816.5,1004.63 817,1002.6 817.5,1000.06 818,997.07 818.5,993.72 819,990.05 819.5,986.15 820,982.09 820.5,977.93 821,973.74 821.5,969.59 822,965.55 822.5,961.69 823,958.09 823.5,954.8 824,951.9 824.5,949.45 825,947.54 825.5,946.22 826,945.56 826.5,945.58 827,946.03 827.5,946.87 828,948.06 828.5,949.57 829,951.39 829.5,953.47 830,955.79 830.5,958.32 831,961.04 831.5,963.91 832,966.91 832.5,970 833,973.16 833.5,976.36 834,979.58 834.5,982.77 835,985.93 835.5,989 836,991.98 836.5,994.82 837,997.5 837.5,999.99 838,1002.27 838.5,1004.3 839,1006.06 839.5,1007.51 840,1008.63 840.5,1009.39 841,1009.77 841.5,1009.76 842,1009.5 842.5,1009.04 843,1008.41 843.5,1007.63 844,1006.74 844.5,1005.75 845,1004.7 845.5,1003.62 846,1002.53 846.5,1001.46 847,1000.45 847.5,999.51 848,998.68 848.5,997.99 849,997.46 849.5,997.12 850,997 850.5,997.04 851,997.17 851.5,997.38 852,997.65 852.5,998 853,998.4 853.5,998.86 854,999.36 854.5,999.91 855,1000.49 855.5,1001.1 856,1001.73 856.5,1002.38 857,1003.05 857.5,1003.72 858,1004.39 858.5,1005.05 859,1005.7 859.5,1006.33 860,1006.93 860.5,1007.51 861,1008.04 861.5,1008.54 862,1008.98 862.5,1009.38 863,1009.71 863.5,1009.97 864,1010.16 864.5,1010.27 865,1010.3 865.5,1010.3 866,1010.3 866.5,1010.3 867,1010.3 867.5,1010.3 868,1010.3 868.5,1010.3 869,1010.3 869.5,1010.3 870,1010.3 870.5,1010.3 871,1010.3 871.5,1010.3 872,1010.3 872.5,1010.3 873,1010.3 873.5,1010.3 874,1010.3 874.5,1010.3 875,1010.3 875.5,1010.3 876,1010.3 876.5,1010.3 877,1010.3 877.5,1010.3 878,1010.3 878.5,1010.3 879,1010.3 879.5,1010.3 880,1010.3 880.5,1010.3 881,1010.3 881.5,1010.3 882,1010.3 882.5,1010.3 883,1010.3 883.5,1010.29 884,1010.28 884.5,1010.27 885,1010.25 885.5,1010.23 886,1010.21 886.5,1010.18 887,1010.15 887.5,1010.12 888,1010.08 888.5,1010.04 889,1010 889.5,1009.96 890,1009.91 890.5,1009.86 891,1009.81 891.5,1009.76 892,1009.7 892.5,1009.64 893,1009.59 893.5,1009.52 894,1009.45 894.5,1009.34 895,1009.19 895.5,1008.99 896,1008.77 896.5,1008.52 897,1008.24 897.5,1007.95 898,1007.64 898.5,1007.33 899,1007.01 899.5,1006.69 900,1006.38 900.5,1006.07 901,1005.79 901.5,1005.52 902,1005.28 902.5,1005.07 903,1004.89 903.5,1004.75 904,1004.65 904.5,1004.6 905,1004.61 905.5,1004.68 906,1004.8 906.5,1004.98 907,1005.2 907.5,1005.46 908,1005.75 908.5,1006.07 909,1006.4 909.5,1006.76 910,1007.12 910.5,1007.48 911,1007.84 911.5,1008.2 912,1008.53 912.5,1008.85 913,1009.14 913.5,1009.4 914,1009.62 914.5,1009.8 915,1009.92 915.5,1009.99 916,1009.99 916.5,1009.92 917,1009.76 917.5,1009.54 918,1009.25 918.5,1008.9 919,1008.5 919.5,1008.05 920,1007.56 920.5,1007.04 921,1006.49 921.5,1005.92 922,1005.33 922.5,1004.74 923,1004.14 923.5,1003.55 924,1002.96 924.5,1002.4 925,1001.85 925.5,1001.34 926,1000.86 926.5,1000.42 927,1000.02 927.5,999.69 928,999.41 928.5,999.2 929,999.06 929.5,999 930,999.03 930.5,999.17 931,999.4 931.5,999.72 932,1000.11 932.5,1000.56 933,1001.07 933.5,1001.63 934,1002.22 934.5,1002.85 935,1003.48 935.5,1004.13 936,1004.77 936.5,1005.41 937,1006.02 937.5,1006.6 938,1007.14 938.5,1007.63 939,1008.06 939.5,1008.42 940,1008.7 940.5,1008.9 941,1008.99 941.5,1009 942,1008.98 942.5,1008.95 943,1008.9 943.5,1008.83 944,1008.74 944.5,1008.63 945,1008.5 945.5,1008.35 946,1008.17 946.5,1007.97 947,1007.74 947.5,1007.49 948,1007.21 948.5,1006.9 949,1006.56 949.5,1006.19 950,1005.79 950.5,1005.35 951,1004.88 951.5,1004.38 952,1003.84 952.3,1003.5" fill="none" stroke="#ff0000" stroke-width="3" stroke-linejoin="round"/>
<rect x="1018" y="607" width="32" height="68" fill="url(#sg6_0)" shape-rendering="crispEdges"/>
<rect x="1050" y="607" width="32" height="68" fill="url(#sg6_1)" shape-rendering="crispEdges"/>
<rect x="1082" y="607" width="32" height="68" fill="url(#sg6_2)" shape-rendering="crispEdges"/>
<rect x="1114" y="607" width="32" height="68" fill="url(#sg6_3)" shape-rendering="crispEdges"/>
<rect x="1146" y="607" width="32" height="68" fill="url(#sg6_4)" shape-rendering="crispEdges"/>
<rect x="1178" y="607" width="32" height="68" fill="url(#sg6_5)" shape-rendering="crispEdges"/>
<rect x="1210" y="607" width="32" height="68" fill="url(#sg6_6)" shape-rendering="crispEdges"/>
<rect x="1242" y="607" width="32" height="68" fill="url(#sg6_7)" shape-rendering="crispEdges"/>
<rect x="1274" y="607" width="32" height="68" fill="url(#sg6_8)" shape-rendering="crispEdges"/>
<rect x="1306" y="607" width="32" height="68" fill="url(#sg6_9)" shape-rendering="crispEdges"/>
<rect x="1338" y="607" width="32" height="68" fill="url(#sg6_10)" shape-rendering="crispEdges"/>
<rect x="1370" y="607" width="32" height="68" fill="url(#sg6_11)" shape-rendering="crispEdges"/>
<rect x="1402" y="607" width="32" height="68" fill="url(#sg6_12)" shape-rendering="crispEdges"/>
<rect x="1434" y="607" width="2" height="68" fill="url(#sg6_13)" shape-rendering="crispEdges"/>
<rect x="1018" y="607" width="418" height="68" fill="url(#fadev)"/>
<path d="M1018.7,702 L1018.7,1016.2 L1424.2,1016.2" fill="none" stroke="#000" stroke-width="3"/>
<path d="M1018.7,730.4 h5.5 M1018.7,787.3 h5.5 M1018.7,844.2 h5.5 M1018.7,901 h5.5 M1018.7,959.2 h5.5 M1097.3,1016.2 v-6.5 M1176.6,1016.2 v-6.5 M1255.9,1016.2 v-6.5 M1334.8,1016.2 v-6.5 M1414.5,1016.2 v-6.5 " fill="none" stroke="#000" stroke-width="2.6"/>
<path d="M1018.8,1015 1019.3,1015 1019.8,1014.99 1020.3,1014.97 1020.8,1014.95 1021.3,1014.92 1021.8,1014.89 1022.3,1014.86 1022.8,1014.82 1023.3,1014.78 1023.8,1014.73 1024.3,1014.68 1024.8,1014.63 1025.3,1014.58 1025.8,1014.52 1026.3,1014.46 1026.8,1014.36 1027.3,1014.24 1027.8,1014.08 1028.3,1013.9 1028.8,1013.69 1029.3,1013.47 1029.8,1013.23 1030.3,1012.98 1030.8,1012.73 1031.3,1012.47 1031.8,1012.22 1032.3,1011.97 1032.8,1011.72 1033.3,1011.49 1033.8,1011.27 1034.3,1011.08 1034.8,1010.9 1035.3,1010.75 1035.8,1010.64 1036.3,1010.55 1036.8,1010.51 1037.3,1010.5 1037.8,1010.54 1038.3,1010.61 1038.8,1010.72 1039.3,1010.86 1039.8,1011.02 1040.3,1011.2 1040.8,1011.41 1041.3,1011.62 1041.8,1011.85 1042.3,1012.08 1042.8,1012.32 1043.3,1012.56 1043.8,1012.79 1044.3,1013.01 1044.8,1013.22 1045.3,1013.41 1045.8,1013.58 1046.3,1013.73 1046.8,1013.85 1047.3,1013.93 1047.8,1013.99 1048.3,1014 1048.8,1013.96 1049.3,1013.88 1049.8,1013.76 1050.3,1013.6 1050.8,1013.41 1051.3,1013.18 1051.8,1012.94 1052.3,1012.67 1052.8,1012.38 1053.3,1012.08 1053.8,1011.78 1054.3,1011.47 1054.8,1011.16 1055.3,1010.86 1055.8,1010.56 1056.3,1010.28 1056.8,1010.01 1057.3,1009.77 1057.8,1009.55 1058.3,1009.36 1058.8,1009.21 1059.3,1009.1 1059.8,1009.02 1060.3,1009 1060.8,1009.06 1061.3,1009.23 1061.8,1009.5 1062.3,1009.84 1062.8,1010.24 1063.3,1010.69 1063.8,1011.16 1064.3,1011.65 1064.8,1012.13 1065.3,1012.59 1065.8,1013.01 1066.3,1013.38 1066.8,1013.67 1067.3,1013.88 1067.8,1013.99 1068.3,1014 1068.8,1013.98 1069.3,1013.95 1069.8,1013.9 1070.3,1013.84 1070.8,1013.77 1071.3,1013.69 1071.8,1013.6 1072.3,1013.51 1072.8,1013.41 1073.3,1013.3 1073.8,1013.19 1074.3,1013.08 1074.8,1012.97 1075.3,1012.85 1075.8,1012.74 1076.3,1012.64 1076.8,1012.53 1077.3,1012.43 1077.8,1012.34 1078.3,1012.26 1078.8,1012.19 1079.3,1012.12 1079.8,1012.07 1080.3,1012.03 1080.8,1012.01 1081.3,1012 1081.8,1012.01 1082.3,1012.05 1082.8,1012.11 1083.3,1012.2 1083.8,1012.3 1084.3,1012.42 1084.8,1012.55 1085.3,1012.69 1085.8,1012.84 1086.3,1013 1086.8,1013.16 1087.3,1013.32 1087.8,1013.48 1088.3,1013.64 1088.8,1013.79 1089.3,1013.93 1089.8,1014.07 1090.3,1014.19 1090.8,1014.29 1091.3,1014.38 1091.8,1014.45 1092.3,1014.49 1092.8,1014.52 1093.3,1014.55 1093.8,1014.58 1094.3,1014.6 1094.8,1014.63 1095.3,1014.65 1095.8,1014.68 1096.3,1014.7 1096.8,1014.72 1097.3,1014.74 1097.8,1014.76 1098.3,1014.78 1098.8,1014.8 1099.3,1014.82 1099.8,1014.84 1100.3,1014.85 1100.8,1014.87 1101.3,1014.89 1101.8,1014.9 1102.3,1014.91 1102.8,1014.93 1103.3,1014.94 1103.8,1014.95 1104.3,1014.96 1104.8,1014.97 1105.3,1014.97 1105.8,1014.98 1106.3,1014.99 1106.8,1014.99 1107.3,1014.99 1107.8,1015 1108.3,1015 1108.8,1015 1109.3,1014.99 1109.8,1014.97 1110.3,1014.93 1110.8,1014.87 1111.3,1014.8 1111.8,1014.71 1112.3,1014.61 1112.8,1014.5 1113.3,1014.37 1113.8,1014.23 1114.3,1014.09 1114.8,1013.93 1115.3,1013.77 1115.8,1013.6 1116.3,1013.42 1116.8,1013.24 1117.3,1013.05 1117.8,1012.86 1118.3,1012.67 1118.8,1012.47 1119.3,1012.27 1119.8,1012.08 1120.3,1011.87 1120.8,1011.62 1121.3,1011.32 1121.8,1010.97 1122.3,1010.59 1122.8,1010.17 1123.3,1009.73 1123.8,1009.27 1124.3,1008.79 1124.8,1008.3 1125.3,1007.8 1125.8,1007.3 1126.3,1006.81 1126.8,1006.33 1127.3,1005.86 1127.8,1005.41 1128.3,1004.99 1128.8,1004.6 1129.3,1004.25 1129.8,1003.94 1130.3,1003.68 1130.8,1003.47 1131.3,1003.31 1131.8,1003.22 1132.3,1003.2 1132.8,1003.26 1133.3,1003.4 1133.8,1003.6 1134.3,1003.86 1134.8,1004.15 1135.3,1004.48 1135.8,1004.82 1136.3,1005.18 1136.8,1005.52 1137.3,1005.85 1137.8,1006.14 1138.3,1006.4 1138.8,1006.6 1139.3,1006.74 1139.8,1006.8 1140.3,1006.67 1140.8,1006.18 1141.3,1005.33 1141.8,1004.15 1142.3,1002.68 1142.8,1000.94 1143.3,998.97 1143.8,996.77 1144.3,994.39 1144.8,991.86 1145.3,989.19 1145.8,986.42 1146.3,983.58 1146.8,980.69 1147.3,977.78 1147.8,974.87 1148.3,972.01 1148.8,969.21 1149.3,966.5 1149.8,963.9 1150.3,961.46 1150.8,959.19 1151.3,957.12 1151.8,955.28 1152.3,953.7 1152.8,952.41 1153.3,951.42 1153.8,950.78 1154.3,950.51 1154.8,950.71 1155.3,951.5 1155.8,952.84 1156.3,954.64 1156.8,956.83 1157.3,959.35 1157.8,962.12 1158.3,965.07 1158.8,968.14 1159.3,971.24 1159.8,974.32 1160.3,977.31 1160.8,980.12 1161.3,982.69 1161.8,984.95 1162.3,986.84 1162.8,988.27 1163.3,989.18 1163.8,989.5 1164.3,988.92 1164.8,987.23 1165.3,984.53 1165.8,980.91 1166.3,976.47 1166.8,971.31 1167.3,965.51 1167.8,959.17 1168.3,952.39 1168.8,945.26 1169.3,937.87 1169.8,930.33 1170.3,922.71 1170.8,915.13 1171.3,907.67 1171.8,900.43 1172.3,893.49 1172.8,886.97 1173.3,880.94 1173.8,875.51 1174.3,870.77 1174.8,866.82 1175.3,863.74 1175.8,861.63 1176.3,860.59 1176.8,860.76 1177.3,862.27 1177.8,865.02 1178.3,868.87 1178.8,873.68 1179.3,879.32 1179.8,885.66 1180.3,892.56 1180.8,899.87 1181.3,907.47 1181.8,915.22 1182.3,922.99 1182.8,930.63 1183.3,938.01 1183.8,945 1184.3,951.46 1184.8,957.25 1185.3,962.24 1185.8,966.3 1186.3,969.28 1186.8,971.05 1187.3,971.46 1187.8,969.97 1188.3,966.5 1188.8,961.25 1189.3,954.4 1189.8,946.13 1190.3,936.65 1190.8,926.12 1191.3,914.75 1191.8,902.72 1192.3,890.22 1192.8,877.44 1193.3,864.56 1193.8,851.78 1194.3,839.28 1194.8,827.25 1195.3,815.88 1195.8,805.35 1196.3,795.87 1196.8,787.6 1197.3,780.75 1197.8,775.5 1198.3,772.03 1198.8,770.54 1199.3,771.14 1199.8,773.66 1200.3,777.91 1200.8,783.73 1201.3,790.93 1201.8,799.35 1202.3,808.8 1202.8,819.11 1203.3,830.11 1203.8,841.61 1204.3,853.45 1204.8,865.45 1205.3,877.43 1205.8,889.22 1206.3,900.64 1206.8,911.51 1207.3,921.67 1207.8,930.92 1208.3,939.11 1208.8,946.05 1209.3,951.57 1209.8,955.49 1210.3,957.64 1210.8,957.78 1211.3,955.39 1211.8,950.57 1212.3,943.56 1212.8,934.63 1213.3,924.02 1213.8,911.98 1214.3,898.76 1214.8,884.61 1215.3,869.79 1215.8,854.54 1216.3,839.12 1216.8,823.77 1217.3,808.75 1217.8,794.3 1218.3,780.68 1218.8,768.14 1219.3,756.93 1219.8,747.29 1220.3,739.49 1220.8,733.76 1221.3,730.37 1221.8,729.55 1222.3,731.23 1222.8,735.14 1223.3,741.07 1223.8,748.81 1224.3,758.15 1224.8,768.86 1225.3,780.75 1225.8,793.59 1226.3,807.18 1226.8,821.29 1227.3,835.73 1227.8,850.27 1228.3,864.71 1228.8,878.82 1229.3,892.41 1229.8,905.25 1230.3,917.14 1230.8,927.85 1231.3,937.19 1231.8,944.93 1232.3,950.86 1232.8,954.77 1233.3,956.45 1233.8,955.75 1234.3,952.84 1234.8,947.92 1235.3,941.21 1235.8,932.95 1236.3,923.33 1236.8,912.58 1237.3,900.92 1237.8,888.56 1238.3,875.73 1238.8,862.63 1239.3,849.49 1239.8,836.53 1240.3,823.95 1240.8,811.98 1241.3,800.85 1241.8,790.75 1242.3,781.92 1242.8,774.56 1243.3,768.9 1243.8,765.16 1244.3,763.55 1244.8,764.11 1245.3,766.52 1245.8,770.6 1246.3,776.2 1246.8,783.17 1247.3,791.35 1247.8,800.58 1248.3,810.72 1248.8,821.6 1249.3,833.07 1249.8,844.97 1250.3,857.16 1250.8,869.46 1251.3,881.74 1251.8,893.83 1252.3,905.58 1252.8,916.83 1253.3,927.43 1253.8,937.23 1254.3,946.06 1254.8,953.77 1255.3,960.21 1255.8,965.22 1256.3,968.65 1256.8,970.35 1257.3,970.24 1257.8,968.71 1258.3,965.91 1258.8,961.99 1259.3,957.07 1259.8,951.29 1260.3,944.77 1260.8,937.67 1261.3,930.09 1261.8,922.19 1262.3,914.09 1262.8,905.91 1263.3,897.81 1263.8,889.91 1264.3,882.33 1264.8,875.23 1265.3,868.71 1265.8,862.93 1266.3,858.01 1266.8,854.09 1267.3,851.29 1267.8,849.76 1268.3,849.61 1268.8,850.77 1269.3,853.12 1269.8,856.56 1270.3,860.98 1270.8,866.27 1271.3,872.33 1271.8,879.04 1272.3,886.3 1272.8,893.99 1273.3,902.03 1273.8,910.28 1274.3,918.66 1274.8,927.05 1275.3,935.34 1275.8,943.42 1276.3,951.2 1276.8,958.55 1277.3,965.38 1277.8,971.57 1278.3,977.02 1278.8,981.63 1279.3,985.27 1279.8,987.85 1280.3,989.26 1280.8,989.44 1281.3,988.78 1281.8,987.45 1282.3,985.54 1282.8,983.12 1283.3,980.26 1283.8,977.05 1284.3,973.57 1284.8,969.88 1285.3,966.06 1285.8,962.21 1286.3,958.38 1286.8,954.66 1287.3,951.12 1287.8,947.85 1288.3,944.92 1288.8,942.41 1289.3,940.38 1289.8,938.94 1290.3,938.14 1290.8,938.05 1291.3,938.58 1291.8,939.66 1292.3,941.23 1292.8,943.26 1293.3,945.68 1293.8,948.46 1294.3,951.54 1294.8,954.88 1295.3,958.43 1295.8,962.13 1296.3,965.95 1296.8,969.83 1297.3,973.73 1297.8,977.59 1298.3,981.37 1298.8,985.01 1299.3,988.48 1299.8,991.72 1300.3,994.69 1300.8,997.33 1301.3,999.61 1301.8,1001.46 1302.3,1002.84 1302.8,1003.7 1303.3,1004 1303.8,1003.9 1304.3,1003.63 1304.8,1003.2 1305.3,1002.64 1305.8,1001.98 1306.3,1001.23 1306.8,1000.43 1307.3,999.59 1307.8,998.74 1308.3,997.91 1308.8,997.12 1309.3,996.38 1309.8,995.74 1310.3,995.2 1310.8,994.8 1311.3,994.56 1311.8,994.5 1312.3,994.61 1312.8,994.87 1313.3,995.27 1313.8,995.78 1314.3,996.4 1314.8,997.1 1315.3,997.89 1315.8,998.73 1316.3,999.63 1316.8,1000.55 1317.3,1001.5 1317.8,1002.45 1318.3,1003.39 1318.8,1004.3 1319.3,1005.18 1319.8,1006.01 1320.3,1006.76 1320.8,1007.44 1321.3,1008.02 1321.8,1008.49 1322.3,1008.92 1322.8,1009.36 1323.3,1009.79 1323.8,1010.21 1324.3,1010.63 1324.8,1011.04 1325.3,1011.43 1325.8,1011.8 1326.3,1012.16 1326.8,1012.49 1327.3,1012.8 1327.8,1013.08 1328.3,1013.33 1328.8,1013.55 1329.3,1013.73 1329.8,1013.87 1330.3,1013.97 1330.8,1014.04 1331.3,1014.09 1331.8,1014.15 1332.3,1014.2 1332.8,1014.26 1333.3,1014.31 1333.8,1014.36 1334.3,1014.4 1334.8,1014.45 1335.3,1014.49 1335.8,1014.54 1336.3,1014.58 1336.8,1014.61 1337.3,1014.65 1337.8,1014.69 1338.3,1014.72 1338.8,1014.75 1339.3,1014.78 1339.8,1014.81 1340.3,1014.83 1340.8,1014.86 1341.3,1014.88 1341.8,1014.9 1342.3,1014.92 1342.8,1014.93 1343.3,1014.95 1343.8,1014.96 1344.3,1014.97 1344.8,1014.98 1345.3,1014.99 1345.8,1014.99 1346.3,1015 1346.8,1015 1347.3,1015 1347.8,1014.98 1348.3,1014.96 1348.8,1014.91 1349.3,1014.86 1349.8,1014.79 1350.3,1014.71 1350.8,1014.62 1351.3,1014.52 1351.8,1014.41 1352.3,1014.3 1352.8,1014.18 1353.3,1014.06 1353.8,1013.93 1354.3,1013.8 1354.8,1013.66 1355.3,1013.53 1355.8,1013.39 1356.3,1013.26 1356.8,1013.12 1357.3,1012.99 1357.8,1012.87 1358.3,1012.75 1358.8,1012.63 1359.3,1012.52 1359.8,1012.42 1360.3,1012.33 1360.8,1012.24 1361.3,1012.17 1361.8,1012.11 1362.3,1012.06 1362.8,1012.03 1363.3,1012.01 1363.8,1012 1364.3,1012.02 1364.8,1012.07 1365.3,1012.14 1365.8,1012.24 1366.3,1012.35 1366.8,1012.48 1367.3,1012.63 1367.8,1012.78 1368.3,1012.95 1368.8,1013.11 1369.3,1013.28 1369.8,1013.45 1370.3,1013.62 1370.8,1013.78 1371.3,1013.93 1371.8,1014.07 1372.3,1014.19 1372.8,1014.3 1373.3,1014.39 1373.8,1014.45 1374.3,1014.49 1374.8,1014.5 1375.3,1014.47 1375.8,1014.4 1376.3,1014.29 1376.8,1014.15 1377.3,1013.97 1377.8,1013.78 1378.3,1013.56 1378.8,1013.32 1379.3,1013.06 1379.8,1012.8 1380.3,1012.53 1380.8,1012.25 1381.3,1011.97 1381.8,1011.7 1382.3,1011.44 1382.8,1011.18 1383.3,1010.94 1383.8,1010.72 1384.3,1010.53 1384.8,1010.35 1385.3,1010.21 1385.8,1010.1 1386.3,1010.03 1386.8,1010 1387.3,1010.02 1387.8,1010.09 1388.3,1010.22 1388.8,1010.39 1389.3,1010.59 1389.8,1010.83 1390.3,1011.09 1390.8,1011.37 1391.3,1011.67 1391.8,1011.97 1392.3,1012.27 1392.8,1012.57 1393.3,1012.85 1393.8,1013.12 1394.3,1013.36 1394.8,1013.58 1395.3,1013.75 1395.8,1013.89 1396.3,1013.97 1396.8,1014 1397.3,1013.99 1397.8,1013.95 1398.3,1013.89 1398.8,1013.82 1399.3,1013.72 1399.8,1013.61 1400.3,1013.49 1400.8,1013.35 1401.3,1013.2 1401.8,1013.05 1402.3,1012.89 1402.8,1012.72 1403.3,1012.55 1403.8,1012.38 1404.3,1012.21 1404.8,1012.05 1405.3,1011.89 1405.8,1011.74 1406.3,1011.59 1406.8,1011.46 1407.3,1011.34 1407.8,1011.24 1408.3,1011.15 1408.8,1011.08 1409.3,1011.03 1409.8,1011 1410.3,1011 1410.8,1011.05 1411.3,1011.14 1411.8,1011.27 1412.3,1011.43 1412.8,1011.62 1413.3,1011.84 1413.8,1012.08 1414.3,1012.33 1414.8,1012.59 1415.3,1012.86 1415.8,1013.13 1416.3,1013.39 1416.8,1013.65 1417.3,1013.89 1417.8,1014.11 1418.3,1014.3 1418.8,1014.47 1419.3,1014.61 1419.8,1014.75 1420.3,1014.89 1420.8,1015.01 1421.3,1015.14 1421.8,1015.26 1422.3,1015.37 1422.8,1015.48 1423.3,1015.58 1423.8,1015.68 1424.3,1015.77 1424.5,1015.8" fill="none" stroke="#ff0000" stroke-width="3" stroke-linejoin="round"/>
<rect x="1467" y="606" width="32" height="67" fill="url(#sg7_0)" shape-rendering="crispEdges"/>
<rect x="1499" y="606" width="32" height="67" fill="url(#sg7_1)" shape-rendering="crispEdges"/>
<rect x="1531" y="606" width="32" height="67" fill="url(#sg7_2)" shape-rendering="crispEdges"/>
<rect x="1563" y="606" width="32" height="67" fill="url(#sg7_3)" shape-rendering="crispEdges"/>
<rect x="1595" y="606" width="32" height="67" fill="url(#sg7_4)" shape-rendering="crispEdges"/>
<rect x="1627" y="606" width="32" height="67" fill="url(#sg7_5)" shape-rendering="crispEdges"/>
<rect x="1659" y="606" width="32" height="67" fill="url(#sg7_6)" shape-rendering="crispEdges"/>
<rect x="1691" y="606" width="32" height="67" fill="url(#sg7_7)" shape-rendering="crispEdges"/>
<rect x="1723" y="606" width="32" height="67" fill="url(#sg7_8)" shape-rendering="crispEdges"/>
<rect x="1755" y="606" width="32" height="67" fill="url(#sg7_9)" shape-rendering="crispEdges"/>
<rect x="1787" y="606" width="32" height="67" fill="url(#sg7_10)" shape-rendering="crispEdges"/>
<rect x="1819" y="606" width="32" height="67" fill="url(#sg7_11)" shape-rendering="crispEdges"/>
<rect x="1851" y="606" width="32" height="67" fill="url(#sg7_12)" shape-rendering="crispEdges"/>
<rect x="1883" y="606" width="2" height="67" fill="url(#sg7_13)" shape-rendering="crispEdges"/>
<rect x="1467" y="606" width="418" height="67" fill="url(#fadev)"/>
<path d="M1486,704.2 L1486,1017.4 L1891,1017.4" fill="none" stroke="#000" stroke-width="3"/>
<path d="M1486,732.7 h5.5 M1486,789.5 h5.5 M1486,846.4 h5.5 M1486,903.3 h5.5 M1486,961.1 h5.5 M1565.1,1017.4 v-6.5 M1644.4,1017.4 v-6.5 M1723.4,1017.4 v-6.5 M1802.3,1017.4 v-6.5 M1881.2,1017.4 v-6.5 " fill="none" stroke="#000" stroke-width="2.6"/>
<path d="M1486.1,1016 1486.6,1016 1487.1,1015.99 1487.6,1015.98 1488.1,1015.97 1488.6,1015.96 1489.1,1015.94 1489.6,1015.92 1490.1,1015.9 1490.6,1015.87 1491.1,1015.84 1491.6,1015.81 1492.1,1015.78 1492.6,1015.74 1493.1,1015.71 1493.6,1015.67 1494.1,1015.62 1494.6,1015.58 1495.1,1015.54 1495.6,1015.49 1496.1,1015.41 1496.6,1015.28 1497.1,1015.1 1497.6,1014.89 1498.1,1014.65 1498.6,1014.38 1499.1,1014.09 1499.6,1013.78 1500.1,1013.46 1500.6,1013.14 1501.1,1012.81 1501.6,1012.48 1502.1,1012.16 1502.6,1011.86 1503.1,1011.57 1503.6,1011.31 1504.1,1011.07 1504.6,1010.87 1505.1,1010.71 1505.6,1010.59 1506.1,1010.52 1506.6,1010.5 1507.1,1010.55 1507.6,1010.65 1508.1,1010.81 1508.6,1011.01 1509.1,1011.25 1509.6,1011.53 1510.1,1011.83 1510.6,1012.15 1511.1,1012.48 1511.6,1012.82 1512.1,1013.15 1512.6,1013.48 1513.1,1013.79 1513.6,1014.08 1514.1,1014.35 1514.6,1014.57 1515.1,1014.76 1515.6,1014.9 1516.1,1014.98 1516.6,1015 1517.1,1014.95 1517.6,1014.84 1518.1,1014.67 1518.6,1014.44 1519.1,1014.17 1519.6,1013.86 1520.1,1013.51 1520.6,1013.13 1521.1,1012.73 1521.6,1012.32 1522.1,1011.89 1522.6,1011.46 1523.1,1011.02 1523.6,1010.6 1524.1,1010.18 1524.6,1009.79 1525.1,1009.42 1525.6,1009.08 1526.1,1008.77 1526.6,1008.51 1527.1,1008.3 1527.6,1008.14 1528.1,1008.03 1528.6,1008 1529.1,1008.04 1529.6,1008.16 1530.1,1008.35 1530.6,1008.6 1531.1,1008.91 1531.6,1009.27 1532.1,1009.68 1532.6,1010.12 1533.1,1010.59 1533.6,1011.08 1534.1,1011.58 1534.6,1012.1 1535.1,1012.61 1535.6,1013.12 1536.1,1013.62 1536.6,1014.1 1537.1,1014.55 1537.6,1014.97 1538.1,1015.35 1538.6,1015.68 1539.1,1015.96 1539.6,1016.17 1540.1,1016.32 1540.6,1016.39 1541.1,1016.39 1541.6,1016.33 1542.1,1016.23 1542.6,1016.09 1543.1,1015.9 1543.6,1015.69 1544.1,1015.45 1544.6,1015.19 1545.1,1014.91 1545.6,1014.62 1546.1,1014.32 1546.6,1014.02 1547.1,1013.72 1547.6,1013.43 1548.1,1013.16 1548.6,1012.9 1549.1,1012.67 1549.6,1012.46 1550.1,1012.28 1550.6,1012.15 1551.1,1012.05 1551.6,1012 1552.1,1012.01 1552.6,1012.04 1553.1,1012.09 1553.6,1012.18 1554.1,1012.28 1554.6,1012.4 1555.1,1012.54 1555.6,1012.7 1556.1,1012.86 1556.6,1013.04 1557.1,1013.23 1557.6,1013.42 1558.1,1013.62 1558.6,1013.82 1559.1,1014.02 1559.6,1014.22 1560.1,1014.41 1560.6,1014.6 1561.1,1014.77 1561.6,1014.94 1562.1,1015.09 1562.6,1015.22 1563.1,1015.34 1563.6,1015.44 1564.1,1015.51 1564.6,1015.58 1565.1,1015.65 1565.6,1015.72 1566.1,1015.78 1566.6,1015.85 1567.1,1015.91 1567.6,1015.97 1568.1,1016.03 1568.6,1016.08 1569.1,1016.13 1569.6,1016.18 1570.1,1016.23 1570.6,1016.27 1571.1,1016.3 1571.6,1016.33 1572.1,1016.36 1572.6,1016.38 1573.1,1016.39 1573.6,1016.4 1574.1,1016.4 1574.6,1016.39 1575.1,1016.37 1575.6,1016.33 1576.1,1016.29 1576.6,1016.24 1577.1,1016.17 1577.6,1016.1 1578.1,1016.02 1578.6,1015.93 1579.1,1015.84 1579.6,1015.73 1580.1,1015.62 1580.6,1015.51 1581.1,1015.39 1581.6,1015.26 1582.1,1015.13 1582.6,1015 1583.1,1014.86 1583.6,1014.72 1584.1,1014.58 1584.6,1014.44 1585.1,1014.29 1585.6,1014.15 1586.1,1014 1586.6,1013.84 1587.1,1013.67 1587.6,1013.48 1588.1,1013.27 1588.6,1013.04 1589.1,1012.79 1589.6,1012.52 1590.1,1012.24 1590.6,1011.94 1591.1,1011.55 1591.6,1011.06 1592.1,1010.48 1592.6,1009.84 1593.1,1009.15 1593.6,1008.42 1594.1,1007.68 1594.6,1006.94 1595.1,1006.21 1595.6,1005.52 1596.1,1004.87 1596.6,1004.3 1597.1,1003.81 1597.6,1003.42 1598.1,1003.15 1598.6,1003.01 1599.1,1003.01 1599.6,1003.08 1600.1,1003.21 1600.6,1003.38 1601.1,1003.6 1601.6,1003.85 1602.1,1004.13 1602.6,1004.43 1603.1,1004.75 1603.6,1005.06 1604.1,1005.38 1604.6,1005.69 1605.1,1005.98 1605.6,1006.25 1606.1,1006.49 1606.6,1006.69 1607.1,1006.85 1607.6,1006.95 1608.1,1007 1608.6,1006.87 1609.1,1006.36 1609.6,1005.48 1610.1,1004.27 1610.6,1002.76 1611.1,1000.98 1611.6,998.95 1612.1,996.7 1612.6,994.28 1613.1,991.69 1613.6,988.98 1614.1,986.17 1614.6,983.29 1615.1,980.38 1615.6,977.45 1616.1,974.55 1616.6,971.7 1617.1,968.92 1617.6,966.26 1618.1,963.73 1618.6,961.37 1619.1,959.21 1619.6,957.28 1620.1,955.6 1620.6,954.21 1621.1,953.13 1621.6,952.39 1622.1,952.03 1622.6,952.09 1623.1,952.63 1623.6,953.59 1624.1,954.94 1624.6,956.62 1625.1,958.56 1625.6,960.73 1626.1,963.06 1626.6,965.5 1627.1,968 1627.6,970.51 1628.1,972.96 1628.6,975.32 1629.1,977.52 1629.6,979.52 1630.1,981.25 1630.6,982.66 1631.1,983.71 1631.6,984.34 1632.1,984.48 1632.6,983.81 1633.1,982.25 1633.6,979.87 1634.1,976.74 1634.6,972.93 1635.1,968.53 1635.6,963.6 1636.1,958.23 1636.6,952.47 1637.1,946.41 1637.6,940.12 1638.1,933.68 1638.6,927.15 1639.1,920.62 1639.6,914.16 1640.1,907.83 1640.6,901.72 1641.1,895.9 1641.6,890.44 1642.1,885.41 1642.6,880.9 1643.1,876.97 1643.6,873.7 1644.1,871.16 1644.6,869.43 1645.1,868.58 1645.6,868.76 1646.1,870.28 1646.6,873.02 1647.1,876.83 1647.6,881.55 1648.1,887.03 1648.6,893.12 1649.1,899.65 1649.6,906.48 1650.1,913.45 1650.6,920.4 1651.1,927.18 1651.6,933.64 1652.1,939.62 1652.6,944.96 1653.1,949.51 1653.6,953.12 1654.1,955.63 1654.6,956.88 1655.1,956.72 1655.6,955.09 1656.1,952.09 1656.6,947.86 1657.1,942.51 1657.6,936.16 1658.1,928.95 1658.6,920.99 1659.1,912.4 1659.6,903.31 1660.1,893.83 1660.6,884.1 1661.1,874.24 1661.6,864.36 1662.1,854.6 1662.6,845.06 1663.1,835.88 1663.6,827.19 1664.1,819.09 1664.6,811.71 1665.1,805.18 1665.6,799.63 1666.1,795.16 1666.6,791.9 1667.1,789.99 1667.6,789.54 1668.1,790.74 1668.6,793.53 1669.1,797.75 1669.6,803.24 1670.1,809.83 1670.6,817.36 1671.1,825.68 1671.6,834.6 1672.1,843.99 1672.6,853.66 1673.1,863.46 1673.6,873.24 1674.1,882.81 1674.6,892.03 1675.1,900.73 1675.6,908.75 1676.1,915.93 1676.6,922.1 1677.1,927.1 1677.6,930.77 1678.1,932.94 1678.6,933.46 1679.1,932.21 1679.6,929.28 1680.1,924.82 1680.6,918.98 1681.1,911.89 1681.6,903.72 1682.1,894.6 1682.6,884.67 1683.1,874.09 1683.6,863 1684.1,851.55 1684.6,839.87 1685.1,828.13 1685.6,816.45 1686.1,805 1686.6,793.91 1687.1,783.33 1687.6,773.4 1688.1,764.28 1688.6,756.11 1689.1,749.02 1689.6,743.18 1690.1,738.72 1690.6,735.79 1691.1,734.54 1691.6,735.26 1692.1,738.22 1692.6,743.22 1693.1,750.02 1693.6,758.42 1694.1,768.19 1694.6,779.1 1695.1,790.94 1695.6,803.49 1696.1,816.53 1696.6,829.83 1697.1,843.17 1697.6,856.34 1698.1,869.11 1698.6,881.26 1699.1,892.57 1699.6,902.83 1700.1,911.8 1700.6,919.27 1701.1,925.01 1701.6,928.81 1702.1,930.45 1702.6,929.9 1703.1,927.54 1703.6,923.57 1704.1,918.16 1704.6,911.47 1705.1,903.7 1705.6,895 1706.1,885.55 1706.6,875.53 1707.1,865.11 1707.6,854.46 1708.1,843.76 1708.6,833.19 1709.1,822.9 1709.6,813.09 1710.1,803.92 1710.6,795.57 1711.1,788.21 1711.6,782.01 1712.1,777.16 1712.6,773.81 1713.1,772.15 1713.6,772.31 1714.1,774.15 1714.6,777.51 1715.1,782.26 1715.6,788.23 1716.1,795.3 1716.6,803.31 1717.1,812.12 1717.6,821.58 1718.1,831.55 1718.6,841.89 1719.1,852.44 1719.6,863.06 1720.1,873.61 1720.6,883.95 1721.1,893.92 1721.6,903.38 1722.1,912.19 1722.6,920.2 1723.1,927.27 1723.6,933.24 1724.1,937.99 1724.6,941.35 1725.1,943.19 1725.6,943.4 1726.1,942.35 1726.6,940.23 1727.1,937.16 1727.6,933.24 1728.1,928.59 1728.6,923.33 1729.1,917.56 1729.6,911.39 1730.1,904.95 1730.6,898.33 1731.1,891.67 1731.6,885.05 1732.1,878.61 1732.6,872.44 1733.1,866.67 1733.6,861.41 1734.1,856.76 1734.6,852.84 1735.1,849.77 1735.6,847.65 1736.1,846.6 1736.6,846.69 1737.1,847.79 1737.6,849.83 1738.1,852.71 1738.6,856.36 1739.1,860.71 1739.6,865.66 1740.1,871.15 1740.6,877.1 1741.1,883.42 1741.6,890.04 1742.1,896.88 1742.6,903.86 1743.1,910.91 1743.6,917.94 1744.1,924.88 1744.6,931.64 1745.1,938.15 1745.6,944.33 1746.1,950.1 1746.6,955.39 1747.1,960.11 1747.6,964.19 1748.1,967.54 1748.6,970.09 1749.1,971.76 1749.6,972.48 1750.1,972.33 1750.6,971.69 1751.1,970.61 1751.6,969.16 1752.1,967.39 1752.6,965.36 1753.1,963.12 1753.6,960.73 1754.1,958.26 1754.6,955.75 1755.1,953.26 1755.6,950.85 1756.1,948.58 1756.6,946.5 1757.1,944.67 1757.6,943.15 1758.1,941.99 1758.6,941.26 1759.1,941 1759.6,941.28 1760.1,942.09 1760.6,943.36 1761.1,945.06 1761.6,947.11 1762.1,949.46 1762.6,952.06 1763.1,954.85 1763.6,957.78 1764.1,960.79 1764.6,963.83 1765.1,966.83 1765.6,969.75 1766.1,972.53 1766.6,975.12 1767.1,977.45 1767.6,979.52 1768.1,981.69 1768.6,983.95 1769.1,986.19 1769.6,988.27 1770.1,990.08 1770.6,991.5 1771.1,992.39 1771.6,992.85 1772.1,993.24 1772.6,993.57 1773.1,993.86 1773.6,994.11 1774.1,994.33 1774.6,994.52 1775.1,994.7 1775.6,994.87 1776.1,995.04 1776.6,995.21 1777.1,995.4 1777.6,995.61 1778.1,995.84 1778.6,996.11 1779.1,996.39 1779.6,996.67 1780.1,996.95 1780.6,997.24 1781.1,997.54 1781.6,997.85 1782.1,998.17 1782.6,998.5 1783.1,998.84 1783.6,999.2 1784.1,999.58 1784.6,1000 1785.1,1000.46 1785.6,1000.97 1786.1,1001.49 1786.6,1002.03 1787.1,1002.57 1787.6,1003.1 1788.1,1003.6 1788.6,1004.08 1789.1,1004.5 1789.6,1004.87 1790.1,1005.2 1790.6,1005.49 1791.1,1005.77 1791.6,1006.03 1792.1,1006.28 1792.6,1006.53 1793.1,1006.77 1793.6,1007.02 1794.1,1007.28 1794.6,1007.56 1795.1,1007.86 1795.6,1008.18 1796.1,1008.51 1796.6,1008.84 1797.1,1009.19 1797.6,1009.55 1798.1,1009.91 1798.6,1010.27 1799.1,1010.64 1799.6,1011.02 1800.1,1011.39 1800.6,1011.76 1801.1,1012.13 1801.6,1012.5 1802.1,1012.91 1802.6,1013.37 1803.1,1013.87 1803.6,1014.36 1804.1,1014.83 1804.6,1015.23 1805.1,1015.55 1805.6,1015.75 1806.1,1015.8 1806.6,1015.8 1807.1,1015.79 1807.6,1015.77 1808.1,1015.75 1808.6,1015.73 1809.1,1015.7 1809.6,1015.67 1810.1,1015.64 1810.6,1015.6 1811.1,1015.56 1811.6,1015.51 1812.1,1015.46 1812.6,1015.41 1813.1,1015.36 1813.6,1015.31 1814.1,1015.26 1814.6,1015.2 1815.1,1015.15 1815.6,1015.09 1816.1,1015.03 1816.6,1014.98 1817.1,1014.92 1817.6,1014.86 1818.1,1014.81 1818.6,1014.75 1819.1,1014.7 1819.6,1014.65 1820.1,1014.6 1820.6,1014.56 1821.1,1014.51 1821.6,1014.47 1822.1,1014.43 1822.6,1014.4 1823.1,1014.37 1823.6,1014.33 1824.1,1014.3 1824.6,1014.26 1825.1,1014.22 1825.6,1014.19 1826.1,1014.15 1826.6,1014.12 1827.1,1014.08 1827.6,1014.05 1828.1,1014.01 1828.6,1013.98 1829.1,1013.95 1829.6,1013.92 1830.1,1013.9 1830.6,1013.87 1831.1,1013.85 1831.6,1013.84 1832.1,1013.82 1832.6,1013.81 1833.1,1013.8 1833.6,1013.8 1834.1,1013.81 1834.6,1013.86 1835.1,1013.94 1835.6,1014.04 1836.1,1014.17 1836.6,1014.31 1837.1,1014.46 1837.6,1014.63 1838.1,1014.8 1838.6,1014.97 1839.1,1015.14 1839.6,1015.29 1840.1,1015.43 1840.6,1015.56 1841.1,1015.66 1841.6,1015.74 1842.1,1015.79 1842.6,1015.8 1843.1,1015.73 1843.6,1015.58 1844.1,1015.35 1844.6,1015.05 1845.1,1014.69 1845.6,1014.28 1846.1,1013.82 1846.6,1013.33 1847.1,1012.82 1847.6,1012.29 1848.1,1011.75 1848.6,1011.21 1849.1,1010.68 1849.6,1010.17 1850.1,1009.68 1850.6,1009.24 1851.1,1008.83 1851.6,1008.49 1852.1,1008.2 1852.6,1007.98 1853.1,1007.85 1853.6,1007.8 1854.1,1007.85 1854.6,1007.99 1855.1,1008.21 1855.6,1008.5 1856.1,1008.85 1856.6,1009.26 1857.1,1009.71 1857.6,1010.2 1858.1,1010.72 1858.6,1011.26 1859.1,1011.8 1859.6,1012.34 1860.1,1012.88 1860.6,1013.4 1861.1,1013.89 1861.6,1014.34 1862.1,1014.75 1862.6,1015.1 1863.1,1015.39 1863.6,1015.61 1864.1,1015.75 1864.6,1015.8 1865.1,1015.78 1865.6,1015.71 1866.1,1015.6 1866.6,1015.45 1867.1,1015.26 1867.6,1015.05 1868.1,1014.81 1868.6,1014.54 1869.1,1014.26 1869.6,1013.96 1870.1,1013.64 1870.6,1013.32 1871.1,1013 1871.6,1012.67 1872.1,1012.35 1872.6,1012.03 1873.1,1011.72 1873.6,1011.43 1874.1,1011.15 1874.6,1010.89 1875.1,1010.66 1875.6,1010.46 1876.1,1010.29 1876.6,1010.16 1877.1,1010.06 1877.6,1010.01 1878.1,1010 1878.6,1010.02 1879.1,1010.05 1879.6,1010.1 1880.1,1010.17 1880.6,1010.26 1881.1,1010.36 1881.6,1010.48 1882.1,1010.62 1882.6,1010.77 1883.1,1010.94 1883.6,1011.13 1884.1,1011.34 1884.6,1011.56 1885.1,1011.8 1885.6,1012.06 1886.1,1012.34 1886.6,1012.63 1887.1,1012.94 1887.6,1013.26 1888.1,1013.6 1888.6,1013.96 1889.1,1014.34 1889.6,1014.73 1890.1,1015.13 1890.6,1015.56 1891.1,1016" fill="none" stroke="#ff0000" stroke-width="3" stroke-linejoin="round"/>
<text x="93.88" y="85.59" font-size="35.77" font-weight="bold" textLength="15.42" lengthAdjust="spacingAndGlyphs" fill="#000" stroke="#000" stroke-width="0.25">a</text>
<text x="438.59" y="81.88" font-size="36.26" font-weight="bold" textLength="21.82" lengthAdjust="spacingAndGlyphs" fill="#000" stroke="#000" stroke-width="0.25">b</text>
<text x="1326.8" y="61.5" font-size="35.81" font-weight="bold" textLength="15.78" lengthAdjust="spacingAndGlyphs" fill="#000" stroke="#000" stroke-width="0.25">c</text>
<text x="89.6" y="568.84" font-size="37.6" font-weight="bold" textLength="22.15" lengthAdjust="spacingAndGlyphs" fill="#000" stroke="#000" stroke-width="0.25">d</text>
<text x="548.61" y="568.65" font-size="36.99" font-weight="bold" textLength="19.99" lengthAdjust="spacingAndGlyphs" fill="#000" stroke="#000" stroke-width="0.25">e</text>
<text x="1017.14" y="569.51" font-size="38.98" font-weight="bold" textLength="13.28" lengthAdjust="spacingAndGlyphs" fill="#000" stroke="#000" stroke-width="0.25">f</text>
<text x="1468.37" y="567.46" font-size="35.96" font-weight="bold" textLength="20.88" lengthAdjust="spacingAndGlyphs" fill="#000" stroke="#000" stroke-width="0.25">g</text>
<text x="298.64" y="372.67" font-size="31.01" textLength="85.15" lengthAdjust="spacingAndGlyphs" fill="#3a3a3a" stroke="#3a3a3a" stroke-width="0.45">50 µm</text>
<text x="191.52" y="476.57" font-size="31.88" textLength="84.84" lengthAdjust="spacingAndGlyphs" fill="#3a3a3a" stroke="#3a3a3a" stroke-width="0.45">20 µm</text>
<text x="476.56" y="311.3" font-size="31.21" textLength="33.62" lengthAdjust="spacingAndGlyphs" fill="#2b1414" stroke="#2b1414" stroke-width="0.45">LD</text>
<text x="602.66" y="405.99" font-size="30.67" textLength="40.78" lengthAdjust="spacingAndGlyphs" fill="#000" stroke="#000" stroke-width="0.45">OA</text>
<text x="659.8" y="405.27" font-size="30.46" textLength="30.21" lengthAdjust="spacingAndGlyphs" fill="#000" stroke="#000" stroke-width="0.45">L1</text>
<text x="781.84" y="405.99" font-size="30.67" textLength="41.47" lengthAdjust="spacingAndGlyphs" fill="#000" stroke="#000" stroke-width="0.45">OD</text>
<text x="916.26" y="405.69" font-size="31.21" textLength="30.6" lengthAdjust="spacingAndGlyphs" fill="#000" stroke="#000" stroke-width="0.45">L2</text>
<text x="985.91" y="406.43" font-size="31.77" textLength="34.84" lengthAdjust="spacingAndGlyphs" fill="#000" stroke="#000" stroke-width="0.45">DS</text>
<text x="1212.47" y="302.77" font-size="31.56" textLength="53.43" lengthAdjust="spacingAndGlyphs" fill="#0f1f00" stroke="#0f1f00" stroke-width="0.45">CCD</text>
<text x="1765.61" y="25.39" font-size="30.61" textLength="42.74" lengthAdjust="spacingAndGlyphs" fill="#000" stroke="#000" stroke-width="0.45">WL</text>
<text x="1725.46" y="146.99" font-size="31.56" font-weight="bold" textLength="102.99" lengthAdjust="spacingAndGlyphs" fill="#000" stroke="#000" stroke-width="0.25">V =0.41</text>
<text x="393.64" y="735.96" font-size="31.15" font-weight="bold" textLength="103.85" lengthAdjust="spacingAndGlyphs" fill="#000" stroke="#000" stroke-width="0.25">V =0.97</text>
<text x="854.64" y="734.45" font-size="31.56" font-weight="bold" textLength="103.12" lengthAdjust="spacingAndGlyphs" fill="#000" stroke="#000" stroke-width="0.25">V =0.94</text>
<text x="1311.67" y="737.41" font-size="32.07" font-weight="bold" textLength="111.02" lengthAdjust="spacingAndGlyphs" fill="#000" stroke="#000" stroke-width="0.25">V = 0.65</text>
<text x="1771.58" y="740.14" font-size="31.77" font-weight="bold" textLength="103.22" lengthAdjust="spacingAndGlyphs" fill="#000" stroke="#000" stroke-width="0.25">V =0.54</text>
<text x="366.64" y="589.65" font-size="30.86" textLength="141.89" lengthAdjust="spacingAndGlyphs" fill="#000" stroke="#000" stroke-width="0.45">No SD/MD</text>
<text x="740.6" y="588.12" font-size="30.6" textLength="200.53" lengthAdjust="spacingAndGlyphs" fill="#000" stroke="#000" stroke-width="0.45">SD/MD, DA = 1</text>
<text x="1226.44" y="588.12" font-size="30.6" textLength="200.23" lengthAdjust="spacingAndGlyphs" fill="#000" stroke="#000" stroke-width="0.45">SD/MD, DA = 6</text>
<text x="1667.42" y="588.12" font-size="30.6" textLength="217" lengthAdjust="spacingAndGlyphs" fill="#000" stroke="#000" stroke-width="0.45">SD/MD, DA = 12</text>
<text x="943.51" y="573.45" font-size="13.83" textLength="10.11" lengthAdjust="spacingAndGlyphs" fill="#000" stroke="#000" stroke-width="0.3">⋄</text>
<text x="1428.12" y="575.26" font-size="18.24" textLength="8.86" lengthAdjust="spacingAndGlyphs" fill="#000" stroke="#000" stroke-width="0.3">⋄</text>
<text x="1886.49" y="574.65" font-size="15.8" textLength="11.25" lengthAdjust="spacingAndGlyphs" fill="#000" stroke="#000" stroke-width="0.3">⋄</text>
<text x="1381.7" y="160.17" font-size="30.49" textLength="14.82" lengthAdjust="spacingAndGlyphs" fill="#000" stroke="#000" stroke-width="0.45">1</text>
<text x="1368.55" y="217" font-size="29.83" textLength="42.06" lengthAdjust="spacingAndGlyphs" fill="#000" stroke="#000" stroke-width="0.45">0.8</text>
<text x="1368.55" y="274.92" font-size="29.73" textLength="42.06" lengthAdjust="spacingAndGlyphs" fill="#000" stroke="#000" stroke-width="0.45">0.6</text>
<text x="1368.45" y="331.38" font-size="29.83" textLength="41.45" lengthAdjust="spacingAndGlyphs" fill="#000" stroke="#000" stroke-width="0.45">0.4</text>
<text x="1368.55" y="389.17" font-size="29.83" textLength="42.09" lengthAdjust="spacingAndGlyphs" fill="#000" stroke="#000" stroke-width="0.45">0.2</text>
<text x="1380.66" y="448.94" font-size="30.61" textLength="16.94" lengthAdjust="spacingAndGlyphs" fill="#000" stroke="#000" stroke-width="0.45">0</text>
<text x="1416.49" y="462.34" font-size="30.61" textLength="16.74" lengthAdjust="spacingAndGlyphs" fill="#000" stroke="#000" stroke-width="0.45">0</text>
<text x="1486.64" y="462.34" font-size="30.61" textLength="51.09" lengthAdjust="spacingAndGlyphs" fill="#000" stroke="#000" stroke-width="0.45">200</text>
<text x="1576.38" y="462.34" font-size="30.61" textLength="48.89" lengthAdjust="spacingAndGlyphs" fill="#000" stroke="#000" stroke-width="0.45">400</text>
<text x="1663.47" y="462.34" font-size="30.61" textLength="50.86" lengthAdjust="spacingAndGlyphs" fill="#000" stroke="#000" stroke-width="0.45">600</text>
<text x="1752" y="462.34" font-size="30.61" textLength="52.08" lengthAdjust="spacingAndGlyphs" fill="#000" stroke="#000" stroke-width="0.45">800</text>
<text x="1522.7" y="501.76" font-size="30.95" textLength="212.59" lengthAdjust="spacingAndGlyphs" fill="#000" stroke="#000" stroke-width="0.45">Position (Pixels)</text>
<text x="1342.25" y="424.6" font-size="26.92" textLength="278.23" lengthAdjust="spacingAndGlyphs" fill="#000" stroke="#000" stroke-width="0.45" transform="rotate(-90 1342.25 424.6)">Normalized Intensity</text>
<text x="57.71" y="737.34" font-size="30.61" textLength="15.33" lengthAdjust="spacingAndGlyphs" fill="#000" stroke="#000" stroke-width="0.45">1</text>
<text x="45.32" y="794.51" font-size="31.15" textLength="41.36" lengthAdjust="spacingAndGlyphs" fill="#000" stroke="#000" stroke-width="0.45">0.8</text>
<text x="45.62" y="851.07" font-size="31.21" textLength="41.15" lengthAdjust="spacingAndGlyphs" fill="#000" stroke="#000" stroke-width="0.45">0.6</text>
<text x="45.87" y="908.8" font-size="30.64" textLength="40.63" lengthAdjust="spacingAndGlyphs" fill="#000" stroke="#000" stroke-width="0.45">0.4</text>
<text x="45.52" y="965.69" font-size="31.21" textLength="41.78" lengthAdjust="spacingAndGlyphs" fill="#000" stroke="#000" stroke-width="0.45">0.2</text>
<text x="56.81" y="1025.24" font-size="29.73" textLength="17.34" lengthAdjust="spacingAndGlyphs" fill="#000" stroke="#000" stroke-width="0.45">0</text>
<text x="88.05" y="1050.93" font-size="29.73" textLength="15.89" lengthAdjust="spacingAndGlyphs" fill="#000" stroke="#000" stroke-width="0.45">0</text>
<text x="158.34" y="1050.93" font-size="29.73" textLength="51.08" lengthAdjust="spacingAndGlyphs" fill="#000" stroke="#000" stroke-width="0.45">200</text>
<text x="247.49" y="1050.93" font-size="29.73" textLength="50.56" lengthAdjust="spacingAndGlyphs" fill="#000" stroke="#000" stroke-width="0.45">400</text>
<text x="335.49" y="1050.93" font-size="29.73" textLength="51.3" lengthAdjust="spacingAndGlyphs" fill="#000" stroke="#000" stroke-width="0.45">600</text>
<text x="423.56" y="1050.93" font-size="29.73" textLength="51.74" lengthAdjust="spacingAndGlyphs" fill="#000" stroke="#000" stroke-width="0.45">800</text>
<text x="191.76" y="1090.6" font-size="30.23" textLength="211.32" lengthAdjust="spacingAndGlyphs" fill="#000" stroke="#000" stroke-width="0.45">Position (Pixels)</text>
<text x="28.45" y="1010" font-size="26.88" textLength="277.44" lengthAdjust="spacingAndGlyphs" fill="#000" stroke="#000" stroke-width="0.45" transform="rotate(-90 28.45 1010)">Normalized Intensity</text>
<text x="547.36" y="1049.72" font-size="30.49" textLength="16.63" lengthAdjust="spacingAndGlyphs" fill="#000" stroke="#000" stroke-width="0.45">0</text>
<text x="617.25" y="1049.72" font-size="30.49" textLength="51.87" lengthAdjust="spacingAndGlyphs" fill="#000" stroke="#000" stroke-width="0.45">200</text>
<text x="707.33" y="1049.72" font-size="30.49" textLength="50.63" lengthAdjust="spacingAndGlyphs" fill="#000" stroke="#000" stroke-width="0.45">400</text>
<text x="794.64" y="1049.72" font-size="30.49" textLength="51.8" lengthAdjust="spacingAndGlyphs" fill="#000" stroke="#000" stroke-width="0.45">600</text>
<text x="883.51" y="1049.72" font-size="30.49" textLength="51.38" lengthAdjust="spacingAndGlyphs" fill="#000" stroke="#000" stroke-width="0.45">800</text>
<text x="651.86" y="1090.47" font-size="30.31" textLength="210.97" lengthAdjust="spacingAndGlyphs" fill="#000" stroke="#000" stroke-width="0.45">Position (Pixels)</text>
<text x="1016.77" y="1049.72" font-size="30.49" textLength="16.3" lengthAdjust="spacingAndGlyphs" fill="#000" stroke="#000" stroke-width="0.45">0</text>
<text x="1086.91" y="1049.72" font-size="30.49" textLength="51.06" lengthAdjust="spacingAndGlyphs" fill="#000" stroke="#000" stroke-width="0.45">200</text>
<text x="1175.87" y="1049.72" font-size="30.49" textLength="50.63" lengthAdjust="spacingAndGlyphs" fill="#000" stroke="#000" stroke-width="0.45">400</text>
<text x="1264.2" y="1049.72" font-size="30.49" textLength="51.03" lengthAdjust="spacingAndGlyphs" fill="#000" stroke="#000" stroke-width="0.45">600</text>
<text x="1353.09" y="1049.72" font-size="30.49" textLength="51.09" lengthAdjust="spacingAndGlyphs" fill="#000" stroke="#000" stroke-width="0.45">800</text>
<text x="1115.64" y="1090.47" font-size="30.31" textLength="212.62" lengthAdjust="spacingAndGlyphs" fill="#000" stroke="#000" stroke-width="0.45">Position (Pixels)</text>
<text x="1477.71" y="1056.49" font-size="30.49" textLength="16.25" lengthAdjust="spacingAndGlyphs" fill="#000" stroke="#000" stroke-width="0.45">0</text>
<text x="1547.25" y="1056.49" font-size="30.49" textLength="51.87" lengthAdjust="spacingAndGlyphs" fill="#000" stroke="#000" stroke-width="0.45">200</text>
<text x="1637.2" y="1056.49" font-size="30.49" textLength="49.9" lengthAdjust="spacingAndGlyphs" fill="#000" stroke="#000" stroke-width="0.45">400</text>
<text x="1725.4" y="1056.49" font-size="30.49" textLength="50.29" lengthAdjust="spacingAndGlyphs" fill="#000" stroke="#000" stroke-width="0.45">600</text>
<text x="1813.51" y="1056.49" font-size="30.49" textLength="51.38" lengthAdjust="spacingAndGlyphs" fill="#000" stroke="#000" stroke-width="0.45">800</text>
<text x="1581.65" y="1097.48" font-size="30.69" textLength="211.41" lengthAdjust="spacingAndGlyphs" fill="#000" stroke="#000" stroke-width="0.45">Position (Pixels)</text></svg></body></html>
